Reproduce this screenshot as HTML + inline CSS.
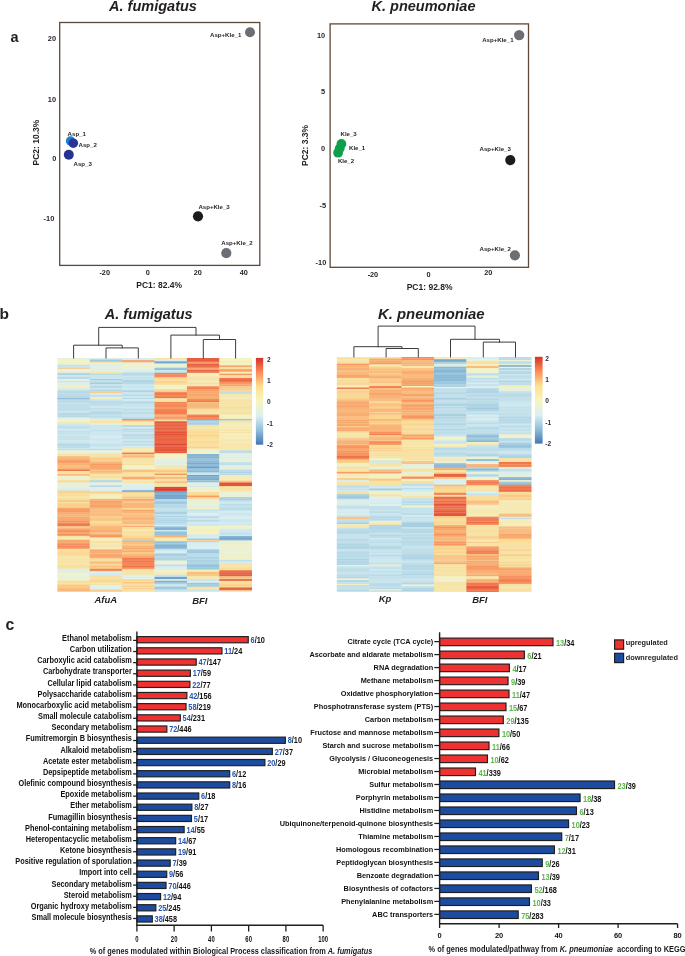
<!DOCTYPE html>
<html><head><meta charset="utf-8"><title>Figure</title>
<style>html,body{margin:0;padding:0;background:#fff;width:685px;height:956px;overflow:hidden}svg{display:block;will-change:transform}text{font-family:"Liberation Sans",sans-serif}</style>
</head><body><svg width="685" height="956" viewBox="0 0 685 956" font-family='"Liberation Sans", sans-serif'><text x="10.60" y="41.90" font-size="14.5" font-weight="bold" text-anchor="start" fill="#231f20">a</text><text x="153.00" y="10.80" font-size="14.5" font-weight="bold" text-anchor="middle" fill="#231f20" font-style="italic">A. fumigatus</text><text x="423.50" y="10.80" font-size="14.5" font-weight="bold" text-anchor="middle" fill="#231f20" font-style="italic">K. pneumoniae</text><rect x="59.70" y="22.50" width="200.10" height="242.90" fill="none" stroke="#5e4838" stroke-width="1.3"/><text x="56.10" y="41.15" font-size="7.4" font-weight="bold" text-anchor="end" fill="#231f20">20</text><text x="56.10" y="101.65" font-size="7.4" font-weight="bold" text-anchor="end" fill="#231f20">10</text><text x="56.30" y="160.95" font-size="7.4" font-weight="bold" text-anchor="end" fill="#231f20">0</text><text x="54.30" y="220.85" font-size="7.4" font-weight="bold" text-anchor="end" fill="#231f20">-10</text><text x="104.70" y="275.01" font-size="7.3" font-weight="bold" text-anchor="middle" fill="#231f20">-20</text><text x="147.80" y="275.01" font-size="7.3" font-weight="bold" text-anchor="middle" fill="#231f20">0</text><text x="197.70" y="275.01" font-size="7.3" font-weight="bold" text-anchor="middle" fill="#231f20">20</text><text x="243.80" y="275.01" font-size="7.3" font-weight="bold" text-anchor="middle" fill="#231f20">40</text><text x="159.20" y="287.64" font-size="8.5" font-weight="bold" text-anchor="middle" fill="#231f20">PC1: 82.4%</text><text x="35.60" y="145.60" font-size="8.5" font-weight="bold" text-anchor="middle" fill="#231f20" transform="rotate(-90 35.60 142.60)">PC2: 10.3%</text><circle cx="250.00" cy="32.20" r="5.00" fill="#6b6e73"/><circle cx="70.50" cy="141.00" r="4.70" fill="#1f7fd1"/><circle cx="73.30" cy="143.20" r="4.80" fill="#2a3492"/><circle cx="68.80" cy="154.80" r="5.00" fill="#27348f"/><circle cx="198.00" cy="216.30" r="5.10" fill="#1c1b1d"/><circle cx="226.30" cy="253.10" r="5.10" fill="#6b6e73"/><text x="210.00" y="37.20" font-size="6.1" font-weight="bold" text-anchor="start" fill="#231f20">Asp+Kle_1</text><text x="67.60" y="136.20" font-size="6.1" font-weight="bold" text-anchor="start" fill="#231f20">Asp_1</text><text x="78.50" y="147.00" font-size="6.1" font-weight="bold" text-anchor="start" fill="#231f20">Asp_2</text><text x="73.50" y="166.20" font-size="6.1" font-weight="bold" text-anchor="start" fill="#231f20">Asp_3</text><text x="198.40" y="208.60" font-size="6.1" font-weight="bold" text-anchor="start" fill="#231f20">Asp+Kle_3</text><text x="221.30" y="245.20" font-size="6.1" font-weight="bold" text-anchor="start" fill="#231f20">Asp+Kle_2</text><rect x="330.10" y="23.90" width="198.40" height="243.40" fill="none" stroke="#5e4838" stroke-width="1.3"/><text x="325.20" y="37.75" font-size="7.4" font-weight="bold" text-anchor="end" fill="#231f20">10</text><text x="325.20" y="94.45" font-size="7.4" font-weight="bold" text-anchor="end" fill="#231f20">5</text><text x="325.10" y="151.05" font-size="7.4" font-weight="bold" text-anchor="end" fill="#231f20">0</text><text x="326.20" y="208.45" font-size="7.4" font-weight="bold" text-anchor="end" fill="#231f20">-5</text><text x="326.30" y="264.75" font-size="7.4" font-weight="bold" text-anchor="end" fill="#231f20">-10</text><text x="372.90" y="276.61" font-size="7.3" font-weight="bold" text-anchor="middle" fill="#231f20">-20</text><text x="428.50" y="276.61" font-size="7.3" font-weight="bold" text-anchor="middle" fill="#231f20">0</text><text x="488.30" y="275.21" font-size="7.3" font-weight="bold" text-anchor="middle" fill="#231f20">20</text><text x="429.60" y="289.54" font-size="8.5" font-weight="bold" text-anchor="middle" fill="#231f20">PC1: 92.8%</text><text x="304.90" y="148.40" font-size="8.5" font-weight="bold" text-anchor="middle" fill="#231f20" transform="rotate(-90 304.90 145.40)">PC2: 3.3%</text><circle cx="519.20" cy="35.10" r="5.20" fill="#6b6e73"/><circle cx="510.30" cy="160.10" r="5.10" fill="#1c1b1d"/><circle cx="514.90" cy="255.30" r="5.10" fill="#6b6e73"/><circle cx="341.40" cy="143.90" r="4.90" fill="#0e9f4b"/><circle cx="339.70" cy="148.40" r="4.90" fill="#0e9f4b"/><circle cx="338.10" cy="152.70" r="4.90" fill="#0e9f4b"/><text x="482.20" y="41.70" font-size="6.1" font-weight="bold" text-anchor="start" fill="#231f20">Asp+Kle_1</text><text x="479.50" y="151.30" font-size="6.1" font-weight="bold" text-anchor="start" fill="#231f20">Asp+Kle_3</text><text x="479.50" y="251.40" font-size="6.1" font-weight="bold" text-anchor="start" fill="#231f20">Asp+Kle_2</text><text x="340.50" y="136.20" font-size="6.1" font-weight="bold" text-anchor="start" fill="#231f20">Kle_3</text><text x="349.00" y="149.60" font-size="6.1" font-weight="bold" text-anchor="start" fill="#231f20">Kle_1</text><text x="337.90" y="163.10" font-size="6.1" font-weight="bold" text-anchor="start" fill="#231f20">Kle_2</text><text x="-0.60" y="319.10" font-size="15.5" font-weight="bold" text-anchor="start" fill="#231f20">b</text><text x="148.70" y="318.80" font-size="14.5" font-weight="bold" text-anchor="middle" fill="#231f20" font-style="italic">A. fumigatus</text><text x="431.30" y="318.90" font-size="14.9" font-weight="bold" text-anchor="middle" fill="#231f20" font-style="italic">K. pneumoniae</text><rect x="57.40" y="358.00" width="32.68" height="1.60" fill="#e4f0de"/><rect x="57.40" y="359.30" width="32.68" height="0.50" fill="#e0efe5"/><rect x="57.40" y="359.50" width="32.68" height="2.10" fill="#f2f2c5"/><rect x="57.40" y="361.30" width="32.68" height="2.10" fill="#f1f2c8"/><rect x="57.40" y="363.10" width="32.68" height="1.60" fill="#eaf1d3"/><rect x="57.40" y="364.40" width="32.68" height="0.60" fill="#f3f1c3"/><rect x="57.40" y="364.70" width="32.68" height="2.10" fill="#c4e1eb"/><rect x="57.40" y="366.50" width="32.68" height="1.20" fill="#cbe6ee"/><rect x="57.40" y="367.40" width="32.68" height="0.60" fill="#cce7ee"/><rect x="57.40" y="367.70" width="32.68" height="1.30" fill="#f9be7f"/><rect x="57.40" y="368.70" width="32.68" height="1.20" fill="#f0f2c9"/><rect x="57.40" y="369.60" width="32.68" height="1.20" fill="#e5f0dc"/><rect x="57.40" y="370.50" width="32.68" height="2.50" fill="#e5f0dc"/><rect x="57.40" y="372.70" width="32.68" height="0.50" fill="#edf1ce"/><rect x="57.40" y="372.90" width="32.68" height="2.10" fill="#b3d7e6"/><rect x="57.40" y="374.70" width="32.68" height="0.70" fill="#a4cde1"/><rect x="57.40" y="375.10" width="32.68" height="2.10" fill="#cee8ef"/><rect x="57.40" y="376.90" width="32.68" height="0.70" fill="#b9dae8"/><rect x="57.40" y="377.30" width="32.68" height="1.60" fill="#add3e4"/><rect x="57.40" y="378.60" width="32.68" height="0.50" fill="#b5d8e7"/><rect x="57.40" y="378.80" width="32.68" height="1.20" fill="#deefe8"/><rect x="57.40" y="379.70" width="32.68" height="1.60" fill="#e4f0de"/><rect x="57.40" y="381.00" width="32.68" height="1.20" fill="#f8de9a"/><rect x="57.40" y="381.90" width="32.68" height="0.50" fill="#f8df9c"/><rect x="57.40" y="382.10" width="32.68" height="1.60" fill="#d7edf2"/><rect x="57.40" y="383.40" width="32.68" height="1.70" fill="#d8eef2"/><rect x="57.40" y="384.80" width="32.68" height="2.10" fill="#f4efbd"/><rect x="57.40" y="386.60" width="32.68" height="0.70" fill="#f3f1c1"/><rect x="57.40" y="387.00" width="32.68" height="2.50" fill="#e0efe4"/><rect x="57.40" y="389.20" width="32.68" height="2.10" fill="#c6e3ec"/><rect x="57.40" y="391.00" width="32.68" height="2.50" fill="#b8dae8"/><rect x="57.40" y="393.20" width="32.68" height="1.20" fill="#bbdce8"/><rect x="57.40" y="394.10" width="32.68" height="2.10" fill="#b9dbe8"/><rect x="57.40" y="395.90" width="32.68" height="1.60" fill="#b8dae7"/><rect x="57.40" y="397.20" width="32.68" height="1.30" fill="#afd4e5"/><rect x="57.40" y="398.20" width="32.68" height="1.50" fill="#85b4d4"/><rect x="57.40" y="399.40" width="32.68" height="1.60" fill="#bcdde9"/><rect x="57.40" y="400.70" width="32.68" height="2.10" fill="#b8dae7"/><rect x="57.40" y="402.50" width="32.68" height="1.20" fill="#bbdce8"/><rect x="57.40" y="403.40" width="32.68" height="1.60" fill="#c2e0eb"/><rect x="57.40" y="404.70" width="32.68" height="2.50" fill="#bedeea"/><rect x="57.40" y="406.90" width="32.68" height="2.10" fill="#c0dfea"/><rect x="57.40" y="408.70" width="32.68" height="1.60" fill="#bcdce9"/><rect x="57.40" y="410.00" width="32.68" height="1.20" fill="#c4e1eb"/><rect x="57.40" y="410.90" width="32.68" height="2.50" fill="#c8e4ed"/><rect x="57.40" y="413.10" width="32.68" height="2.50" fill="#b3d7e6"/><rect x="57.40" y="415.30" width="32.68" height="2.50" fill="#b7d9e7"/><rect x="57.40" y="417.50" width="32.68" height="1.80" fill="#e1efe3"/><rect x="57.40" y="419.00" width="32.68" height="1.60" fill="#f1f2c8"/><rect x="57.40" y="420.30" width="32.68" height="1.30" fill="#f3f1c1"/><rect x="57.40" y="421.30" width="32.68" height="1.20" fill="#f4edb9"/><rect x="57.40" y="422.20" width="32.68" height="1.60" fill="#f6e8b0"/><rect x="57.40" y="423.50" width="32.68" height="2.50" fill="#cee8ef"/><rect x="57.40" y="425.70" width="32.68" height="1.60" fill="#c0dfea"/><rect x="57.40" y="427.00" width="32.68" height="1.20" fill="#c2e0eb"/><rect x="57.40" y="427.90" width="32.68" height="1.60" fill="#c5e2ec"/><rect x="57.40" y="429.20" width="32.68" height="1.60" fill="#d0e9ef"/><rect x="57.40" y="430.50" width="32.68" height="2.10" fill="#c2e0eb"/><rect x="57.40" y="432.30" width="32.68" height="1.60" fill="#c0dfea"/><rect x="57.40" y="433.60" width="32.68" height="1.20" fill="#c4e1eb"/><rect x="57.40" y="434.50" width="32.68" height="2.50" fill="#cbe6ee"/><rect x="57.40" y="436.70" width="32.68" height="1.60" fill="#c1e0eb"/><rect x="57.40" y="438.00" width="32.68" height="1.20" fill="#cce6ee"/><rect x="57.40" y="438.90" width="32.68" height="1.60" fill="#c4e2eb"/><rect x="57.40" y="440.20" width="32.68" height="1.60" fill="#cde7ef"/><rect x="57.40" y="441.50" width="32.68" height="2.50" fill="#cce6ee"/><rect x="57.40" y="443.70" width="32.68" height="1.60" fill="#b4d8e6"/><rect x="57.40" y="445.00" width="32.68" height="1.20" fill="#b6d9e7"/><rect x="57.40" y="445.90" width="32.68" height="1.20" fill="#c1e0ea"/><rect x="57.40" y="446.80" width="32.68" height="1.60" fill="#bbdce8"/><rect x="57.40" y="448.10" width="32.68" height="1.20" fill="#cce6ee"/><rect x="57.40" y="449.00" width="32.68" height="1.60" fill="#bedee9"/><rect x="57.40" y="450.30" width="32.68" height="1.20" fill="#e7f0d9"/><rect x="57.40" y="451.20" width="32.68" height="1.60" fill="#ebf1d1"/><rect x="57.40" y="452.50" width="32.68" height="1.10" fill="#edf1cf"/><rect x="57.40" y="453.30" width="32.68" height="1.60" fill="#f6e5a9"/><rect x="57.40" y="454.60" width="32.68" height="1.60" fill="#f7e5a8"/><rect x="57.40" y="455.90" width="32.68" height="0.60" fill="#f5eab2"/><rect x="57.40" y="456.20" width="32.68" height="2.10" fill="#f9b779"/><rect x="57.40" y="458.00" width="32.68" height="1.60" fill="#f9bb7c"/><rect x="57.40" y="459.30" width="32.68" height="1.60" fill="#f89e65"/><rect x="57.40" y="460.60" width="32.68" height="2.50" fill="#f89b62"/><rect x="57.40" y="462.80" width="32.68" height="2.50" fill="#f8b376"/><rect x="57.40" y="465.00" width="32.68" height="1.20" fill="#f9bd7d"/><rect x="57.40" y="465.90" width="32.68" height="2.10" fill="#f9c080"/><rect x="57.40" y="467.70" width="32.68" height="1.60" fill="#f8b375"/><rect x="57.40" y="469.00" width="32.68" height="0.90" fill="#f8a86d"/><rect x="57.40" y="469.60" width="32.68" height="1.70" fill="#f0784d"/><rect x="57.40" y="471.00" width="32.68" height="1.30" fill="#f7e2a3"/><rect x="57.40" y="472.00" width="32.68" height="2.50" fill="#f8e09e"/><rect x="57.40" y="474.20" width="32.68" height="1.80" fill="#f8b073"/><rect x="57.40" y="475.70" width="32.68" height="1.60" fill="#f1f2c8"/><rect x="57.40" y="477.00" width="32.68" height="2.10" fill="#eaf1d4"/><rect x="57.40" y="478.80" width="32.68" height="1.60" fill="#eaf1d3"/><rect x="57.40" y="480.10" width="32.68" height="0.40" fill="#f3f2c3"/><rect x="57.40" y="480.20" width="32.68" height="1.60" fill="#f9db96"/><rect x="57.40" y="481.50" width="32.68" height="1.20" fill="#f9d38f"/><rect x="57.40" y="482.40" width="32.68" height="1.60" fill="#eaf1d4"/><rect x="57.40" y="483.70" width="32.68" height="2.10" fill="#e8f0d7"/><rect x="57.40" y="485.50" width="32.68" height="1.60" fill="#e1efe3"/><rect x="57.40" y="486.80" width="32.68" height="1.20" fill="#e8f0d7"/><rect x="57.40" y="487.70" width="32.68" height="1.00" fill="#ecf1cf"/><rect x="57.40" y="488.40" width="32.68" height="2.50" fill="#d3ebf1"/><rect x="57.40" y="490.60" width="32.68" height="2.50" fill="#f9d28e"/><rect x="57.40" y="492.80" width="32.68" height="2.10" fill="#f9dc96"/><rect x="57.40" y="494.60" width="32.68" height="1.20" fill="#f9dc96"/><rect x="57.40" y="495.50" width="32.68" height="0.60" fill="#f9cf8c"/><rect x="57.40" y="495.80" width="32.68" height="2.10" fill="#f6e5aa"/><rect x="57.40" y="497.60" width="32.68" height="0.70" fill="#f7e4a6"/><rect x="57.40" y="498.00" width="32.68" height="2.10" fill="#f8e09e"/><rect x="57.40" y="499.80" width="32.68" height="2.50" fill="#f9cb89"/><rect x="57.40" y="502.00" width="32.68" height="1.60" fill="#f8e09e"/><rect x="57.40" y="503.30" width="32.68" height="1.60" fill="#f9cc89"/><rect x="57.40" y="504.60" width="32.68" height="2.50" fill="#f9cf8b"/><rect x="57.40" y="506.80" width="32.68" height="1.20" fill="#f9db95"/><rect x="57.40" y="507.70" width="32.68" height="1.60" fill="#f8a56a"/><rect x="57.40" y="509.00" width="32.68" height="2.10" fill="#f89c63"/><rect x="57.40" y="510.80" width="32.68" height="1.60" fill="#f89c64"/><rect x="57.40" y="512.10" width="32.68" height="2.50" fill="#f8ab6f"/><rect x="57.40" y="514.30" width="32.68" height="2.50" fill="#f8b476"/><rect x="57.40" y="516.50" width="32.68" height="0.50" fill="#f9b97a"/><rect x="57.40" y="516.70" width="32.68" height="1.60" fill="#f8ab6f"/><rect x="57.40" y="518.00" width="32.68" height="2.50" fill="#f8a96e"/><rect x="57.40" y="520.20" width="32.68" height="1.20" fill="#f89c63"/><rect x="57.40" y="521.10" width="32.68" height="1.60" fill="#f78c58"/><rect x="57.40" y="522.40" width="32.68" height="1.60" fill="#f8965e"/><rect x="57.40" y="523.70" width="32.68" height="1.60" fill="#ef774c"/><rect x="57.40" y="525.00" width="32.68" height="1.60" fill="#f17a4e"/><rect x="57.40" y="526.30" width="32.68" height="2.10" fill="#f9ce8b"/><rect x="57.40" y="528.10" width="32.68" height="0.80" fill="#f9b87a"/><rect x="57.40" y="528.60" width="32.68" height="1.60" fill="#f8a96e"/><rect x="57.40" y="529.90" width="32.68" height="1.20" fill="#f89e65"/><rect x="57.40" y="530.80" width="32.68" height="1.60" fill="#f78e59"/><rect x="57.40" y="532.10" width="32.68" height="1.60" fill="#f8a76c"/><rect x="57.40" y="533.40" width="32.68" height="2.50" fill="#f8905a"/><rect x="57.40" y="535.60" width="32.68" height="0.70" fill="#f8a86d"/><rect x="57.40" y="536.00" width="32.68" height="1.80" fill="#f7e4a7"/><rect x="57.40" y="537.50" width="32.68" height="1.20" fill="#f5eab4"/><rect x="57.40" y="538.40" width="32.68" height="1.60" fill="#f5ebb5"/><rect x="57.40" y="539.70" width="32.68" height="2.50" fill="#f8a96e"/><rect x="57.40" y="541.90" width="32.68" height="1.20" fill="#f8ac70"/><rect x="57.40" y="542.80" width="32.68" height="1.00" fill="#f9b87a"/><rect x="57.40" y="543.50" width="32.68" height="1.20" fill="#f0784d"/><rect x="57.40" y="544.40" width="32.68" height="1.20" fill="#f38152"/><rect x="57.40" y="545.30" width="32.68" height="1.20" fill="#f8965f"/><rect x="57.40" y="546.20" width="32.68" height="1.20" fill="#f0784d"/><rect x="57.40" y="547.10" width="32.68" height="1.20" fill="#f8935c"/><rect x="57.40" y="548.00" width="32.68" height="1.00" fill="#f68a57"/><rect x="57.40" y="548.70" width="32.68" height="1.20" fill="#f8df9c"/><rect x="57.40" y="549.60" width="32.68" height="1.60" fill="#f7e2a2"/><rect x="57.40" y="550.90" width="32.68" height="1.20" fill="#f8df9c"/><rect x="57.40" y="551.80" width="32.68" height="2.10" fill="#f9d994"/><rect x="57.40" y="553.60" width="32.68" height="2.10" fill="#f9d691"/><rect x="57.40" y="555.40" width="32.68" height="1.60" fill="#f7e3a4"/><rect x="57.40" y="556.70" width="32.68" height="2.10" fill="#f7e5a9"/><rect x="57.40" y="558.50" width="32.68" height="1.60" fill="#f7e2a2"/><rect x="57.40" y="559.80" width="32.68" height="1.20" fill="#f6e8af"/><rect x="57.40" y="560.70" width="32.68" height="1.60" fill="#f8e1a0"/><rect x="57.40" y="562.00" width="32.68" height="1.60" fill="#f7e4a6"/><rect x="57.40" y="563.30" width="32.68" height="1.60" fill="#f7e4a7"/><rect x="57.40" y="564.60" width="32.68" height="1.20" fill="#f8df9c"/><rect x="57.40" y="565.50" width="32.68" height="2.50" fill="#f8de9b"/><rect x="57.40" y="567.70" width="32.68" height="1.20" fill="#f6e6aa"/><rect x="57.40" y="568.60" width="32.68" height="0.50" fill="#f8e09f"/><rect x="57.40" y="568.80" width="32.68" height="2.50" fill="#dbeeed"/><rect x="57.40" y="571.00" width="32.68" height="1.10" fill="#d9eef1"/><rect x="57.40" y="571.80" width="32.68" height="1.60" fill="#e9f0d6"/><rect x="57.40" y="573.10" width="32.68" height="1.60" fill="#ebf1d2"/><rect x="57.40" y="574.40" width="32.68" height="1.60" fill="#ecf1d0"/><rect x="57.40" y="575.70" width="32.68" height="1.60" fill="#e7f0d9"/><rect x="57.40" y="577.00" width="32.68" height="2.10" fill="#e7f0d9"/><rect x="57.40" y="578.80" width="32.68" height="2.20" fill="#f2f2c6"/><rect x="57.40" y="580.70" width="32.68" height="1.60" fill="#f9dc96"/><rect x="57.40" y="582.00" width="32.68" height="1.60" fill="#f8df9d"/><rect x="57.40" y="583.30" width="32.68" height="1.60" fill="#f9dd97"/><rect x="57.40" y="584.60" width="32.68" height="2.40" fill="#f9cb88"/><rect x="57.40" y="586.70" width="32.68" height="1.60" fill="#f9ca88"/><rect x="57.40" y="588.00" width="32.68" height="1.20" fill="#f9c080"/><rect x="57.40" y="588.90" width="32.68" height="2.50" fill="#f9b779"/><rect x="57.40" y="591.10" width="32.68" height="0.70" fill="#f9ca88"/><rect x="89.78" y="358.00" width="32.68" height="1.20" fill="#deefe7"/><rect x="89.78" y="358.90" width="32.68" height="0.90" fill="#d2eaf0"/><rect x="89.78" y="359.50" width="32.68" height="2.50" fill="#9ecadf"/><rect x="89.78" y="361.70" width="32.68" height="1.20" fill="#f6e6ab"/><rect x="89.78" y="362.60" width="32.68" height="0.90" fill="#f7e4a6"/><rect x="89.78" y="363.20" width="32.68" height="1.60" fill="#e7f0d9"/><rect x="89.78" y="364.50" width="32.68" height="1.60" fill="#e2efe1"/><rect x="89.78" y="365.80" width="32.68" height="0.70" fill="#e2efe1"/><rect x="89.78" y="366.20" width="32.68" height="1.60" fill="#dbeeed"/><rect x="89.78" y="367.50" width="32.68" height="1.60" fill="#e5f0dc"/><rect x="89.78" y="368.80" width="32.68" height="1.60" fill="#dcefeb"/><rect x="89.78" y="370.10" width="32.68" height="1.60" fill="#e3f0e0"/><rect x="89.78" y="371.40" width="32.68" height="2.50" fill="#f6e7ad"/><rect x="89.78" y="373.60" width="32.68" height="1.60" fill="#b6d9e7"/><rect x="89.78" y="374.90" width="32.68" height="1.20" fill="#c9e5ed"/><rect x="89.78" y="375.80" width="32.68" height="2.50" fill="#cae5ed"/><rect x="89.78" y="378.00" width="32.68" height="1.30" fill="#cbe6ee"/><rect x="89.78" y="379.00" width="32.68" height="1.30" fill="#a3cde1"/><rect x="89.78" y="380.00" width="32.68" height="2.10" fill="#c2e0eb"/><rect x="89.78" y="381.80" width="32.68" height="1.00" fill="#c7e3ec"/><rect x="89.78" y="382.50" width="32.68" height="1.60" fill="#a0cbe0"/><rect x="89.78" y="383.80" width="32.68" height="0.50" fill="#add3e4"/><rect x="89.78" y="384.00" width="32.68" height="2.10" fill="#cae5ed"/><rect x="89.78" y="385.80" width="32.68" height="2.50" fill="#b9dbe8"/><rect x="89.78" y="388.00" width="32.68" height="2.10" fill="#cbe6ee"/><rect x="89.78" y="389.80" width="32.68" height="2.00" fill="#b2d6e5"/><rect x="89.78" y="391.50" width="32.68" height="1.60" fill="#f9cd8a"/><rect x="89.78" y="392.80" width="32.68" height="0.90" fill="#f9d28e"/><rect x="89.78" y="393.40" width="32.68" height="2.10" fill="#d4ebf1"/><rect x="89.78" y="395.20" width="32.68" height="1.20" fill="#b8dae8"/><rect x="89.78" y="396.10" width="32.68" height="1.60" fill="#c8e4ed"/><rect x="89.78" y="397.40" width="32.68" height="1.80" fill="#f4efbe"/><rect x="89.78" y="398.90" width="32.68" height="1.60" fill="#cfe8ef"/><rect x="89.78" y="400.20" width="32.68" height="1.60" fill="#bddde9"/><rect x="89.78" y="401.50" width="32.68" height="2.10" fill="#b7d9e7"/><rect x="89.78" y="403.30" width="32.68" height="1.20" fill="#b9dae8"/><rect x="89.78" y="404.20" width="32.68" height="1.20" fill="#b7d9e7"/><rect x="89.78" y="405.10" width="32.68" height="1.60" fill="#c1dfea"/><rect x="89.78" y="406.40" width="32.68" height="2.10" fill="#cee7ef"/><rect x="89.78" y="408.20" width="32.68" height="1.60" fill="#b9dae8"/><rect x="89.78" y="409.50" width="32.68" height="2.10" fill="#c6e3ec"/><rect x="89.78" y="411.30" width="32.68" height="0.60" fill="#c7e3ec"/><rect x="89.78" y="411.60" width="32.68" height="1.60" fill="#aed4e4"/><rect x="89.78" y="412.90" width="32.68" height="1.60" fill="#bbdce8"/><rect x="89.78" y="414.20" width="32.68" height="0.70" fill="#9fcadf"/><rect x="89.78" y="414.60" width="32.68" height="1.20" fill="#cee7ef"/><rect x="89.78" y="415.50" width="32.68" height="1.60" fill="#bbdce9"/><rect x="89.78" y="416.80" width="32.68" height="1.60" fill="#c0dfea"/><rect x="89.78" y="418.10" width="32.68" height="1.20" fill="#d0e9ef"/><rect x="89.78" y="419.00" width="32.68" height="1.60" fill="#f5eab3"/><rect x="89.78" y="420.30" width="32.68" height="2.10" fill="#f6e6aa"/><rect x="89.78" y="422.10" width="32.68" height="1.20" fill="#f7e3a4"/><rect x="89.78" y="423.00" width="32.68" height="0.80" fill="#f6e6aa"/><rect x="89.78" y="423.50" width="32.68" height="1.60" fill="#e3f0e0"/><rect x="89.78" y="424.80" width="32.68" height="0.50" fill="#e3f0df"/><rect x="89.78" y="425.00" width="32.68" height="2.50" fill="#cce7ee"/><rect x="89.78" y="427.20" width="32.68" height="1.20" fill="#c5e2ec"/><rect x="89.78" y="428.10" width="32.68" height="2.10" fill="#cce7ee"/><rect x="89.78" y="429.90" width="32.68" height="1.60" fill="#c2e0eb"/><rect x="89.78" y="431.20" width="32.68" height="1.60" fill="#c7e3ec"/><rect x="89.78" y="432.50" width="32.68" height="1.20" fill="#c6e3ec"/><rect x="89.78" y="433.40" width="32.68" height="1.20" fill="#cfe8ef"/><rect x="89.78" y="434.30" width="32.68" height="1.20" fill="#bfdeea"/><rect x="89.78" y="435.20" width="32.68" height="1.20" fill="#d3ebf0"/><rect x="89.78" y="436.10" width="32.68" height="1.60" fill="#d4ebf1"/><rect x="89.78" y="437.40" width="32.68" height="2.50" fill="#d0e9ef"/><rect x="89.78" y="439.60" width="32.68" height="1.20" fill="#c4e1eb"/><rect x="89.78" y="440.50" width="32.68" height="1.60" fill="#d4ebf1"/><rect x="89.78" y="441.80" width="32.68" height="2.10" fill="#d3ebf0"/><rect x="89.78" y="443.60" width="32.68" height="2.10" fill="#c2e1eb"/><rect x="89.78" y="445.40" width="32.68" height="1.60" fill="#c4e1eb"/><rect x="89.78" y="446.70" width="32.68" height="2.50" fill="#d2eaf0"/><rect x="89.78" y="448.90" width="32.68" height="1.60" fill="#badbe8"/><rect x="89.78" y="450.20" width="32.68" height="0.40" fill="#c7e3ec"/><rect x="89.78" y="450.30" width="32.68" height="1.20" fill="#e9f0d5"/><rect x="89.78" y="451.20" width="32.68" height="1.60" fill="#e4f0de"/><rect x="89.78" y="452.50" width="32.68" height="1.10" fill="#e1efe3"/><rect x="89.78" y="453.30" width="32.68" height="1.60" fill="#f8de9a"/><rect x="89.78" y="454.60" width="32.68" height="2.50" fill="#f7e3a5"/><rect x="89.78" y="456.80" width="32.68" height="1.20" fill="#f8e1a0"/><rect x="89.78" y="457.70" width="32.68" height="1.60" fill="#f9cb89"/><rect x="89.78" y="459.00" width="32.68" height="1.60" fill="#f9cd8a"/><rect x="89.78" y="460.30" width="32.68" height="1.60" fill="#f9c987"/><rect x="89.78" y="461.60" width="32.68" height="2.40" fill="#f9b97a"/><rect x="89.78" y="463.70" width="32.68" height="2.10" fill="#f89b63"/><rect x="89.78" y="465.50" width="32.68" height="1.60" fill="#f8a369"/><rect x="89.78" y="466.80" width="32.68" height="2.10" fill="#f8a86d"/><rect x="89.78" y="468.60" width="32.68" height="1.20" fill="#f89c63"/><rect x="89.78" y="469.50" width="32.68" height="0.40" fill="#f89860"/><rect x="89.78" y="469.60" width="32.68" height="1.60" fill="#f9c987"/><rect x="89.78" y="470.90" width="32.68" height="1.20" fill="#f8b476"/><rect x="89.78" y="471.80" width="32.68" height="0.50" fill="#f9ce8b"/><rect x="89.78" y="472.00" width="32.68" height="1.20" fill="#f9c080"/><rect x="89.78" y="472.90" width="32.68" height="1.60" fill="#f9d08c"/><rect x="89.78" y="474.20" width="32.68" height="1.60" fill="#f8e1a0"/><rect x="89.78" y="475.50" width="32.68" height="1.60" fill="#f7e2a3"/><rect x="89.78" y="476.80" width="32.68" height="1.60" fill="#f8df9c"/><rect x="89.78" y="478.10" width="32.68" height="1.60" fill="#f6e6ac"/><rect x="89.78" y="479.40" width="32.68" height="1.10" fill="#f8df9d"/><rect x="89.78" y="480.20" width="32.68" height="1.60" fill="#b1d5e5"/><rect x="89.78" y="481.50" width="32.68" height="1.20" fill="#b2d6e5"/><rect x="89.78" y="482.40" width="32.68" height="2.50" fill="#e7f0d9"/><rect x="89.78" y="484.60" width="32.68" height="1.10" fill="#e5f0db"/><rect x="89.78" y="485.40" width="32.68" height="1.80" fill="#b2d6e5"/><rect x="89.78" y="486.90" width="32.68" height="1.60" fill="#e0efe4"/><rect x="89.78" y="488.20" width="32.68" height="2.50" fill="#dbeeed"/><rect x="89.78" y="490.40" width="32.68" height="1.30" fill="#e0efe4"/><rect x="89.78" y="491.40" width="32.68" height="2.50" fill="#f9d08c"/><rect x="89.78" y="493.60" width="32.68" height="1.60" fill="#f4edb9"/><rect x="89.78" y="494.90" width="32.68" height="2.10" fill="#f4eebb"/><rect x="89.78" y="496.70" width="32.68" height="2.40" fill="#f3f2c3"/><rect x="89.78" y="498.80" width="32.68" height="2.50" fill="#f8b678"/><rect x="89.78" y="501.00" width="32.68" height="2.10" fill="#f8a268"/><rect x="89.78" y="502.80" width="32.68" height="2.10" fill="#f8ab6f"/><rect x="89.78" y="504.60" width="32.68" height="2.50" fill="#f8a268"/><rect x="89.78" y="506.80" width="32.68" height="1.20" fill="#f8a56b"/><rect x="89.78" y="507.70" width="32.68" height="1.60" fill="#f9bd7d"/><rect x="89.78" y="509.00" width="32.68" height="1.60" fill="#f9bd7d"/><rect x="89.78" y="510.30" width="32.68" height="2.10" fill="#f9ba7b"/><rect x="89.78" y="512.10" width="32.68" height="1.60" fill="#f9bd7d"/><rect x="89.78" y="513.40" width="32.68" height="2.10" fill="#f9b879"/><rect x="89.78" y="515.20" width="32.68" height="1.60" fill="#f9b87a"/><rect x="89.78" y="516.50" width="32.68" height="2.50" fill="#f9d28e"/><rect x="89.78" y="518.70" width="32.68" height="1.20" fill="#f9b779"/><rect x="89.78" y="519.60" width="32.68" height="2.10" fill="#f9cb89"/><rect x="89.78" y="521.40" width="32.68" height="2.50" fill="#f9dd98"/><rect x="89.78" y="523.60" width="32.68" height="2.10" fill="#f9cd8a"/><rect x="89.78" y="525.40" width="32.68" height="0.50" fill="#f8de9b"/><rect x="89.78" y="525.60" width="32.68" height="2.50" fill="#f9ba7b"/><rect x="89.78" y="527.80" width="32.68" height="2.50" fill="#f9b87a"/><rect x="89.78" y="530.00" width="32.68" height="2.50" fill="#f8ad71"/><rect x="89.78" y="532.20" width="32.68" height="1.60" fill="#f9b97b"/><rect x="89.78" y="533.50" width="32.68" height="1.30" fill="#f9bb7c"/><rect x="89.78" y="534.50" width="32.68" height="2.50" fill="#f89860"/><rect x="89.78" y="536.70" width="32.68" height="1.10" fill="#f89961"/><rect x="89.78" y="537.50" width="32.68" height="2.10" fill="#f4edba"/><rect x="89.78" y="539.30" width="32.68" height="1.50" fill="#f4eebb"/><rect x="89.78" y="540.50" width="32.68" height="1.60" fill="#f7e5a8"/><rect x="89.78" y="541.80" width="32.68" height="1.60" fill="#f8e1a0"/><rect x="89.78" y="543.10" width="32.68" height="1.60" fill="#f5e9b1"/><rect x="89.78" y="544.40" width="32.68" height="2.30" fill="#f7e3a5"/><rect x="89.78" y="546.40" width="32.68" height="2.10" fill="#f6e8af"/><rect x="89.78" y="548.20" width="32.68" height="1.20" fill="#f5ebb6"/><rect x="89.78" y="549.10" width="32.68" height="0.60" fill="#f5eab4"/><rect x="89.78" y="549.40" width="32.68" height="2.50" fill="#f8a86d"/><rect x="89.78" y="551.60" width="32.68" height="2.10" fill="#f8ae72"/><rect x="89.78" y="553.40" width="32.68" height="1.60" fill="#f8b174"/><rect x="89.78" y="554.70" width="32.68" height="1.60" fill="#f8a46a"/><rect x="89.78" y="556.00" width="32.68" height="1.60" fill="#f8a96e"/><rect x="89.78" y="557.30" width="32.68" height="1.40" fill="#f8a067"/><rect x="89.78" y="558.40" width="32.68" height="1.60" fill="#f8de9a"/><rect x="89.78" y="559.70" width="32.68" height="1.20" fill="#f8de9a"/><rect x="89.78" y="560.60" width="32.68" height="1.00" fill="#f7e2a4"/><rect x="89.78" y="561.30" width="32.68" height="2.10" fill="#f9be7e"/><rect x="89.78" y="563.10" width="32.68" height="1.60" fill="#f9c382"/><rect x="89.78" y="564.40" width="32.68" height="1.60" fill="#f9db96"/><rect x="89.78" y="565.70" width="32.68" height="1.60" fill="#f9c080"/><rect x="89.78" y="567.00" width="32.68" height="2.10" fill="#f9cf8c"/><rect x="89.78" y="568.80" width="32.68" height="1.60" fill="#f38252"/><rect x="89.78" y="570.10" width="32.68" height="1.20" fill="#f58856"/><rect x="89.78" y="571.00" width="32.68" height="1.60" fill="#cae5ed"/><rect x="89.78" y="572.30" width="32.68" height="1.60" fill="#dbefec"/><rect x="89.78" y="573.60" width="32.68" height="2.10" fill="#d0e9f0"/><rect x="89.78" y="575.40" width="32.68" height="1.10" fill="#cde7ee"/><rect x="89.78" y="576.20" width="32.68" height="1.60" fill="#f9dc96"/><rect x="89.78" y="577.50" width="32.68" height="1.60" fill="#f7e2a4"/><rect x="89.78" y="578.80" width="32.68" height="1.60" fill="#f8df9d"/><rect x="89.78" y="580.10" width="32.68" height="2.10" fill="#f9d590"/><rect x="89.78" y="581.90" width="32.68" height="1.60" fill="#f7e3a4"/><rect x="89.78" y="583.20" width="32.68" height="2.30" fill="#f7e3a4"/><rect x="89.78" y="585.20" width="32.68" height="1.60" fill="#ddefea"/><rect x="89.78" y="586.50" width="32.68" height="2.10" fill="#ddefe9"/><rect x="89.78" y="588.30" width="32.68" height="1.60" fill="#daeeef"/><rect x="89.78" y="589.60" width="32.68" height="1.60" fill="#f9ce8b"/><rect x="89.78" y="590.90" width="32.68" height="0.90" fill="#f9cf8c"/><rect x="122.17" y="358.00" width="32.68" height="2.10" fill="#d7edf2"/><rect x="122.17" y="359.80" width="32.68" height="0.70" fill="#d9eef0"/><rect x="122.17" y="360.20" width="32.68" height="1.60" fill="#f89a62"/><rect x="122.17" y="361.50" width="32.68" height="1.20" fill="#f8a066"/><rect x="122.17" y="362.40" width="32.68" height="2.10" fill="#ebf1d1"/><rect x="122.17" y="364.20" width="32.68" height="1.50" fill="#e7f0d8"/><rect x="122.17" y="365.40" width="32.68" height="1.60" fill="#f1f2c8"/><rect x="122.17" y="366.70" width="32.68" height="2.00" fill="#eef1cc"/><rect x="122.17" y="368.40" width="32.68" height="1.60" fill="#e5f0dc"/><rect x="122.17" y="369.70" width="32.68" height="1.20" fill="#d9eef1"/><rect x="122.17" y="370.60" width="32.68" height="1.10" fill="#e3f0df"/><rect x="122.17" y="371.40" width="32.68" height="1.60" fill="#d0e9ef"/><rect x="122.17" y="372.70" width="32.68" height="2.50" fill="#b8dae7"/><rect x="122.17" y="374.90" width="32.68" height="1.60" fill="#bddde9"/><rect x="122.17" y="376.20" width="32.68" height="1.60" fill="#cce7ee"/><rect x="122.17" y="377.50" width="32.68" height="1.20" fill="#add3e4"/><rect x="122.17" y="378.40" width="32.68" height="1.60" fill="#d0e9ef"/><rect x="122.17" y="379.70" width="32.68" height="2.50" fill="#afd4e4"/><rect x="122.17" y="381.90" width="32.68" height="2.10" fill="#b7d9e7"/><rect x="122.17" y="383.70" width="32.68" height="1.20" fill="#bfdeea"/><rect x="122.17" y="384.60" width="32.68" height="1.60" fill="#d1eaf0"/><rect x="122.17" y="385.90" width="32.68" height="1.20" fill="#c2e0eb"/><rect x="122.17" y="386.80" width="32.68" height="2.50" fill="#cee8ef"/><rect x="122.17" y="389.00" width="32.68" height="1.20" fill="#d2eaf0"/><rect x="122.17" y="389.90" width="32.68" height="1.20" fill="#bedee9"/><rect x="122.17" y="390.80" width="32.68" height="1.60" fill="#aed3e4"/><rect x="122.17" y="392.10" width="32.68" height="1.60" fill="#cae5ee"/><rect x="122.17" y="393.40" width="32.68" height="1.60" fill="#c7e3ec"/><rect x="122.17" y="394.70" width="32.68" height="2.10" fill="#badbe8"/><rect x="122.17" y="396.50" width="32.68" height="1.60" fill="#d3ebf0"/><rect x="122.17" y="397.80" width="32.68" height="1.60" fill="#b6d9e7"/><rect x="122.17" y="399.10" width="32.68" height="2.50" fill="#d2eaf0"/><rect x="122.17" y="401.30" width="32.68" height="2.50" fill="#b3d7e6"/><rect x="122.17" y="403.50" width="32.68" height="2.10" fill="#c5e2ec"/><rect x="122.17" y="405.30" width="32.68" height="2.50" fill="#c6e3ec"/><rect x="122.17" y="407.50" width="32.68" height="1.20" fill="#d1eaf0"/><rect x="122.17" y="408.40" width="32.68" height="2.50" fill="#bddde9"/><rect x="122.17" y="410.60" width="32.68" height="1.60" fill="#c9e5ed"/><rect x="122.17" y="411.90" width="32.68" height="2.50" fill="#bddde9"/><rect x="122.17" y="414.10" width="32.68" height="1.20" fill="#c9e5ed"/><rect x="122.17" y="415.00" width="32.68" height="2.50" fill="#c9e5ed"/><rect x="122.17" y="417.20" width="32.68" height="1.20" fill="#b7d9e7"/><rect x="122.17" y="418.10" width="32.68" height="1.20" fill="#b3d7e6"/><rect x="122.17" y="419.00" width="32.68" height="1.60" fill="#f8935c"/><rect x="122.17" y="420.30" width="32.68" height="1.20" fill="#f8ae72"/><rect x="122.17" y="421.20" width="32.68" height="0.40" fill="#f8915b"/><rect x="122.17" y="421.30" width="32.68" height="2.50" fill="#f6e8b0"/><rect x="122.17" y="423.50" width="32.68" height="1.60" fill="#f5ecb8"/><rect x="122.17" y="424.80" width="32.68" height="0.50" fill="#f4edb9"/><rect x="122.17" y="425.00" width="32.68" height="2.50" fill="#b8dae7"/><rect x="122.17" y="427.20" width="32.68" height="1.60" fill="#d1eaf0"/><rect x="122.17" y="428.50" width="32.68" height="2.10" fill="#b7d9e7"/><rect x="122.17" y="430.30" width="32.68" height="2.50" fill="#bfdeea"/><rect x="122.17" y="432.50" width="32.68" height="1.60" fill="#cfe8ef"/><rect x="122.17" y="433.80" width="32.68" height="1.20" fill="#c0dfea"/><rect x="122.17" y="434.70" width="32.68" height="2.10" fill="#b8dae8"/><rect x="122.17" y="436.50" width="32.68" height="1.60" fill="#c0dfea"/><rect x="122.17" y="437.80" width="32.68" height="1.60" fill="#bedeea"/><rect x="122.17" y="439.10" width="32.68" height="2.10" fill="#cfe8ef"/><rect x="122.17" y="440.90" width="32.68" height="1.60" fill="#b9dbe8"/><rect x="122.17" y="442.20" width="32.68" height="1.60" fill="#c6e3ec"/><rect x="122.17" y="443.50" width="32.68" height="1.60" fill="#c0dfea"/><rect x="122.17" y="444.80" width="32.68" height="1.60" fill="#c6e3ec"/><rect x="122.17" y="446.10" width="32.68" height="2.10" fill="#d3ebf0"/><rect x="122.17" y="447.90" width="32.68" height="0.40" fill="#c5e2ec"/><rect x="122.17" y="448.00" width="32.68" height="1.60" fill="#f5eab3"/><rect x="122.17" y="449.30" width="32.68" height="2.10" fill="#f5ebb6"/><rect x="122.17" y="451.10" width="32.68" height="1.70" fill="#f5e9b2"/><rect x="122.17" y="452.50" width="32.68" height="1.80" fill="#f27e50"/><rect x="122.17" y="454.00" width="32.68" height="2.50" fill="#f9c685"/><rect x="122.17" y="456.20" width="32.68" height="1.60" fill="#f8ae71"/><rect x="122.17" y="457.50" width="32.68" height="0.50" fill="#f9ba7c"/><rect x="122.17" y="457.70" width="32.68" height="2.50" fill="#f7e3a5"/><rect x="122.17" y="459.90" width="32.68" height="2.10" fill="#f7e3a5"/><rect x="122.17" y="461.70" width="32.68" height="2.50" fill="#f6e6ab"/><rect x="122.17" y="463.90" width="32.68" height="1.60" fill="#f8de9b"/><rect x="122.17" y="465.20" width="32.68" height="2.50" fill="#f1f2c8"/><rect x="122.17" y="467.40" width="32.68" height="1.60" fill="#f1f2c8"/><rect x="122.17" y="468.70" width="32.68" height="1.20" fill="#f1f2c8"/><rect x="122.17" y="469.60" width="32.68" height="2.50" fill="#f9c181"/><rect x="122.17" y="471.80" width="32.68" height="0.50" fill="#f9ce8b"/><rect x="122.17" y="472.00" width="32.68" height="1.60" fill="#f9dd99"/><rect x="122.17" y="473.30" width="32.68" height="1.60" fill="#f8df9c"/><rect x="122.17" y="474.60" width="32.68" height="2.20" fill="#f6e6aa"/><rect x="122.17" y="476.50" width="32.68" height="1.60" fill="#f9b779"/><rect x="122.17" y="477.80" width="32.68" height="1.60" fill="#f8a76c"/><rect x="122.17" y="479.10" width="32.68" height="0.60" fill="#f8ab6f"/><rect x="122.17" y="479.40" width="32.68" height="1.20" fill="#f8e1a0"/><rect x="122.17" y="480.30" width="32.68" height="1.20" fill="#f6e8b0"/><rect x="122.17" y="481.20" width="32.68" height="2.30" fill="#f7e5a9"/><rect x="122.17" y="483.20" width="32.68" height="1.60" fill="#deefe8"/><rect x="122.17" y="484.50" width="32.68" height="2.50" fill="#deefe8"/><rect x="122.17" y="486.70" width="32.68" height="1.60" fill="#e1efe3"/><rect x="122.17" y="488.00" width="32.68" height="1.60" fill="#daeeef"/><rect x="122.17" y="489.30" width="32.68" height="0.90" fill="#dcefeb"/><rect x="122.17" y="489.90" width="32.68" height="1.60" fill="#8ebdd9"/><rect x="122.17" y="491.20" width="32.68" height="1.20" fill="#7cabd0"/><rect x="122.17" y="492.10" width="32.68" height="1.60" fill="#f9d28e"/><rect x="122.17" y="493.40" width="32.68" height="2.50" fill="#f8df9b"/><rect x="122.17" y="495.60" width="32.68" height="1.20" fill="#f8de9a"/><rect x="122.17" y="496.50" width="32.68" height="2.10" fill="#f9c987"/><rect x="122.17" y="498.30" width="32.68" height="0.80" fill="#f8df9d"/><rect x="122.17" y="498.80" width="32.68" height="1.20" fill="#f8a067"/><rect x="122.17" y="499.70" width="32.68" height="1.60" fill="#f8af73"/><rect x="122.17" y="501.00" width="32.68" height="1.60" fill="#f9c987"/><rect x="122.17" y="502.30" width="32.68" height="2.50" fill="#f9ba7b"/><rect x="122.17" y="504.50" width="32.68" height="1.20" fill="#f8a76d"/><rect x="122.17" y="505.40" width="32.68" height="1.60" fill="#f8b476"/><rect x="122.17" y="506.70" width="32.68" height="1.60" fill="#f9bb7c"/><rect x="122.17" y="508.00" width="32.68" height="2.10" fill="#f9d792"/><rect x="122.17" y="509.80" width="32.68" height="1.60" fill="#f8a56a"/><rect x="122.17" y="511.10" width="32.68" height="2.10" fill="#f8b073"/><rect x="122.17" y="512.90" width="32.68" height="1.60" fill="#f9cc89"/><rect x="122.17" y="514.20" width="32.68" height="1.60" fill="#f9b678"/><rect x="122.17" y="515.50" width="32.68" height="1.60" fill="#f9c080"/><rect x="122.17" y="516.80" width="32.68" height="1.60" fill="#f9b97a"/><rect x="122.17" y="518.10" width="32.68" height="1.60" fill="#f8ab6f"/><rect x="122.17" y="519.40" width="32.68" height="1.20" fill="#f8aa6e"/><rect x="122.17" y="520.30" width="32.68" height="1.60" fill="#f9c181"/><rect x="122.17" y="521.60" width="32.68" height="1.20" fill="#f8ae71"/><rect x="122.17" y="522.50" width="32.68" height="2.10" fill="#f9bb7c"/><rect x="122.17" y="524.30" width="32.68" height="2.10" fill="#f9d490"/><rect x="122.17" y="526.10" width="32.68" height="1.30" fill="#f8a66b"/><rect x="122.17" y="527.10" width="32.68" height="2.50" fill="#f8df9c"/><rect x="122.17" y="529.30" width="32.68" height="1.20" fill="#f8e1a1"/><rect x="122.17" y="530.20" width="32.68" height="2.10" fill="#f7e5a8"/><rect x="122.17" y="532.00" width="32.68" height="1.60" fill="#f8de9a"/><rect x="122.17" y="533.30" width="32.68" height="1.20" fill="#f8df9d"/><rect x="122.17" y="534.20" width="32.68" height="1.60" fill="#f8e09e"/><rect x="122.17" y="535.50" width="32.68" height="1.60" fill="#f9d994"/><rect x="122.17" y="536.80" width="32.68" height="1.00" fill="#f8de9b"/><rect x="122.17" y="537.50" width="32.68" height="2.50" fill="#f9c987"/><rect x="122.17" y="539.70" width="32.68" height="1.10" fill="#f9c080"/><rect x="122.17" y="540.50" width="32.68" height="1.80" fill="#a0cbdf"/><rect x="122.17" y="542.00" width="32.68" height="2.50" fill="#f9bf7f"/><rect x="122.17" y="544.20" width="32.68" height="1.60" fill="#f9c785"/><rect x="122.17" y="545.50" width="32.68" height="2.10" fill="#f8b275"/><rect x="122.17" y="547.30" width="32.68" height="2.50" fill="#f8aa6e"/><rect x="122.17" y="549.50" width="32.68" height="1.60" fill="#f9c181"/><rect x="122.17" y="550.80" width="32.68" height="1.20" fill="#f89f66"/><rect x="122.17" y="551.70" width="32.68" height="2.50" fill="#f9cb89"/><rect x="122.17" y="553.90" width="32.68" height="2.10" fill="#f9ba7c"/><rect x="122.17" y="555.70" width="32.68" height="1.20" fill="#f8a46a"/><rect x="122.17" y="556.60" width="32.68" height="1.20" fill="#f8a66c"/><rect x="122.17" y="557.50" width="32.68" height="0.40" fill="#f9c180"/><rect x="122.17" y="557.60" width="32.68" height="1.60" fill="#f07a4e"/><rect x="122.17" y="558.90" width="32.68" height="1.60" fill="#f38152"/><rect x="122.17" y="560.20" width="32.68" height="2.10" fill="#f17b4f"/><rect x="122.17" y="562.00" width="32.68" height="2.10" fill="#f58856"/><rect x="122.17" y="563.80" width="32.68" height="1.20" fill="#f58755"/><rect x="122.17" y="564.70" width="32.68" height="1.60" fill="#f68a57"/><rect x="122.17" y="566.00" width="32.68" height="1.20" fill="#ed714a"/><rect x="122.17" y="566.90" width="32.68" height="1.60" fill="#f78c58"/><rect x="122.17" y="568.20" width="32.68" height="0.90" fill="#f38353"/><rect x="122.17" y="568.80" width="32.68" height="1.60" fill="#f9dd98"/><rect x="122.17" y="570.10" width="32.68" height="2.10" fill="#f7e4a7"/><rect x="122.17" y="571.90" width="32.68" height="2.50" fill="#f7e4a6"/><rect x="122.17" y="574.10" width="32.68" height="0.90" fill="#f8e09e"/><rect x="122.17" y="574.70" width="32.68" height="2.10" fill="#ddefea"/><rect x="122.17" y="576.50" width="32.68" height="2.10" fill="#dbeeec"/><rect x="122.17" y="578.30" width="32.68" height="1.20" fill="#e4f0dd"/><rect x="122.17" y="579.20" width="32.68" height="2.10" fill="#f9d590"/><rect x="122.17" y="581.00" width="32.68" height="1.20" fill="#f6e7ad"/><rect x="122.17" y="581.90" width="32.68" height="1.60" fill="#f9c483"/><rect x="122.17" y="583.20" width="32.68" height="1.60" fill="#f9d490"/><rect x="122.17" y="584.50" width="32.68" height="1.20" fill="#f7e3a5"/><rect x="122.17" y="585.40" width="32.68" height="2.10" fill="#f9d18d"/><rect x="122.17" y="587.20" width="32.68" height="1.20" fill="#f8e09f"/><rect x="122.17" y="588.10" width="32.68" height="1.60" fill="#f9cd8a"/><rect x="122.17" y="589.40" width="32.68" height="1.20" fill="#f8e09e"/><rect x="122.17" y="590.30" width="32.68" height="1.20" fill="#f9dd99"/><rect x="122.17" y="591.20" width="32.68" height="0.60" fill="#f8e09e"/><rect x="154.55" y="358.00" width="32.68" height="1.20" fill="#f8e09f"/><rect x="154.55" y="358.90" width="32.68" height="0.60" fill="#f7e2a4"/><rect x="154.55" y="359.20" width="32.68" height="2.10" fill="#d5ecf1"/><rect x="154.55" y="361.00" width="32.68" height="1.20" fill="#93c2db"/><rect x="154.55" y="361.90" width="32.68" height="1.60" fill="#75a5cc"/><rect x="154.55" y="363.20" width="32.68" height="0.70" fill="#8bbad7"/><rect x="154.55" y="363.60" width="32.68" height="1.20" fill="#ebf1d1"/><rect x="154.55" y="364.50" width="32.68" height="1.20" fill="#e9f1d5"/><rect x="154.55" y="365.40" width="32.68" height="1.60" fill="#e9f1d5"/><rect x="154.55" y="366.70" width="32.68" height="1.30" fill="#ecf1d0"/><rect x="154.55" y="367.70" width="32.68" height="1.20" fill="#9cc8de"/><rect x="154.55" y="368.60" width="32.68" height="1.60" fill="#8bbad7"/><rect x="154.55" y="369.90" width="32.68" height="2.10" fill="#cee8ef"/><rect x="154.55" y="371.70" width="32.68" height="1.50" fill="#c1dfea"/><rect x="154.55" y="372.90" width="32.68" height="1.60" fill="#f38353"/><rect x="154.55" y="374.20" width="32.68" height="2.50" fill="#f58856"/><rect x="154.55" y="376.40" width="32.68" height="1.20" fill="#f0794e"/><rect x="154.55" y="377.30" width="32.68" height="2.50" fill="#f9d591"/><rect x="154.55" y="379.50" width="32.68" height="0.40" fill="#f8e09e"/><rect x="154.55" y="379.60" width="32.68" height="2.10" fill="#f8df9c"/><rect x="154.55" y="381.40" width="32.68" height="1.60" fill="#f9ca88"/><rect x="154.55" y="382.70" width="32.68" height="1.60" fill="#f8df9d"/><rect x="154.55" y="384.00" width="32.68" height="1.10" fill="#f9dd98"/><rect x="154.55" y="384.80" width="32.68" height="1.20" fill="#f2f2c6"/><rect x="154.55" y="385.70" width="32.68" height="1.60" fill="#f2f2c5"/><rect x="154.55" y="387.00" width="32.68" height="1.60" fill="#f3f1c2"/><rect x="154.55" y="388.30" width="32.68" height="1.20" fill="#f2f2c6"/><rect x="154.55" y="389.20" width="32.68" height="2.10" fill="#f9d691"/><rect x="154.55" y="391.00" width="32.68" height="1.50" fill="#f9ca88"/><rect x="154.55" y="392.20" width="32.68" height="1.20" fill="#ef774c"/><rect x="154.55" y="393.10" width="32.68" height="2.50" fill="#f0784d"/><rect x="154.55" y="395.30" width="32.68" height="2.10" fill="#f38253"/><rect x="154.55" y="397.10" width="32.68" height="1.40" fill="#ed7049"/><rect x="154.55" y="398.20" width="32.68" height="1.60" fill="#f7e2a2"/><rect x="154.55" y="399.50" width="32.68" height="2.10" fill="#f7e3a4"/><rect x="154.55" y="401.30" width="32.68" height="0.90" fill="#f7e4a7"/><rect x="154.55" y="401.90" width="32.68" height="1.60" fill="#f68956"/><rect x="154.55" y="403.20" width="32.68" height="1.60" fill="#f48353"/><rect x="154.55" y="404.50" width="32.68" height="2.50" fill="#f48554"/><rect x="154.55" y="406.70" width="32.68" height="2.50" fill="#f89a62"/><rect x="154.55" y="408.90" width="32.68" height="0.70" fill="#f8945d"/><rect x="154.55" y="409.30" width="32.68" height="1.60" fill="#ee724a"/><rect x="154.55" y="410.60" width="32.68" height="1.60" fill="#f28051"/><rect x="154.55" y="411.90" width="32.68" height="2.10" fill="#f0794e"/><rect x="154.55" y="413.70" width="32.68" height="0.40" fill="#f58856"/><rect x="154.55" y="413.80" width="32.68" height="1.60" fill="#f89e65"/><rect x="154.55" y="415.10" width="32.68" height="1.60" fill="#f8b376"/><rect x="154.55" y="416.40" width="32.68" height="2.50" fill="#f89a62"/><rect x="154.55" y="418.60" width="32.68" height="1.20" fill="#f8a369"/><rect x="154.55" y="419.50" width="32.68" height="0.60" fill="#f8ae72"/><rect x="154.55" y="419.80" width="32.68" height="1.60" fill="#f8e1a1"/><rect x="154.55" y="421.10" width="32.68" height="0.50" fill="#f7e2a3"/><rect x="154.55" y="421.30" width="32.68" height="1.20" fill="#e24f38"/><rect x="154.55" y="422.20" width="32.68" height="1.60" fill="#e14d37"/><rect x="154.55" y="423.50" width="32.68" height="1.60" fill="#ec6d47"/><rect x="154.55" y="424.80" width="32.68" height="1.60" fill="#e96543"/><rect x="154.55" y="426.10" width="32.68" height="1.60" fill="#e96543"/><rect x="154.55" y="427.40" width="32.68" height="2.50" fill="#e86041"/><rect x="154.55" y="429.60" width="32.68" height="1.20" fill="#e86342"/><rect x="154.55" y="430.50" width="32.68" height="1.60" fill="#ec6c47"/><rect x="154.55" y="431.80" width="32.68" height="1.60" fill="#e3533a"/><rect x="154.55" y="433.10" width="32.68" height="1.20" fill="#e86241"/><rect x="154.55" y="434.00" width="32.68" height="1.20" fill="#e35139"/><rect x="154.55" y="434.90" width="32.68" height="1.20" fill="#e96443"/><rect x="154.55" y="435.80" width="32.68" height="1.60" fill="#e96543"/><rect x="154.55" y="437.10" width="32.68" height="1.20" fill="#e86141"/><rect x="154.55" y="438.00" width="32.68" height="1.20" fill="#eb6b46"/><rect x="154.55" y="438.90" width="32.68" height="2.10" fill="#e86141"/><rect x="154.55" y="440.70" width="32.68" height="1.60" fill="#ec6d47"/><rect x="154.55" y="442.00" width="32.68" height="1.60" fill="#e96543"/><rect x="154.55" y="443.30" width="32.68" height="2.50" fill="#e04a35"/><rect x="154.55" y="445.50" width="32.68" height="1.20" fill="#e86241"/><rect x="154.55" y="446.40" width="32.68" height="1.60" fill="#e4573c"/><rect x="154.55" y="447.70" width="32.68" height="1.60" fill="#e75f40"/><rect x="154.55" y="449.00" width="32.68" height="2.50" fill="#e4563b"/><rect x="154.55" y="451.20" width="32.68" height="2.40" fill="#e65c3f"/><rect x="154.55" y="453.30" width="32.68" height="2.10" fill="#f3f2c3"/><rect x="154.55" y="455.10" width="32.68" height="2.10" fill="#f1f2c8"/><rect x="154.55" y="456.90" width="32.68" height="1.60" fill="#f3f1c1"/><rect x="154.55" y="458.20" width="32.68" height="1.30" fill="#eff1cc"/><rect x="154.55" y="459.20" width="32.68" height="2.50" fill="#e3f0df"/><rect x="154.55" y="461.40" width="32.68" height="1.60" fill="#e0efe5"/><rect x="154.55" y="462.70" width="32.68" height="2.10" fill="#e0efe4"/><rect x="154.55" y="464.50" width="32.68" height="1.00" fill="#e0efe5"/><rect x="154.55" y="465.20" width="32.68" height="1.60" fill="#f7e4a6"/><rect x="154.55" y="466.50" width="32.68" height="1.60" fill="#f6e8b0"/><rect x="154.55" y="467.80" width="32.68" height="2.10" fill="#f6e6ab"/><rect x="154.55" y="469.60" width="32.68" height="1.60" fill="#f9d08d"/><rect x="154.55" y="470.90" width="32.68" height="1.40" fill="#f9c685"/><rect x="154.55" y="472.00" width="32.68" height="1.80" fill="#f8de9a"/><rect x="154.55" y="473.50" width="32.68" height="1.80" fill="#f89961"/><rect x="154.55" y="475.00" width="32.68" height="1.20" fill="#f8e09f"/><rect x="154.55" y="475.90" width="32.68" height="1.60" fill="#f8e09e"/><rect x="154.55" y="477.20" width="32.68" height="1.60" fill="#f8ae71"/><rect x="154.55" y="478.50" width="32.68" height="0.50" fill="#f8ab70"/><rect x="154.55" y="478.70" width="32.68" height="1.60" fill="#f7e2a2"/><rect x="154.55" y="480.00" width="32.68" height="1.20" fill="#f7e3a4"/><rect x="154.55" y="480.90" width="32.68" height="1.60" fill="#f9cd8a"/><rect x="154.55" y="482.20" width="32.68" height="1.30" fill="#f9b678"/><rect x="154.55" y="483.20" width="32.68" height="2.10" fill="#f6e5a9"/><rect x="154.55" y="485.00" width="32.68" height="2.20" fill="#f7e5a9"/><rect x="154.55" y="486.90" width="32.68" height="1.60" fill="#de4632"/><rect x="154.55" y="488.20" width="32.68" height="2.50" fill="#da392c"/><rect x="154.55" y="490.40" width="32.68" height="1.30" fill="#da392c"/><rect x="154.55" y="491.40" width="32.68" height="1.60" fill="#71a0ca"/><rect x="154.55" y="492.70" width="32.68" height="2.50" fill="#85b4d4"/><rect x="154.55" y="494.90" width="32.68" height="1.20" fill="#74a3cb"/><rect x="154.55" y="495.80" width="32.68" height="2.10" fill="#79a8ce"/><rect x="154.55" y="497.60" width="32.68" height="1.50" fill="#6d9cc8"/><rect x="154.55" y="498.80" width="32.68" height="1.60" fill="#b4d7e6"/><rect x="154.55" y="500.10" width="32.68" height="2.00" fill="#b5d8e7"/><rect x="154.55" y="501.80" width="32.68" height="1.20" fill="#97c6dd"/><rect x="154.55" y="502.70" width="32.68" height="1.20" fill="#9dc9df"/><rect x="154.55" y="503.60" width="32.68" height="0.70" fill="#a2cce0"/><rect x="154.55" y="504.00" width="32.68" height="1.20" fill="#b9dbe8"/><rect x="154.55" y="504.90" width="32.68" height="2.50" fill="#b7d9e7"/><rect x="154.55" y="507.10" width="32.68" height="1.60" fill="#b8dae8"/><rect x="154.55" y="508.40" width="32.68" height="2.50" fill="#c3e1eb"/><rect x="154.55" y="510.60" width="32.68" height="1.20" fill="#c0dfea"/><rect x="154.55" y="511.50" width="32.68" height="1.60" fill="#afd4e5"/><rect x="154.55" y="512.80" width="32.68" height="1.20" fill="#9bc7de"/><rect x="154.55" y="513.70" width="32.68" height="2.50" fill="#c4e2eb"/><rect x="154.55" y="515.90" width="32.68" height="1.60" fill="#abd2e3"/><rect x="154.55" y="517.20" width="32.68" height="1.20" fill="#c3e1eb"/><rect x="154.55" y="518.10" width="32.68" height="1.60" fill="#b4d8e6"/><rect x="154.55" y="519.40" width="32.68" height="1.60" fill="#afd4e5"/><rect x="154.55" y="520.70" width="32.68" height="1.20" fill="#badbe8"/><rect x="154.55" y="521.60" width="32.68" height="2.10" fill="#b3d7e6"/><rect x="154.55" y="523.40" width="32.68" height="1.60" fill="#bedeea"/><rect x="154.55" y="524.70" width="32.68" height="0.50" fill="#b5d8e6"/><rect x="154.55" y="524.90" width="32.68" height="1.60" fill="#e0efe4"/><rect x="154.55" y="526.20" width="32.68" height="0.40" fill="#daeeee"/><rect x="154.55" y="526.30" width="32.68" height="1.60" fill="#93c2db"/><rect x="154.55" y="527.60" width="32.68" height="2.50" fill="#81b0d2"/><rect x="154.55" y="529.80" width="32.68" height="0.60" fill="#9ac7de"/><rect x="154.55" y="530.10" width="32.68" height="1.20" fill="#cfe8ef"/><rect x="154.55" y="531.00" width="32.68" height="0.90" fill="#c0dfea"/><rect x="154.55" y="531.60" width="32.68" height="1.60" fill="#95c4dc"/><rect x="154.55" y="532.90" width="32.68" height="1.60" fill="#95c4dc"/><rect x="154.55" y="534.20" width="32.68" height="1.60" fill="#8bbad7"/><rect x="154.55" y="535.50" width="32.68" height="0.80" fill="#a7cfe2"/><rect x="154.55" y="536.00" width="32.68" height="1.60" fill="#f8b174"/><rect x="154.55" y="537.30" width="32.68" height="0.50" fill="#f8ae71"/><rect x="154.55" y="537.50" width="32.68" height="1.60" fill="#f6e8af"/><rect x="154.55" y="538.80" width="32.68" height="1.60" fill="#f6e9b1"/><rect x="154.55" y="540.10" width="32.68" height="1.40" fill="#f6e8ae"/><rect x="154.55" y="541.20" width="32.68" height="2.50" fill="#93c2db"/><rect x="154.55" y="543.40" width="32.68" height="1.60" fill="#9ec9df"/><rect x="154.55" y="544.70" width="32.68" height="1.60" fill="#81b1d2"/><rect x="154.55" y="546.00" width="32.68" height="2.10" fill="#85b4d4"/><rect x="154.55" y="547.80" width="32.68" height="1.20" fill="#98c6dd"/><rect x="154.55" y="548.70" width="32.68" height="1.00" fill="#92c1da"/><rect x="154.55" y="549.40" width="32.68" height="2.10" fill="#d0e9ef"/><rect x="154.55" y="551.20" width="32.68" height="1.60" fill="#d7edf2"/><rect x="154.55" y="552.50" width="32.68" height="0.90" fill="#d8eef1"/><rect x="154.55" y="553.10" width="32.68" height="1.20" fill="#b5d8e6"/><rect x="154.55" y="554.00" width="32.68" height="1.20" fill="#a6cfe2"/><rect x="154.55" y="554.90" width="32.68" height="1.60" fill="#a9d0e2"/><rect x="154.55" y="556.20" width="32.68" height="2.10" fill="#b6d9e7"/><rect x="154.55" y="558.00" width="32.68" height="2.50" fill="#b1d5e5"/><rect x="154.55" y="560.20" width="32.68" height="0.70" fill="#b4d7e6"/><rect x="154.55" y="560.60" width="32.68" height="1.60" fill="#edf1ce"/><rect x="154.55" y="561.90" width="32.68" height="1.60" fill="#eaf1d4"/><rect x="154.55" y="563.20" width="32.68" height="1.40" fill="#f3f1c2"/><rect x="154.55" y="564.30" width="32.68" height="1.60" fill="#c1dfea"/><rect x="154.55" y="565.60" width="32.68" height="1.20" fill="#bcdde9"/><rect x="154.55" y="566.50" width="32.68" height="1.60" fill="#daeeef"/><rect x="154.55" y="567.80" width="32.68" height="1.20" fill="#e0efe4"/><rect x="154.55" y="568.70" width="32.68" height="1.60" fill="#ddefe9"/><rect x="154.55" y="570.00" width="32.68" height="0.60" fill="#ddefea"/><rect x="154.55" y="570.30" width="32.68" height="2.50" fill="#f4f0bf"/><rect x="154.55" y="572.50" width="32.68" height="2.10" fill="#f6e9b0"/><rect x="154.55" y="574.30" width="32.68" height="0.70" fill="#f5ebb5"/><rect x="154.55" y="574.70" width="32.68" height="1.20" fill="#c7e3ec"/><rect x="154.55" y="575.60" width="32.68" height="1.70" fill="#bedeea"/><rect x="154.55" y="577.00" width="32.68" height="2.10" fill="#71a0ca"/><rect x="154.55" y="578.80" width="32.68" height="0.70" fill="#78a7cd"/><rect x="154.55" y="579.20" width="32.68" height="1.20" fill="#ddefea"/><rect x="154.55" y="580.10" width="32.68" height="0.90" fill="#e2f0e0"/><rect x="154.55" y="580.70" width="32.68" height="2.10" fill="#81b0d2"/><rect x="154.55" y="582.50" width="32.68" height="1.50" fill="#9dc9df"/><rect x="154.55" y="583.70" width="32.68" height="1.60" fill="#c9e4ed"/><rect x="154.55" y="585.00" width="32.68" height="2.00" fill="#cfe9ef"/><rect x="154.55" y="586.70" width="32.68" height="2.10" fill="#9ac7de"/><rect x="154.55" y="588.50" width="32.68" height="1.40" fill="#9ecadf"/><rect x="154.55" y="589.60" width="32.68" height="1.60" fill="#cae6ee"/><rect x="154.55" y="590.90" width="32.68" height="0.90" fill="#c6e3ec"/><rect x="186.93" y="358.00" width="32.68" height="1.60" fill="#e75e40"/><rect x="186.93" y="359.30" width="32.68" height="1.60" fill="#de4532"/><rect x="186.93" y="360.60" width="32.68" height="1.40" fill="#ea6644"/><rect x="186.93" y="361.70" width="32.68" height="1.60" fill="#f89961"/><rect x="186.93" y="363.00" width="32.68" height="1.20" fill="#f89c64"/><rect x="186.93" y="363.90" width="32.68" height="1.60" fill="#e86241"/><rect x="186.93" y="365.20" width="32.68" height="1.60" fill="#e5583c"/><rect x="186.93" y="366.50" width="32.68" height="0.70" fill="#eb6a46"/><rect x="186.93" y="366.90" width="32.68" height="1.60" fill="#f58856"/><rect x="186.93" y="368.20" width="32.68" height="1.60" fill="#f8a46a"/><rect x="186.93" y="369.50" width="32.68" height="0.70" fill="#f89860"/><rect x="186.93" y="369.90" width="32.68" height="1.60" fill="#ea6845"/><rect x="186.93" y="371.20" width="32.68" height="1.60" fill="#ea6644"/><rect x="186.93" y="372.50" width="32.68" height="0.70" fill="#eb6b47"/><rect x="186.93" y="372.90" width="32.68" height="1.60" fill="#f5ecb7"/><rect x="186.93" y="374.20" width="32.68" height="1.20" fill="#f5ebb4"/><rect x="186.93" y="375.10" width="32.68" height="1.20" fill="#f4edb9"/><rect x="186.93" y="376.00" width="32.68" height="2.10" fill="#f6e7ac"/><rect x="186.93" y="377.80" width="32.68" height="1.60" fill="#f7e3a5"/><rect x="186.93" y="379.10" width="32.68" height="1.60" fill="#f7e2a2"/><rect x="186.93" y="380.40" width="32.68" height="2.50" fill="#f5ecb7"/><rect x="186.93" y="382.60" width="32.68" height="1.60" fill="#f8df9c"/><rect x="186.93" y="383.90" width="32.68" height="1.60" fill="#f6e8b0"/><rect x="186.93" y="385.20" width="32.68" height="1.40" fill="#f6e7ad"/><rect x="186.93" y="386.30" width="32.68" height="1.60" fill="#f48454"/><rect x="186.93" y="387.60" width="32.68" height="1.60" fill="#f27f51"/><rect x="186.93" y="388.90" width="32.68" height="0.60" fill="#f38152"/><rect x="186.93" y="389.20" width="32.68" height="2.50" fill="#f89f66"/><rect x="186.93" y="391.40" width="32.68" height="1.60" fill="#f8a469"/><rect x="186.93" y="392.70" width="32.68" height="1.20" fill="#f8b275"/><rect x="186.93" y="393.60" width="32.68" height="2.50" fill="#f8a76c"/><rect x="186.93" y="395.80" width="32.68" height="2.50" fill="#f8af72"/><rect x="186.93" y="398.00" width="32.68" height="1.20" fill="#f8b376"/><rect x="186.93" y="398.90" width="32.68" height="1.20" fill="#f68b58"/><rect x="186.93" y="399.80" width="32.68" height="1.60" fill="#f58755"/><rect x="186.93" y="401.10" width="32.68" height="1.10" fill="#e96443"/><rect x="186.93" y="401.90" width="32.68" height="1.20" fill="#f9c987"/><rect x="186.93" y="402.80" width="32.68" height="2.10" fill="#f9b779"/><rect x="186.93" y="404.60" width="32.68" height="1.60" fill="#f8b376"/><rect x="186.93" y="405.90" width="32.68" height="2.50" fill="#f9bb7c"/><rect x="186.93" y="408.10" width="32.68" height="0.80" fill="#f8ae71"/><rect x="186.93" y="408.60" width="32.68" height="1.60" fill="#f8de9b"/><rect x="186.93" y="409.90" width="32.68" height="2.10" fill="#f8e09e"/><rect x="186.93" y="411.70" width="32.68" height="2.50" fill="#f7e5a9"/><rect x="186.93" y="413.90" width="32.68" height="1.00" fill="#f7e4a7"/><rect x="186.93" y="414.60" width="32.68" height="1.20" fill="#f17d50"/><rect x="186.93" y="415.50" width="32.68" height="1.60" fill="#ed714a"/><rect x="186.93" y="416.80" width="32.68" height="2.50" fill="#f78c58"/><rect x="186.93" y="419.00" width="32.68" height="1.10" fill="#f48454"/><rect x="186.93" y="419.80" width="32.68" height="1.60" fill="#a0cbe0"/><rect x="186.93" y="421.10" width="32.68" height="1.60" fill="#add3e4"/><rect x="186.93" y="422.40" width="32.68" height="2.50" fill="#a8d0e2"/><rect x="186.93" y="424.60" width="32.68" height="0.70" fill="#b6d8e7"/><rect x="186.93" y="425.00" width="32.68" height="2.10" fill="#f8e1a1"/><rect x="186.93" y="426.80" width="32.68" height="2.10" fill="#f7e5a9"/><rect x="186.93" y="428.60" width="32.68" height="1.60" fill="#f7e4a7"/><rect x="186.93" y="429.90" width="32.68" height="1.20" fill="#f8e09f"/><rect x="186.93" y="430.80" width="32.68" height="1.20" fill="#f8e09e"/><rect x="186.93" y="431.70" width="32.68" height="2.10" fill="#f9db95"/><rect x="186.93" y="433.50" width="32.68" height="2.50" fill="#f9db95"/><rect x="186.93" y="435.70" width="32.68" height="1.60" fill="#f9d792"/><rect x="186.93" y="437.00" width="32.68" height="1.20" fill="#f6e5aa"/><rect x="186.93" y="437.90" width="32.68" height="1.20" fill="#f9da94"/><rect x="186.93" y="438.80" width="32.68" height="2.10" fill="#f7e4a7"/><rect x="186.93" y="440.60" width="32.68" height="1.60" fill="#f8df9b"/><rect x="186.93" y="441.90" width="32.68" height="1.60" fill="#f9d994"/><rect x="186.93" y="443.20" width="32.68" height="2.10" fill="#f8e09d"/><rect x="186.93" y="445.00" width="32.68" height="1.60" fill="#f7e3a5"/><rect x="186.93" y="446.30" width="32.68" height="2.50" fill="#f9d38f"/><rect x="186.93" y="448.50" width="32.68" height="0.60" fill="#f7e2a2"/><rect x="186.93" y="448.80" width="32.68" height="1.20" fill="#eef1cc"/><rect x="186.93" y="449.70" width="32.68" height="2.50" fill="#ebf1d2"/><rect x="186.93" y="451.90" width="32.68" height="1.60" fill="#f3f2c4"/><rect x="186.93" y="453.20" width="32.68" height="1.10" fill="#eff1cc"/><rect x="186.93" y="454.00" width="32.68" height="2.50" fill="#87b6d5"/><rect x="186.93" y="456.20" width="32.68" height="2.50" fill="#82b1d3"/><rect x="186.93" y="458.40" width="32.68" height="2.10" fill="#95c4dc"/><rect x="186.93" y="460.20" width="32.68" height="2.50" fill="#8ebdd9"/><rect x="186.93" y="462.40" width="32.68" height="2.10" fill="#7cabcf"/><rect x="186.93" y="464.20" width="32.68" height="1.60" fill="#86b5d4"/><rect x="186.93" y="465.50" width="32.68" height="1.20" fill="#8ab9d6"/><rect x="186.93" y="466.40" width="32.68" height="2.10" fill="#709fc9"/><rect x="186.93" y="468.20" width="32.68" height="1.60" fill="#8bbad7"/><rect x="186.93" y="469.50" width="32.68" height="1.60" fill="#95c4dc"/><rect x="186.93" y="470.80" width="32.68" height="1.50" fill="#8bbad7"/><rect x="186.93" y="472.00" width="32.68" height="1.60" fill="#b3d7e6"/><rect x="186.93" y="473.30" width="32.68" height="2.00" fill="#c9e5ed"/><rect x="186.93" y="475.00" width="32.68" height="1.60" fill="#72a1ca"/><rect x="186.93" y="476.30" width="32.68" height="2.50" fill="#7fafd1"/><rect x="186.93" y="478.50" width="32.68" height="2.00" fill="#78a7cd"/><rect x="186.93" y="480.20" width="32.68" height="1.20" fill="#9bc7de"/><rect x="186.93" y="481.10" width="32.68" height="1.20" fill="#8bbad7"/><rect x="186.93" y="482.00" width="32.68" height="0.70" fill="#93c2db"/><rect x="186.93" y="482.40" width="32.68" height="1.60" fill="#e6f0da"/><rect x="186.93" y="483.70" width="32.68" height="1.20" fill="#e4f0dd"/><rect x="186.93" y="484.60" width="32.68" height="1.10" fill="#deefe8"/><rect x="186.93" y="485.40" width="32.68" height="1.20" fill="#d5ecf1"/><rect x="186.93" y="486.30" width="32.68" height="0.90" fill="#c6e2ec"/><rect x="186.93" y="486.90" width="32.68" height="2.50" fill="#edf1ce"/><rect x="186.93" y="489.10" width="32.68" height="1.60" fill="#f4eebc"/><rect x="186.93" y="490.40" width="32.68" height="1.60" fill="#f0f1ca"/><rect x="186.93" y="491.70" width="32.68" height="0.70" fill="#eff1cb"/><rect x="186.93" y="492.10" width="32.68" height="1.20" fill="#f9db96"/><rect x="186.93" y="493.00" width="32.68" height="2.50" fill="#f9db95"/><rect x="186.93" y="495.20" width="32.68" height="0.90" fill="#f9c786"/><rect x="186.93" y="495.80" width="32.68" height="1.60" fill="#f89b63"/><rect x="186.93" y="497.10" width="32.68" height="0.50" fill="#f89860"/><rect x="186.93" y="497.30" width="32.68" height="1.60" fill="#f9d993"/><rect x="186.93" y="498.60" width="32.68" height="1.20" fill="#f9db95"/><rect x="186.93" y="499.50" width="32.68" height="2.10" fill="#e5f0db"/><rect x="186.93" y="501.30" width="32.68" height="2.50" fill="#e8f0d6"/><rect x="186.93" y="503.50" width="32.68" height="1.20" fill="#e0efe5"/><rect x="186.93" y="504.40" width="32.68" height="1.60" fill="#eaf1d4"/><rect x="186.93" y="505.70" width="32.68" height="1.60" fill="#e4f0de"/><rect x="186.93" y="507.00" width="32.68" height="1.00" fill="#e2f0e1"/><rect x="186.93" y="507.70" width="32.68" height="1.60" fill="#f3f1c3"/><rect x="186.93" y="509.00" width="32.68" height="0.50" fill="#f3f1c2"/><rect x="186.93" y="509.20" width="32.68" height="2.10" fill="#c7e3ec"/><rect x="186.93" y="511.00" width="32.68" height="2.50" fill="#cfe8ef"/><rect x="186.93" y="513.20" width="32.68" height="1.60" fill="#dbeeee"/><rect x="186.93" y="514.50" width="32.68" height="1.00" fill="#d6edf1"/><rect x="186.93" y="515.20" width="32.68" height="1.60" fill="#cde7ef"/><rect x="186.93" y="516.50" width="32.68" height="2.00" fill="#b5d8e7"/><rect x="186.93" y="518.20" width="32.68" height="2.10" fill="#cfe8ef"/><rect x="186.93" y="520.00" width="32.68" height="1.20" fill="#b7dae7"/><rect x="186.93" y="520.90" width="32.68" height="1.60" fill="#c3e1eb"/><rect x="186.93" y="522.20" width="32.68" height="1.60" fill="#d1eaf0"/><rect x="186.93" y="523.50" width="32.68" height="1.20" fill="#cce6ee"/><rect x="186.93" y="524.40" width="32.68" height="1.50" fill="#c3e1eb"/><rect x="186.93" y="525.60" width="32.68" height="1.60" fill="#f3f1c3"/><rect x="186.93" y="526.90" width="32.68" height="2.50" fill="#f3f2c5"/><rect x="186.93" y="529.10" width="32.68" height="2.50" fill="#f4efbd"/><rect x="186.93" y="531.30" width="32.68" height="1.60" fill="#f4efbe"/><rect x="186.93" y="532.60" width="32.68" height="1.20" fill="#f4f0c0"/><rect x="186.93" y="533.50" width="32.68" height="1.30" fill="#f3f0c1"/><rect x="186.93" y="534.50" width="32.68" height="2.50" fill="#d1eaf0"/><rect x="186.93" y="536.70" width="32.68" height="1.60" fill="#d7eef2"/><rect x="186.93" y="538.00" width="32.68" height="1.20" fill="#bcdce9"/><rect x="186.93" y="538.90" width="32.68" height="0.40" fill="#bcdde9"/><rect x="186.93" y="539.00" width="32.68" height="1.60" fill="#f8b476"/><rect x="186.93" y="540.30" width="32.68" height="1.20" fill="#f9d28e"/><rect x="186.93" y="541.20" width="32.68" height="1.10" fill="#f9c180"/><rect x="186.93" y="542.00" width="32.68" height="1.60" fill="#d1e9f0"/><rect x="186.93" y="543.30" width="32.68" height="2.50" fill="#d6edf1"/><rect x="186.93" y="545.50" width="32.68" height="2.10" fill="#d8eef2"/><rect x="186.93" y="547.30" width="32.68" height="2.10" fill="#dbeeed"/><rect x="186.93" y="549.10" width="32.68" height="0.60" fill="#d9eef0"/><rect x="186.93" y="549.40" width="32.68" height="1.20" fill="#99c7dd"/><rect x="186.93" y="550.30" width="32.68" height="1.60" fill="#99c6dd"/><rect x="186.93" y="551.60" width="32.68" height="1.80" fill="#9cc9de"/><rect x="186.93" y="553.10" width="32.68" height="2.50" fill="#b9dbe8"/><rect x="186.93" y="555.30" width="32.68" height="2.10" fill="#b7dae7"/><rect x="186.93" y="557.10" width="32.68" height="2.10" fill="#add3e4"/><rect x="186.93" y="558.90" width="32.68" height="1.20" fill="#c0dfea"/><rect x="186.93" y="559.80" width="32.68" height="2.50" fill="#acd3e4"/><rect x="186.93" y="562.00" width="32.68" height="2.10" fill="#b1d6e5"/><rect x="186.93" y="563.80" width="32.68" height="1.50" fill="#a3cde1"/><rect x="186.93" y="565.00" width="32.68" height="1.20" fill="#92c1db"/><rect x="186.93" y="565.90" width="32.68" height="1.60" fill="#94c3dc"/><rect x="186.93" y="567.20" width="32.68" height="2.10" fill="#9cc8de"/><rect x="186.93" y="569.00" width="32.68" height="0.80" fill="#8fbed9"/><rect x="186.93" y="569.50" width="32.68" height="2.50" fill="#f4eebb"/><rect x="186.93" y="571.70" width="32.68" height="0.40" fill="#f3f1c2"/><rect x="186.93" y="571.80" width="32.68" height="2.50" fill="#f9bf7f"/><rect x="186.93" y="574.00" width="32.68" height="2.10" fill="#f9c987"/><rect x="186.93" y="575.80" width="32.68" height="0.70" fill="#f9c181"/><rect x="186.93" y="576.20" width="32.68" height="2.50" fill="#f6e7ad"/><rect x="186.93" y="578.40" width="32.68" height="1.10" fill="#f7e4a6"/><rect x="186.93" y="579.20" width="32.68" height="1.60" fill="#c3e1eb"/><rect x="186.93" y="580.50" width="32.68" height="1.20" fill="#cee8ef"/><rect x="186.93" y="581.40" width="32.68" height="1.20" fill="#d3ebf0"/><rect x="186.93" y="582.30" width="32.68" height="0.90" fill="#d6edf1"/><rect x="186.93" y="582.90" width="32.68" height="1.60" fill="#99c6dd"/><rect x="186.93" y="584.20" width="32.68" height="1.60" fill="#9ecadf"/><rect x="186.93" y="585.50" width="32.68" height="1.50" fill="#9ecadf"/><rect x="186.93" y="586.70" width="32.68" height="1.60" fill="#f7e3a4"/><rect x="186.93" y="588.00" width="32.68" height="1.90" fill="#f6e6ab"/><rect x="186.93" y="589.60" width="32.68" height="1.20" fill="#c6e3ec"/><rect x="186.93" y="590.50" width="32.68" height="1.20" fill="#c3e1eb"/><rect x="186.93" y="591.40" width="32.68" height="0.40" fill="#d2eaf0"/><rect x="219.32" y="358.00" width="32.68" height="1.60" fill="#f3f2c3"/><rect x="219.32" y="359.30" width="32.68" height="1.60" fill="#f3f2c4"/><rect x="219.32" y="360.60" width="32.68" height="2.50" fill="#f4edb9"/><rect x="219.32" y="362.80" width="32.68" height="1.20" fill="#f1f2c7"/><rect x="219.32" y="363.70" width="32.68" height="1.20" fill="#f3f2c4"/><rect x="219.32" y="364.60" width="32.68" height="1.10" fill="#f1f2c8"/><rect x="219.32" y="365.40" width="32.68" height="1.60" fill="#f89b63"/><rect x="219.32" y="366.70" width="32.68" height="0.50" fill="#f8b073"/><rect x="219.32" y="366.90" width="32.68" height="1.20" fill="#f9dd98"/><rect x="219.32" y="367.80" width="32.68" height="1.60" fill="#f8df9c"/><rect x="219.32" y="369.10" width="32.68" height="2.50" fill="#f8a268"/><rect x="219.32" y="371.30" width="32.68" height="1.10" fill="#f8b174"/><rect x="219.32" y="372.10" width="32.68" height="1.80" fill="#f2f2c6"/><rect x="219.32" y="373.60" width="32.68" height="1.80" fill="#f89a62"/><rect x="219.32" y="375.10" width="32.68" height="1.20" fill="#f9dd98"/><rect x="219.32" y="376.00" width="32.68" height="2.10" fill="#f9dd98"/><rect x="219.32" y="377.80" width="32.68" height="0.60" fill="#f6e6ab"/><rect x="219.32" y="378.10" width="32.68" height="1.60" fill="#e96443"/><rect x="219.32" y="379.40" width="32.68" height="1.60" fill="#e86041"/><rect x="219.32" y="380.70" width="32.68" height="1.40" fill="#ef764c"/><rect x="219.32" y="381.80" width="32.68" height="1.60" fill="#f8925c"/><rect x="219.32" y="383.10" width="32.68" height="1.60" fill="#f8915b"/><rect x="219.32" y="384.40" width="32.68" height="1.60" fill="#f8ab6f"/><rect x="219.32" y="385.70" width="32.68" height="0.90" fill="#f89b63"/><rect x="219.32" y="386.30" width="32.68" height="1.60" fill="#f9cd8a"/><rect x="219.32" y="387.60" width="32.68" height="1.20" fill="#f9c281"/><rect x="219.32" y="388.50" width="32.68" height="2.10" fill="#f9d18d"/><rect x="219.32" y="390.30" width="32.68" height="1.50" fill="#f9d38f"/><rect x="219.32" y="391.50" width="32.68" height="2.50" fill="#bfdeea"/><rect x="219.32" y="393.70" width="32.68" height="1.60" fill="#f7e5a9"/><rect x="219.32" y="395.00" width="32.68" height="1.60" fill="#f6e9b1"/><rect x="219.32" y="396.30" width="32.68" height="1.60" fill="#f6e6aa"/><rect x="219.32" y="397.60" width="32.68" height="2.10" fill="#f5ecb7"/><rect x="219.32" y="399.40" width="32.68" height="0.60" fill="#f7e4a8"/><rect x="219.32" y="399.70" width="32.68" height="1.60" fill="#f7e2a3"/><rect x="219.32" y="401.00" width="32.68" height="1.60" fill="#f6e6ab"/><rect x="219.32" y="402.30" width="32.68" height="2.50" fill="#f8e1a1"/><rect x="219.32" y="404.50" width="32.68" height="2.50" fill="#f7e5a8"/><rect x="219.32" y="406.70" width="32.68" height="1.60" fill="#f9dd99"/><rect x="219.32" y="408.00" width="32.68" height="1.20" fill="#f7e4a7"/><rect x="219.32" y="408.90" width="32.68" height="1.20" fill="#f7e2a3"/><rect x="219.32" y="409.80" width="32.68" height="1.20" fill="#f6e6aa"/><rect x="219.32" y="410.70" width="32.68" height="1.20" fill="#f6e6ab"/><rect x="219.32" y="411.60" width="32.68" height="1.60" fill="#f7e3a5"/><rect x="219.32" y="412.90" width="32.68" height="1.20" fill="#f8e09f"/><rect x="219.32" y="413.80" width="32.68" height="1.10" fill="#f7e4a7"/><rect x="219.32" y="414.60" width="32.68" height="1.60" fill="#f2f2c5"/><rect x="219.32" y="415.90" width="32.68" height="2.50" fill="#f4f0c0"/><rect x="219.32" y="418.10" width="32.68" height="1.20" fill="#f4edb9"/><rect x="219.32" y="419.00" width="32.68" height="1.60" fill="#9ac7de"/><rect x="219.32" y="420.30" width="32.68" height="0.50" fill="#9bc7de"/><rect x="219.32" y="420.50" width="32.68" height="2.50" fill="#f6e5aa"/><rect x="219.32" y="422.70" width="32.68" height="1.20" fill="#f5eab4"/><rect x="219.32" y="423.60" width="32.68" height="2.10" fill="#f4edba"/><rect x="219.32" y="425.40" width="32.68" height="2.50" fill="#f5ecb8"/><rect x="219.32" y="427.60" width="32.68" height="1.20" fill="#f7e5a8"/><rect x="219.32" y="428.50" width="32.68" height="1.60" fill="#f5ecb7"/><rect x="219.32" y="429.80" width="32.68" height="1.60" fill="#f7e3a4"/><rect x="219.32" y="431.10" width="32.68" height="1.20" fill="#f4eebb"/><rect x="219.32" y="432.00" width="32.68" height="1.60" fill="#f7e3a5"/><rect x="219.32" y="433.30" width="32.68" height="1.60" fill="#f4eebb"/><rect x="219.32" y="434.60" width="32.68" height="2.10" fill="#f4edb9"/><rect x="219.32" y="436.40" width="32.68" height="1.20" fill="#f7e5a8"/><rect x="219.32" y="437.30" width="32.68" height="1.60" fill="#f4eebb"/><rect x="219.32" y="438.60" width="32.68" height="1.20" fill="#f5e9b1"/><rect x="219.32" y="439.50" width="32.68" height="1.60" fill="#f6e6ab"/><rect x="219.32" y="440.80" width="32.68" height="1.20" fill="#f4eebc"/><rect x="219.32" y="441.70" width="32.68" height="1.20" fill="#f7e5a9"/><rect x="219.32" y="442.60" width="32.68" height="1.20" fill="#f4eebb"/><rect x="219.32" y="443.50" width="32.68" height="1.60" fill="#f7e2a3"/><rect x="219.32" y="444.80" width="32.68" height="1.60" fill="#f6e8af"/><rect x="219.32" y="446.10" width="32.68" height="1.60" fill="#f7e5a9"/><rect x="219.32" y="447.40" width="32.68" height="1.60" fill="#f7e5a8"/><rect x="219.32" y="448.70" width="32.68" height="1.60" fill="#f5eab3"/><rect x="219.32" y="450.00" width="32.68" height="0.60" fill="#f7e5a8"/><rect x="219.32" y="450.30" width="32.68" height="2.50" fill="#bddde9"/><rect x="219.32" y="452.50" width="32.68" height="1.10" fill="#b4d8e6"/><rect x="219.32" y="453.30" width="32.68" height="1.60" fill="#e3f0e0"/><rect x="219.32" y="454.60" width="32.68" height="2.10" fill="#e3f0df"/><rect x="219.32" y="456.40" width="32.68" height="1.60" fill="#e0efe4"/><rect x="219.32" y="457.70" width="32.68" height="1.20" fill="#dcefec"/><rect x="219.32" y="458.60" width="32.68" height="0.90" fill="#e3f0df"/><rect x="219.32" y="459.20" width="32.68" height="2.50" fill="#e9f0d6"/><rect x="219.32" y="461.40" width="32.68" height="1.10" fill="#eef1cd"/><rect x="219.32" y="462.20" width="32.68" height="1.60" fill="#bedee9"/><rect x="219.32" y="463.50" width="32.68" height="1.60" fill="#bcdde9"/><rect x="219.32" y="464.80" width="32.68" height="0.70" fill="#cee8ef"/><rect x="219.32" y="465.20" width="32.68" height="2.50" fill="#e1efe3"/><rect x="219.32" y="467.40" width="32.68" height="1.60" fill="#e4f0dd"/><rect x="219.32" y="468.70" width="32.68" height="1.20" fill="#e8f0d7"/><rect x="219.32" y="469.60" width="32.68" height="2.50" fill="#bddde9"/><rect x="219.32" y="471.80" width="32.68" height="0.50" fill="#acd3e4"/><rect x="219.32" y="472.00" width="32.68" height="1.60" fill="#acd2e3"/><rect x="219.32" y="473.30" width="32.68" height="1.20" fill="#c0dfea"/><rect x="219.32" y="474.20" width="32.68" height="1.10" fill="#afd4e4"/><rect x="219.32" y="475.00" width="32.68" height="1.60" fill="#f5ebb6"/><rect x="219.32" y="476.30" width="32.68" height="2.10" fill="#f5eab3"/><rect x="219.32" y="478.10" width="32.68" height="2.10" fill="#f5ecb6"/><rect x="219.32" y="479.90" width="32.68" height="1.30" fill="#f7e4a7"/><rect x="219.32" y="480.90" width="32.68" height="1.20" fill="#f9c181"/><rect x="219.32" y="481.80" width="32.68" height="0.90" fill="#f9dc96"/><rect x="219.32" y="482.40" width="32.68" height="1.60" fill="#e65c3e"/><rect x="219.32" y="483.70" width="32.68" height="1.20" fill="#df4633"/><rect x="219.32" y="484.60" width="32.68" height="1.60" fill="#e4553b"/><rect x="219.32" y="485.90" width="32.68" height="0.50" fill="#e65b3e"/><rect x="219.32" y="486.10" width="32.68" height="1.60" fill="#f8de9a"/><rect x="219.32" y="487.40" width="32.68" height="2.50" fill="#f8e09f"/><rect x="219.32" y="489.60" width="32.68" height="1.60" fill="#f7e3a5"/><rect x="219.32" y="490.90" width="32.68" height="0.80" fill="#f7e5a8"/><rect x="219.32" y="491.40" width="32.68" height="2.10" fill="#e5f0db"/><rect x="219.32" y="493.20" width="32.68" height="1.60" fill="#f0f1ca"/><rect x="219.32" y="494.50" width="32.68" height="1.60" fill="#e6f0db"/><rect x="219.32" y="495.80" width="32.68" height="1.60" fill="#e9f0d5"/><rect x="219.32" y="497.10" width="32.68" height="0.50" fill="#e8f0d7"/><rect x="219.32" y="497.30" width="32.68" height="1.20" fill="#9ac7de"/><rect x="219.32" y="498.20" width="32.68" height="1.60" fill="#a8d0e2"/><rect x="219.32" y="499.50" width="32.68" height="1.10" fill="#99c7dd"/><rect x="219.32" y="500.30" width="32.68" height="1.60" fill="#bddde9"/><rect x="219.32" y="501.60" width="32.68" height="2.50" fill="#d1eaf0"/><rect x="219.32" y="503.80" width="32.68" height="1.60" fill="#bbdce9"/><rect x="219.32" y="505.10" width="32.68" height="1.20" fill="#c0dfea"/><rect x="219.32" y="506.00" width="32.68" height="2.00" fill="#c6e3ec"/><rect x="219.32" y="507.70" width="32.68" height="2.50" fill="#badbe8"/><rect x="219.32" y="509.90" width="32.68" height="1.10" fill="#bfdeea"/><rect x="219.32" y="510.70" width="32.68" height="2.10" fill="#d7edf2"/><rect x="219.32" y="512.50" width="32.68" height="2.10" fill="#cbe6ee"/><rect x="219.32" y="514.30" width="32.68" height="1.60" fill="#cbe6ee"/><rect x="219.32" y="515.60" width="32.68" height="1.20" fill="#cee8ef"/><rect x="219.32" y="516.50" width="32.68" height="1.60" fill="#daeeef"/><rect x="219.32" y="517.80" width="32.68" height="1.60" fill="#daeeef"/><rect x="219.32" y="519.10" width="32.68" height="1.20" fill="#cbe6ee"/><rect x="219.32" y="520.00" width="32.68" height="1.60" fill="#cbe6ee"/><rect x="219.32" y="521.30" width="32.68" height="1.60" fill="#c8e4ed"/><rect x="219.32" y="522.60" width="32.68" height="1.60" fill="#d9eef1"/><rect x="219.32" y="523.90" width="32.68" height="1.60" fill="#c8e4ed"/><rect x="219.32" y="525.20" width="32.68" height="0.70" fill="#d8eef2"/><rect x="219.32" y="525.60" width="32.68" height="1.60" fill="#f3f1c2"/><rect x="219.32" y="526.90" width="32.68" height="1.20" fill="#f0f1ca"/><rect x="219.32" y="527.80" width="32.68" height="1.10" fill="#f3f1c3"/><rect x="219.32" y="528.60" width="32.68" height="1.20" fill="#d5ecf1"/><rect x="219.32" y="529.50" width="32.68" height="2.10" fill="#cce7ee"/><rect x="219.32" y="531.30" width="32.68" height="1.60" fill="#cae5ed"/><rect x="219.32" y="532.60" width="32.68" height="2.50" fill="#c5e2ec"/><rect x="219.32" y="534.80" width="32.68" height="1.50" fill="#d0e9ef"/><rect x="219.32" y="536.00" width="32.68" height="1.60" fill="#85b4d4"/><rect x="219.32" y="537.30" width="32.68" height="2.50" fill="#72a2cb"/><rect x="219.32" y="539.50" width="32.68" height="1.30" fill="#7eadd0"/><rect x="219.32" y="540.50" width="32.68" height="1.20" fill="#eaf1d3"/><rect x="219.32" y="541.40" width="32.68" height="1.60" fill="#e5f0db"/><rect x="219.32" y="542.70" width="32.68" height="1.60" fill="#f4efbd"/><rect x="219.32" y="544.00" width="32.68" height="1.60" fill="#ebf1d1"/><rect x="219.32" y="545.30" width="32.68" height="1.60" fill="#f4efbe"/><rect x="219.32" y="546.60" width="32.68" height="2.10" fill="#edf1ce"/><rect x="219.32" y="548.40" width="32.68" height="1.20" fill="#ebf1d2"/><rect x="219.32" y="549.30" width="32.68" height="1.60" fill="#e6f0da"/><rect x="219.32" y="550.60" width="32.68" height="2.10" fill="#eef1cd"/><rect x="219.32" y="552.40" width="32.68" height="2.50" fill="#e9f1d5"/><rect x="219.32" y="554.60" width="32.68" height="1.60" fill="#f3f1c2"/><rect x="219.32" y="555.90" width="32.68" height="2.50" fill="#eff1cb"/><rect x="219.32" y="558.10" width="32.68" height="1.60" fill="#f1f2c7"/><rect x="219.32" y="559.40" width="32.68" height="0.70" fill="#ebf1d1"/><rect x="219.32" y="559.80" width="32.68" height="1.60" fill="#bedeea"/><rect x="219.32" y="561.10" width="32.68" height="1.60" fill="#cbe6ee"/><rect x="219.32" y="562.40" width="32.68" height="1.50" fill="#d1e9f0"/><rect x="219.32" y="563.60" width="32.68" height="1.60" fill="#f7e3a4"/><rect x="219.32" y="564.90" width="32.68" height="2.10" fill="#f7e5a9"/><rect x="219.32" y="566.70" width="32.68" height="0.90" fill="#f9dd98"/><rect x="219.32" y="567.30" width="32.68" height="1.60" fill="#f9dc96"/><rect x="219.32" y="568.60" width="32.68" height="1.60" fill="#f9db95"/><rect x="219.32" y="569.90" width="32.68" height="0.70" fill="#f9dc96"/><rect x="219.32" y="570.30" width="32.68" height="2.50" fill="#eb6b46"/><rect x="219.32" y="572.50" width="32.68" height="2.10" fill="#e86141"/><rect x="219.32" y="574.30" width="32.68" height="2.20" fill="#e65d3f"/><rect x="219.32" y="576.20" width="32.68" height="2.50" fill="#f9ba7b"/><rect x="219.32" y="578.40" width="32.68" height="1.10" fill="#f9d28e"/><rect x="219.32" y="579.20" width="32.68" height="1.80" fill="#e35239"/><rect x="219.32" y="580.70" width="32.68" height="2.10" fill="#f8de9b"/><rect x="219.32" y="582.50" width="32.68" height="2.50" fill="#f9dc96"/><rect x="219.32" y="584.70" width="32.68" height="1.60" fill="#f9cd8a"/><rect x="219.32" y="586.00" width="32.68" height="1.70" fill="#f9dd99"/><rect x="219.32" y="587.40" width="32.68" height="2.50" fill="#e96442"/><rect x="219.32" y="589.60" width="32.68" height="1.10" fill="#e75e3f"/><rect x="219.32" y="590.40" width="32.68" height="1.40" fill="#f7e5a8"/><rect x="336.80" y="357.00" width="32.70" height="1.20" fill="#f6e7ad"/><rect x="336.80" y="357.90" width="32.70" height="1.60" fill="#f8e09e"/><rect x="336.80" y="359.20" width="32.70" height="1.60" fill="#f6e6aa"/><rect x="336.80" y="360.50" width="32.70" height="1.60" fill="#f7e2a3"/><rect x="336.80" y="361.80" width="32.70" height="2.20" fill="#f8e1a1"/><rect x="336.80" y="363.70" width="32.70" height="1.80" fill="#f89a62"/><rect x="336.80" y="365.20" width="32.70" height="2.50" fill="#f8b275"/><rect x="336.80" y="367.40" width="32.70" height="1.00" fill="#f8b275"/><rect x="336.80" y="368.10" width="32.70" height="2.50" fill="#f8ad71"/><rect x="336.80" y="370.30" width="32.70" height="0.40" fill="#f89860"/><rect x="336.80" y="370.40" width="32.70" height="1.60" fill="#f9c886"/><rect x="336.80" y="371.70" width="32.70" height="1.60" fill="#f9b97a"/><rect x="336.80" y="373.00" width="32.70" height="2.10" fill="#f9ba7b"/><rect x="336.80" y="374.80" width="32.70" height="2.50" fill="#f8a56b"/><rect x="336.80" y="377.00" width="32.70" height="1.10" fill="#f8a369"/><rect x="336.80" y="377.80" width="32.70" height="1.20" fill="#f8e09e"/><rect x="336.80" y="378.70" width="32.70" height="1.60" fill="#f8e09f"/><rect x="336.80" y="380.00" width="32.70" height="2.50" fill="#f8de9a"/><rect x="336.80" y="382.20" width="32.70" height="2.50" fill="#f9d893"/><rect x="336.80" y="384.40" width="32.70" height="1.20" fill="#f9cd8a"/><rect x="336.80" y="385.30" width="32.70" height="2.10" fill="#f4edba"/><rect x="336.80" y="387.10" width="32.70" height="0.70" fill="#f5ecb8"/><rect x="336.80" y="387.50" width="32.70" height="1.60" fill="#f07a4e"/><rect x="336.80" y="388.80" width="32.70" height="0.50" fill="#f78c58"/><rect x="336.80" y="389.00" width="32.70" height="2.10" fill="#f8de9b"/><rect x="336.80" y="390.80" width="32.70" height="2.10" fill="#f9d18d"/><rect x="336.80" y="392.60" width="32.70" height="2.10" fill="#f9d38f"/><rect x="336.80" y="394.40" width="32.70" height="1.60" fill="#f9d993"/><rect x="336.80" y="395.70" width="32.70" height="2.10" fill="#f9d893"/><rect x="336.80" y="397.50" width="32.70" height="1.60" fill="#f9d38f"/><rect x="336.80" y="398.80" width="32.70" height="1.70" fill="#f9cb88"/><rect x="336.80" y="400.20" width="32.70" height="2.10" fill="#f8b578"/><rect x="336.80" y="402.00" width="32.70" height="2.50" fill="#f8a96d"/><rect x="336.80" y="404.20" width="32.70" height="2.10" fill="#f8ab6f"/><rect x="336.80" y="406.00" width="32.70" height="1.60" fill="#f8a66b"/><rect x="336.80" y="407.30" width="32.70" height="1.60" fill="#f8a369"/><rect x="336.80" y="408.60" width="32.70" height="2.50" fill="#f9b87a"/><rect x="336.80" y="410.80" width="32.70" height="2.10" fill="#f9b779"/><rect x="336.80" y="412.60" width="32.70" height="2.50" fill="#f8ae72"/><rect x="336.80" y="414.80" width="32.70" height="2.00" fill="#f8ab6f"/><rect x="336.80" y="416.50" width="32.70" height="2.50" fill="#f9c080"/><rect x="336.80" y="418.70" width="32.70" height="1.60" fill="#f9bc7d"/><rect x="336.80" y="420.00" width="32.70" height="1.60" fill="#f8a86d"/><rect x="336.80" y="421.30" width="32.70" height="2.50" fill="#f8aa6f"/><rect x="336.80" y="423.50" width="32.70" height="1.60" fill="#f8b174"/><rect x="336.80" y="424.80" width="32.70" height="1.60" fill="#f8a56b"/><rect x="336.80" y="426.10" width="32.70" height="1.20" fill="#f9d08c"/><rect x="336.80" y="427.00" width="32.70" height="1.20" fill="#f9b87a"/><rect x="336.80" y="427.90" width="32.70" height="1.60" fill="#f8aa6f"/><rect x="336.80" y="429.20" width="32.70" height="1.20" fill="#f8a86d"/><rect x="336.80" y="430.10" width="32.70" height="1.60" fill="#f8a46a"/><rect x="336.80" y="431.40" width="32.70" height="1.60" fill="#f8de9b"/><rect x="336.80" y="432.70" width="32.70" height="1.20" fill="#f7e2a3"/><rect x="336.80" y="433.60" width="32.70" height="1.20" fill="#f6e6ab"/><rect x="336.80" y="434.50" width="32.70" height="1.60" fill="#f7e5a8"/><rect x="336.80" y="435.80" width="32.70" height="1.20" fill="#f6e6aa"/><rect x="336.80" y="436.70" width="32.70" height="1.00" fill="#f6e6ab"/><rect x="336.80" y="437.40" width="32.70" height="1.20" fill="#f9d18d"/><rect x="336.80" y="438.30" width="32.70" height="1.60" fill="#f9c282"/><rect x="336.80" y="439.60" width="32.70" height="1.10" fill="#f9c584"/><rect x="336.80" y="440.40" width="32.70" height="2.50" fill="#f8af73"/><rect x="336.80" y="442.60" width="32.70" height="2.10" fill="#f8b376"/><rect x="336.80" y="444.40" width="32.70" height="0.70" fill="#f9c281"/><rect x="336.80" y="444.80" width="32.70" height="1.20" fill="#f8aa6f"/><rect x="336.80" y="445.70" width="32.70" height="2.50" fill="#f8955e"/><rect x="336.80" y="447.90" width="32.70" height="1.20" fill="#f8a167"/><rect x="336.80" y="448.80" width="32.70" height="2.10" fill="#f8aa6e"/><rect x="336.80" y="450.60" width="32.70" height="2.10" fill="#f89860"/><rect x="336.80" y="452.40" width="32.70" height="2.50" fill="#f8915b"/><rect x="336.80" y="454.60" width="32.70" height="1.60" fill="#f8915b"/><rect x="336.80" y="455.90" width="32.70" height="0.40" fill="#f8925c"/><rect x="336.80" y="456.00" width="32.70" height="2.10" fill="#ee734a"/><rect x="336.80" y="457.80" width="32.70" height="0.50" fill="#f27f51"/><rect x="336.80" y="458.00" width="32.70" height="1.60" fill="#f78d59"/><rect x="336.80" y="459.30" width="32.70" height="0.70" fill="#f89b63"/><rect x="336.80" y="459.70" width="32.70" height="1.60" fill="#f9cc8a"/><rect x="336.80" y="461.00" width="32.70" height="2.10" fill="#f9cd8a"/><rect x="336.80" y="462.80" width="32.70" height="0.90" fill="#f9d994"/><rect x="336.80" y="463.40" width="32.70" height="1.60" fill="#f0f2c9"/><rect x="336.80" y="464.70" width="32.70" height="2.50" fill="#f4edba"/><rect x="336.80" y="466.90" width="32.70" height="0.60" fill="#f4f0c0"/><rect x="336.80" y="467.20" width="32.70" height="1.60" fill="#f9d893"/><rect x="336.80" y="468.50" width="32.70" height="1.60" fill="#f6e7ae"/><rect x="336.80" y="469.80" width="32.70" height="1.60" fill="#f7e5a8"/><rect x="336.80" y="471.10" width="32.70" height="1.20" fill="#f9da95"/><rect x="336.80" y="472.00" width="32.70" height="1.80" fill="#f89c64"/><rect x="336.80" y="473.50" width="32.70" height="1.20" fill="#f6e7ac"/><rect x="336.80" y="474.40" width="32.70" height="1.60" fill="#f5e9b2"/><rect x="336.80" y="475.70" width="32.70" height="1.20" fill="#f4eebb"/><rect x="336.80" y="476.60" width="32.70" height="1.70" fill="#f4eebc"/><rect x="336.80" y="478.00" width="32.70" height="2.50" fill="#f9d18d"/><rect x="336.80" y="480.20" width="32.70" height="1.60" fill="#d9eef0"/><rect x="336.80" y="481.50" width="32.70" height="0.50" fill="#d5ecf1"/><rect x="336.80" y="481.70" width="32.70" height="1.20" fill="#f7e5a9"/><rect x="336.80" y="482.60" width="32.70" height="2.10" fill="#f7e2a3"/><rect x="336.80" y="484.40" width="32.70" height="1.20" fill="#f8e1a1"/><rect x="336.80" y="485.30" width="32.70" height="0.40" fill="#f7e4a7"/><rect x="336.80" y="485.40" width="32.70" height="1.20" fill="#b7d9e7"/><rect x="336.80" y="486.30" width="32.70" height="1.60" fill="#badbe8"/><rect x="336.80" y="487.60" width="32.70" height="1.20" fill="#c6e3ec"/><rect x="336.80" y="488.50" width="32.70" height="2.10" fill="#c4e2eb"/><rect x="336.80" y="490.30" width="32.70" height="1.40" fill="#cae5ed"/><rect x="336.80" y="491.40" width="32.70" height="1.60" fill="#f8e1a1"/><rect x="336.80" y="492.70" width="32.70" height="1.60" fill="#f8e1a0"/><rect x="336.80" y="494.00" width="32.70" height="0.60" fill="#f7e4a6"/><rect x="336.80" y="494.30" width="32.70" height="1.20" fill="#9bc8de"/><rect x="336.80" y="495.20" width="32.70" height="1.20" fill="#a4cde1"/><rect x="336.80" y="496.10" width="32.70" height="2.50" fill="#9bc8de"/><rect x="336.80" y="498.30" width="32.70" height="0.80" fill="#9dc9df"/><rect x="336.80" y="498.80" width="32.70" height="2.10" fill="#cee8ef"/><rect x="336.80" y="500.60" width="32.70" height="2.50" fill="#e0efe4"/><rect x="336.80" y="502.80" width="32.70" height="1.20" fill="#d9eef0"/><rect x="336.80" y="503.70" width="32.70" height="1.60" fill="#dbeeee"/><rect x="336.80" y="505.00" width="32.70" height="1.60" fill="#cbe6ee"/><rect x="336.80" y="506.30" width="32.70" height="2.10" fill="#c1dfea"/><rect x="336.80" y="508.10" width="32.70" height="1.60" fill="#c5e2ec"/><rect x="336.80" y="509.40" width="32.70" height="1.20" fill="#ddefea"/><rect x="336.80" y="510.30" width="32.70" height="1.20" fill="#d0e9ef"/><rect x="336.80" y="511.20" width="32.70" height="2.10" fill="#d3ebf0"/><rect x="336.80" y="513.00" width="32.70" height="2.50" fill="#d9eef0"/><rect x="336.80" y="515.20" width="32.70" height="1.20" fill="#cae5ed"/><rect x="336.80" y="516.10" width="32.70" height="0.90" fill="#cbe6ee"/><rect x="336.80" y="516.70" width="32.70" height="1.20" fill="#f9c080"/><rect x="336.80" y="517.60" width="32.70" height="1.60" fill="#f9c180"/><rect x="336.80" y="518.90" width="32.70" height="2.50" fill="#c2e0eb"/><rect x="336.80" y="521.10" width="32.70" height="1.80" fill="#bbdce8"/><rect x="336.80" y="522.60" width="32.70" height="1.60" fill="#a9d1e3"/><rect x="336.80" y="523.90" width="32.70" height="0.50" fill="#a5cee1"/><rect x="336.80" y="524.10" width="32.70" height="1.20" fill="#f5ecb8"/><rect x="336.80" y="525.00" width="32.70" height="1.60" fill="#f6e7ac"/><rect x="336.80" y="526.30" width="32.70" height="1.60" fill="#f6e6ab"/><rect x="336.80" y="527.60" width="32.70" height="0.50" fill="#f6e7ad"/><rect x="336.80" y="527.80" width="32.70" height="2.10" fill="#c4e1eb"/><rect x="336.80" y="529.60" width="32.70" height="2.10" fill="#b5d8e7"/><rect x="336.80" y="531.40" width="32.70" height="2.10" fill="#b1d5e5"/><rect x="336.80" y="533.20" width="32.70" height="1.60" fill="#b5d8e6"/><rect x="336.80" y="534.50" width="32.70" height="2.50" fill="#c7e3ec"/><rect x="336.80" y="536.70" width="32.70" height="2.10" fill="#c9e4ed"/><rect x="336.80" y="538.50" width="32.70" height="1.60" fill="#b8dae8"/><rect x="336.80" y="539.80" width="32.70" height="1.60" fill="#bbdce9"/><rect x="336.80" y="541.10" width="32.70" height="1.60" fill="#bddde9"/><rect x="336.80" y="542.40" width="32.70" height="1.20" fill="#bedeea"/><rect x="336.80" y="543.30" width="32.70" height="2.50" fill="#afd5e5"/><rect x="336.80" y="545.50" width="32.70" height="1.60" fill="#b2d6e5"/><rect x="336.80" y="546.80" width="32.70" height="2.50" fill="#b1d5e5"/><rect x="336.80" y="549.00" width="32.70" height="2.10" fill="#c8e4ed"/><rect x="336.80" y="550.80" width="32.70" height="1.20" fill="#c8e4ed"/><rect x="336.80" y="551.70" width="32.70" height="1.20" fill="#b0d5e5"/><rect x="336.80" y="552.60" width="32.70" height="1.60" fill="#b8dae8"/><rect x="336.80" y="553.90" width="32.70" height="1.60" fill="#badbe8"/><rect x="336.80" y="555.20" width="32.70" height="2.50" fill="#b5d8e7"/><rect x="336.80" y="557.40" width="32.70" height="1.60" fill="#bddde9"/><rect x="336.80" y="558.70" width="32.70" height="2.10" fill="#afd5e5"/><rect x="336.80" y="560.50" width="32.70" height="2.50" fill="#b4d7e6"/><rect x="336.80" y="562.70" width="32.70" height="2.50" fill="#b4d8e6"/><rect x="336.80" y="564.90" width="32.70" height="0.40" fill="#badbe8"/><rect x="336.80" y="565.00" width="32.70" height="1.60" fill="#f2f2c6"/><rect x="336.80" y="566.30" width="32.70" height="1.60" fill="#c4e1eb"/><rect x="336.80" y="567.60" width="32.70" height="2.50" fill="#c2e0eb"/><rect x="336.80" y="569.80" width="32.70" height="2.10" fill="#badbe8"/><rect x="336.80" y="571.60" width="32.70" height="1.20" fill="#c5e2ec"/><rect x="336.80" y="572.50" width="32.70" height="2.10" fill="#c7e3ec"/><rect x="336.80" y="574.30" width="32.70" height="1.60" fill="#b8dae8"/><rect x="336.80" y="575.60" width="32.70" height="1.20" fill="#bbdce8"/><rect x="336.80" y="576.50" width="32.70" height="2.10" fill="#b4d7e6"/><rect x="336.80" y="578.30" width="32.70" height="0.50" fill="#c2e0eb"/><rect x="336.80" y="578.50" width="32.70" height="1.80" fill="#f1f2c7"/><rect x="336.80" y="580.00" width="32.70" height="2.50" fill="#b6d9e7"/><rect x="336.80" y="582.20" width="32.70" height="1.20" fill="#c3e1eb"/><rect x="336.80" y="583.10" width="32.70" height="1.00" fill="#bddde9"/><rect x="336.80" y="583.80" width="32.70" height="1.60" fill="#f4f0bf"/><rect x="336.80" y="585.10" width="32.70" height="0.40" fill="#f5eab3"/><rect x="336.80" y="585.20" width="32.70" height="1.20" fill="#b6d9e7"/><rect x="336.80" y="586.10" width="32.70" height="2.50" fill="#c2e0eb"/><rect x="336.80" y="588.30" width="32.70" height="2.10" fill="#c0dfea"/><rect x="336.80" y="590.10" width="32.70" height="1.20" fill="#add3e4"/><rect x="336.80" y="591.00" width="32.70" height="0.80" fill="#c2e0eb"/><rect x="369.20" y="357.00" width="32.70" height="1.80" fill="#f7e3a4"/><rect x="369.20" y="358.50" width="32.70" height="1.60" fill="#f8a96e"/><rect x="369.20" y="359.80" width="32.70" height="1.20" fill="#f9ba7b"/><rect x="369.20" y="360.70" width="32.70" height="2.50" fill="#f8ad71"/><rect x="369.20" y="362.90" width="32.70" height="1.60" fill="#f89c63"/><rect x="369.20" y="364.20" width="32.70" height="0.50" fill="#f8915b"/><rect x="369.20" y="364.40" width="32.70" height="1.80" fill="#f5ecb7"/><rect x="369.20" y="365.90" width="32.70" height="1.60" fill="#f8e09e"/><rect x="369.20" y="367.20" width="32.70" height="2.10" fill="#f9c886"/><rect x="369.20" y="369.00" width="32.70" height="2.50" fill="#f9c382"/><rect x="369.20" y="371.20" width="32.70" height="2.10" fill="#f9b97a"/><rect x="369.20" y="373.00" width="32.70" height="1.20" fill="#f9d18e"/><rect x="369.20" y="373.90" width="32.70" height="2.10" fill="#f9c584"/><rect x="369.20" y="375.70" width="32.70" height="1.20" fill="#f8b678"/><rect x="369.20" y="376.60" width="32.70" height="2.10" fill="#f8aa6f"/><rect x="369.20" y="378.40" width="32.70" height="1.60" fill="#f9ca88"/><rect x="369.20" y="379.70" width="32.70" height="2.50" fill="#f9ca88"/><rect x="369.20" y="381.90" width="32.70" height="1.20" fill="#f9bf7f"/><rect x="369.20" y="382.80" width="32.70" height="1.60" fill="#f9dc97"/><rect x="369.20" y="384.10" width="32.70" height="2.10" fill="#f9d893"/><rect x="369.20" y="385.90" width="32.70" height="0.40" fill="#f8df9c"/><rect x="369.20" y="386.00" width="32.70" height="2.10" fill="#f48454"/><rect x="369.20" y="387.80" width="32.70" height="0.70" fill="#f0784d"/><rect x="369.20" y="388.20" width="32.70" height="1.60" fill="#f9c181"/><rect x="369.20" y="389.50" width="32.70" height="2.50" fill="#f8b174"/><rect x="369.20" y="391.70" width="32.70" height="1.20" fill="#f8b577"/><rect x="369.20" y="392.60" width="32.70" height="2.50" fill="#f8a46a"/><rect x="369.20" y="394.80" width="32.70" height="2.50" fill="#f8b275"/><rect x="369.20" y="397.00" width="32.70" height="1.60" fill="#f8b074"/><rect x="369.20" y="398.30" width="32.70" height="0.70" fill="#f8b174"/><rect x="369.20" y="398.70" width="32.70" height="2.50" fill="#f9bd7e"/><rect x="369.20" y="400.90" width="32.70" height="1.60" fill="#f9da95"/><rect x="369.20" y="402.20" width="32.70" height="1.60" fill="#f9d08d"/><rect x="369.20" y="403.50" width="32.70" height="1.60" fill="#f9c080"/><rect x="369.20" y="404.80" width="32.70" height="2.10" fill="#f9c685"/><rect x="369.20" y="406.60" width="32.70" height="1.20" fill="#f9c785"/><rect x="369.20" y="407.50" width="32.70" height="1.60" fill="#f9cc89"/><rect x="369.20" y="408.80" width="32.70" height="2.50" fill="#f9b779"/><rect x="369.20" y="411.00" width="32.70" height="1.60" fill="#f9ba7b"/><rect x="369.20" y="412.30" width="32.70" height="1.20" fill="#f9d08c"/><rect x="369.20" y="413.20" width="32.70" height="1.60" fill="#f8b375"/><rect x="369.20" y="414.50" width="32.70" height="2.50" fill="#f9d38f"/><rect x="369.20" y="416.70" width="32.70" height="1.60" fill="#f9db95"/><rect x="369.20" y="418.00" width="32.70" height="1.20" fill="#f9d993"/><rect x="369.20" y="418.90" width="32.70" height="2.10" fill="#f9b779"/><rect x="369.20" y="420.70" width="32.70" height="1.60" fill="#f9cf8c"/><rect x="369.20" y="422.00" width="32.70" height="1.20" fill="#f9cf8b"/><rect x="369.20" y="422.90" width="32.70" height="1.60" fill="#f9d692"/><rect x="369.20" y="424.20" width="32.70" height="2.10" fill="#f9b678"/><rect x="369.20" y="426.00" width="32.70" height="2.10" fill="#f8b577"/><rect x="369.20" y="427.80" width="32.70" height="2.10" fill="#f8b174"/><rect x="369.20" y="429.60" width="32.70" height="1.60" fill="#f8b476"/><rect x="369.20" y="430.90" width="32.70" height="0.80" fill="#f9d792"/><rect x="369.20" y="431.40" width="32.70" height="1.60" fill="#f88f59"/><rect x="369.20" y="432.70" width="32.70" height="1.60" fill="#f89961"/><rect x="369.20" y="434.00" width="32.70" height="1.50" fill="#f38152"/><rect x="369.20" y="435.20" width="32.70" height="1.60" fill="#f9c987"/><rect x="369.20" y="436.50" width="32.70" height="2.50" fill="#f9bd7d"/><rect x="369.20" y="438.70" width="32.70" height="2.10" fill="#f9b779"/><rect x="369.20" y="440.50" width="32.70" height="0.90" fill="#f9c987"/><rect x="369.20" y="441.10" width="32.70" height="2.50" fill="#f78d59"/><rect x="369.20" y="443.30" width="32.70" height="1.60" fill="#f48353"/><rect x="369.20" y="444.60" width="32.70" height="0.50" fill="#f78c58"/><rect x="369.20" y="444.80" width="32.70" height="1.20" fill="#f8de9a"/><rect x="369.20" y="445.70" width="32.70" height="2.10" fill="#f9dd97"/><rect x="369.20" y="447.50" width="32.70" height="1.60" fill="#f9ce8b"/><rect x="369.20" y="448.80" width="32.70" height="1.60" fill="#f9dd98"/><rect x="369.20" y="450.10" width="32.70" height="1.20" fill="#f9d08d"/><rect x="369.20" y="451.00" width="32.70" height="1.60" fill="#f8de9b"/><rect x="369.20" y="452.30" width="32.70" height="2.10" fill="#f8e09f"/><rect x="369.20" y="454.10" width="32.70" height="1.20" fill="#f8e09f"/><rect x="369.20" y="455.00" width="32.70" height="1.60" fill="#f8de9a"/><rect x="369.20" y="456.30" width="32.70" height="2.10" fill="#f8e1a1"/><rect x="369.20" y="458.10" width="32.70" height="0.40" fill="#f8df9d"/><rect x="369.20" y="458.20" width="32.70" height="2.50" fill="#f2f2c6"/><rect x="369.20" y="460.40" width="32.70" height="0.40" fill="#f3f2c5"/><rect x="369.20" y="460.50" width="32.70" height="1.60" fill="#c6e3ec"/><rect x="369.20" y="461.80" width="32.70" height="1.20" fill="#d7eef2"/><rect x="369.20" y="462.70" width="32.70" height="1.20" fill="#f8de9b"/><rect x="369.20" y="463.60" width="32.70" height="1.60" fill="#f7e5a8"/><rect x="369.20" y="464.90" width="32.70" height="1.60" fill="#f7e4a7"/><rect x="369.20" y="466.20" width="32.70" height="1.30" fill="#f6e7ad"/><rect x="369.20" y="467.20" width="32.70" height="1.60" fill="#e0efe5"/><rect x="369.20" y="468.50" width="32.70" height="1.20" fill="#e6f0db"/><rect x="369.20" y="469.40" width="32.70" height="1.20" fill="#f9bc7c"/><rect x="369.20" y="470.30" width="32.70" height="1.60" fill="#f8b174"/><rect x="369.20" y="471.60" width="32.70" height="0.70" fill="#f9c584"/><rect x="369.20" y="472.00" width="32.70" height="1.60" fill="#f89f66"/><rect x="369.20" y="473.30" width="32.70" height="0.50" fill="#f8965f"/><rect x="369.20" y="473.50" width="32.70" height="1.60" fill="#f1f2c8"/><rect x="369.20" y="474.80" width="32.70" height="2.50" fill="#f4f0bf"/><rect x="369.20" y="477.00" width="32.70" height="1.20" fill="#f3f2c4"/><rect x="369.20" y="477.90" width="32.70" height="1.10" fill="#f5ecb7"/><rect x="369.20" y="478.70" width="32.70" height="1.60" fill="#f9c786"/><rect x="369.20" y="480.00" width="32.70" height="1.20" fill="#f9cf8c"/><rect x="369.20" y="480.90" width="32.70" height="2.10" fill="#f7e2a2"/><rect x="369.20" y="482.70" width="32.70" height="1.60" fill="#f7e3a4"/><rect x="369.20" y="484.00" width="32.70" height="1.70" fill="#f7e2a3"/><rect x="369.20" y="485.40" width="32.70" height="2.50" fill="#cbe6ee"/><rect x="369.20" y="487.60" width="32.70" height="1.10" fill="#d9eef1"/><rect x="369.20" y="488.40" width="32.70" height="2.10" fill="#a2cce0"/><rect x="369.20" y="490.20" width="32.70" height="0.70" fill="#add3e4"/><rect x="369.20" y="490.60" width="32.70" height="1.20" fill="#ebf1d1"/><rect x="369.20" y="491.50" width="32.70" height="2.10" fill="#edf1ce"/><rect x="369.20" y="493.30" width="32.70" height="1.30" fill="#e2f0e1"/><rect x="369.20" y="494.30" width="32.70" height="2.50" fill="#f7e2a3"/><rect x="369.20" y="496.50" width="32.70" height="0.40" fill="#f6e8ae"/><rect x="369.20" y="496.60" width="32.70" height="2.10" fill="#deefe7"/><rect x="369.20" y="498.40" width="32.70" height="1.20" fill="#d7eef2"/><rect x="369.20" y="499.30" width="32.70" height="1.60" fill="#d6edf1"/><rect x="369.20" y="500.60" width="32.70" height="1.20" fill="#d4ecf1"/><rect x="369.20" y="501.50" width="32.70" height="1.20" fill="#d9eef1"/><rect x="369.20" y="502.40" width="32.70" height="2.10" fill="#d1eaf0"/><rect x="369.20" y="504.20" width="32.70" height="0.90" fill="#d7edf2"/><rect x="369.20" y="504.80" width="32.70" height="1.70" fill="#f3f2c5"/><rect x="369.20" y="506.20" width="32.70" height="1.20" fill="#b6d8e7"/><rect x="369.20" y="507.10" width="32.70" height="2.50" fill="#c2e0eb"/><rect x="369.20" y="509.30" width="32.70" height="1.20" fill="#b7dae7"/><rect x="369.20" y="510.20" width="32.70" height="1.20" fill="#cae5ed"/><rect x="369.20" y="511.10" width="32.70" height="2.50" fill="#bcdce9"/><rect x="369.20" y="513.30" width="32.70" height="2.50" fill="#cce6ee"/><rect x="369.20" y="515.50" width="32.70" height="1.60" fill="#bddde9"/><rect x="369.20" y="516.80" width="32.70" height="1.20" fill="#b5d8e7"/><rect x="369.20" y="517.70" width="32.70" height="1.20" fill="#b9dbe8"/><rect x="369.20" y="518.60" width="32.70" height="2.10" fill="#b8dae7"/><rect x="369.20" y="520.40" width="32.70" height="1.00" fill="#c4e1eb"/><rect x="369.20" y="521.10" width="32.70" height="2.10" fill="#f4efbd"/><rect x="369.20" y="522.90" width="32.70" height="2.10" fill="#f5e9b1"/><rect x="369.20" y="524.70" width="32.70" height="0.50" fill="#f4edba"/><rect x="369.20" y="524.90" width="32.70" height="1.60" fill="#add3e4"/><rect x="369.20" y="526.20" width="32.70" height="1.60" fill="#b0d5e5"/><rect x="369.20" y="527.50" width="32.70" height="1.40" fill="#a3cde0"/><rect x="369.20" y="528.60" width="32.70" height="1.60" fill="#badbe8"/><rect x="369.20" y="529.90" width="32.70" height="2.10" fill="#b6d9e7"/><rect x="369.20" y="531.70" width="32.70" height="1.60" fill="#bddde9"/><rect x="369.20" y="533.00" width="32.70" height="1.60" fill="#cae5ed"/><rect x="369.20" y="534.30" width="32.70" height="2.50" fill="#b4d8e6"/><rect x="369.20" y="536.50" width="32.70" height="1.60" fill="#badbe8"/><rect x="369.20" y="537.80" width="32.70" height="2.10" fill="#cfe9ef"/><rect x="369.20" y="539.60" width="32.70" height="1.60" fill="#bedeea"/><rect x="369.20" y="540.90" width="32.70" height="1.60" fill="#c7e3ec"/><rect x="369.20" y="542.20" width="32.70" height="1.20" fill="#b2d6e6"/><rect x="369.20" y="543.10" width="32.70" height="2.50" fill="#c8e4ed"/><rect x="369.20" y="545.30" width="32.70" height="1.60" fill="#b7dae7"/><rect x="369.20" y="546.60" width="32.70" height="2.50" fill="#b3d7e6"/><rect x="369.20" y="548.80" width="32.70" height="1.60" fill="#c4e2ec"/><rect x="369.20" y="550.10" width="32.70" height="1.60" fill="#c7e3ec"/><rect x="369.20" y="551.40" width="32.70" height="2.10" fill="#c2e0eb"/><rect x="369.20" y="553.20" width="32.70" height="1.60" fill="#cbe6ee"/><rect x="369.20" y="554.50" width="32.70" height="2.50" fill="#bbdce8"/><rect x="369.20" y="556.70" width="32.70" height="1.60" fill="#d0e9ef"/><rect x="369.20" y="558.00" width="32.70" height="1.60" fill="#c5e2ec"/><rect x="369.20" y="559.30" width="32.70" height="2.50" fill="#cde7ee"/><rect x="369.20" y="561.50" width="32.70" height="1.20" fill="#cfe8ef"/><rect x="369.20" y="562.40" width="32.70" height="2.10" fill="#c4e2ec"/><rect x="369.20" y="564.20" width="32.70" height="0.60" fill="#b6d9e7"/><rect x="369.20" y="564.50" width="32.70" height="1.60" fill="#f4f0c0"/><rect x="369.20" y="565.80" width="32.70" height="1.60" fill="#cbe6ee"/><rect x="369.20" y="567.10" width="32.70" height="2.50" fill="#c3e1eb"/><rect x="369.20" y="569.30" width="32.70" height="2.10" fill="#cde7ee"/><rect x="369.20" y="571.10" width="32.70" height="1.20" fill="#bfdeea"/><rect x="369.20" y="572.00" width="32.70" height="1.20" fill="#c5e2ec"/><rect x="369.20" y="572.90" width="32.70" height="1.60" fill="#cee8ef"/><rect x="369.20" y="574.20" width="32.70" height="1.20" fill="#b8dae7"/><rect x="369.20" y="575.10" width="32.70" height="1.60" fill="#b9dbe8"/><rect x="369.20" y="576.40" width="32.70" height="2.10" fill="#c3e1eb"/><rect x="369.20" y="578.20" width="32.70" height="1.60" fill="#bedeea"/><rect x="369.20" y="579.50" width="32.70" height="1.60" fill="#c6e3ec"/><rect x="369.20" y="580.80" width="32.70" height="2.10" fill="#cce6ee"/><rect x="369.20" y="582.60" width="32.70" height="1.60" fill="#bddde9"/><rect x="369.20" y="583.90" width="32.70" height="2.50" fill="#b9dbe8"/><rect x="369.20" y="586.10" width="32.70" height="1.60" fill="#c3e1eb"/><rect x="369.20" y="587.40" width="32.70" height="1.90" fill="#b7d9e7"/><rect x="369.20" y="589.00" width="32.70" height="1.80" fill="#f5ebb6"/><rect x="369.20" y="590.50" width="32.70" height="1.30" fill="#bbdce8"/><rect x="401.60" y="357.00" width="32.70" height="1.60" fill="#f78c58"/><rect x="401.60" y="358.30" width="32.70" height="2.00" fill="#f8925b"/><rect x="401.60" y="360.00" width="32.70" height="2.50" fill="#f9bc7d"/><rect x="401.60" y="362.20" width="32.70" height="2.50" fill="#f8b477"/><rect x="401.60" y="364.40" width="32.70" height="1.60" fill="#f8b577"/><rect x="401.60" y="365.70" width="32.70" height="0.50" fill="#f8b678"/><rect x="401.60" y="365.90" width="32.70" height="1.60" fill="#f6e5aa"/><rect x="401.60" y="367.20" width="32.70" height="1.20" fill="#f7e4a8"/><rect x="401.60" y="368.10" width="32.70" height="1.60" fill="#f9bf7f"/><rect x="401.60" y="369.40" width="32.70" height="2.50" fill="#f9b97a"/><rect x="401.60" y="371.60" width="32.70" height="1.60" fill="#f8a56b"/><rect x="401.60" y="372.90" width="32.70" height="1.20" fill="#f8b376"/><rect x="401.60" y="373.80" width="32.70" height="1.20" fill="#f9b879"/><rect x="401.60" y="374.70" width="32.70" height="2.50" fill="#f9bd7d"/><rect x="401.60" y="376.90" width="32.70" height="1.60" fill="#f9bc7d"/><rect x="401.60" y="378.20" width="32.70" height="2.10" fill="#f8a96e"/><rect x="401.60" y="380.00" width="32.70" height="1.10" fill="#f8b275"/><rect x="401.60" y="380.80" width="32.70" height="1.60" fill="#f89a62"/><rect x="401.60" y="382.10" width="32.70" height="2.10" fill="#f8a067"/><rect x="401.60" y="383.90" width="32.70" height="1.60" fill="#f8ab6f"/><rect x="401.60" y="385.20" width="32.70" height="1.10" fill="#f8935d"/><rect x="401.60" y="386.00" width="32.70" height="1.60" fill="#f3f2c3"/><rect x="401.60" y="387.30" width="32.70" height="0.50" fill="#f4eebb"/><rect x="401.60" y="387.50" width="32.70" height="2.10" fill="#f8aa6e"/><rect x="401.60" y="389.30" width="32.70" height="1.60" fill="#f8a46a"/><rect x="401.60" y="390.60" width="32.70" height="2.50" fill="#f9bf7f"/><rect x="401.60" y="392.80" width="32.70" height="1.60" fill="#f9bb7c"/><rect x="401.60" y="394.10" width="32.70" height="2.50" fill="#f8a067"/><rect x="401.60" y="396.30" width="32.70" height="2.10" fill="#f9bc7d"/><rect x="401.60" y="398.10" width="32.70" height="2.10" fill="#f8b073"/><rect x="401.60" y="399.90" width="32.70" height="2.10" fill="#f8965e"/><rect x="401.60" y="401.70" width="32.70" height="1.60" fill="#f9b879"/><rect x="401.60" y="403.00" width="32.70" height="1.60" fill="#f9bf7f"/><rect x="401.60" y="404.30" width="32.70" height="2.50" fill="#f89c64"/><rect x="401.60" y="406.50" width="32.70" height="1.20" fill="#f8a66b"/><rect x="401.60" y="407.40" width="32.70" height="2.50" fill="#f8a369"/><rect x="401.60" y="409.60" width="32.70" height="1.20" fill="#f8b073"/><rect x="401.60" y="410.50" width="32.70" height="2.10" fill="#f8af73"/><rect x="401.60" y="412.30" width="32.70" height="2.50" fill="#f8b577"/><rect x="401.60" y="414.50" width="32.70" height="1.60" fill="#f8aa6f"/><rect x="401.60" y="415.80" width="32.70" height="2.50" fill="#f8965f"/><rect x="401.60" y="418.00" width="32.70" height="1.80" fill="#f8a76c"/><rect x="401.60" y="419.50" width="32.70" height="2.10" fill="#f9d08d"/><rect x="401.60" y="421.30" width="32.70" height="1.60" fill="#f9dd98"/><rect x="401.60" y="422.60" width="32.70" height="1.20" fill="#f9d994"/><rect x="401.60" y="423.50" width="32.70" height="1.60" fill="#f9d38f"/><rect x="401.60" y="424.80" width="32.70" height="1.60" fill="#f9dd97"/><rect x="401.60" y="426.10" width="32.70" height="2.50" fill="#f8df9d"/><rect x="401.60" y="428.30" width="32.70" height="1.60" fill="#f9d38f"/><rect x="401.60" y="429.60" width="32.70" height="1.20" fill="#f9d38f"/><rect x="401.60" y="430.50" width="32.70" height="2.50" fill="#f8df9c"/><rect x="401.60" y="432.70" width="32.70" height="1.60" fill="#f9da95"/><rect x="401.60" y="434.00" width="32.70" height="0.70" fill="#f8e09d"/><rect x="401.60" y="434.40" width="32.70" height="2.50" fill="#f8a56b"/><rect x="401.60" y="436.60" width="32.70" height="1.10" fill="#f9ba7b"/><rect x="401.60" y="437.40" width="32.70" height="2.50" fill="#f89961"/><rect x="401.60" y="439.60" width="32.70" height="1.60" fill="#f7e5a8"/><rect x="401.60" y="440.90" width="32.70" height="1.20" fill="#f6e5aa"/><rect x="401.60" y="441.80" width="32.70" height="1.20" fill="#f6e5aa"/><rect x="401.60" y="442.70" width="32.70" height="1.60" fill="#f6e8af"/><rect x="401.60" y="444.00" width="32.70" height="1.60" fill="#f7e3a6"/><rect x="401.60" y="445.30" width="32.70" height="0.60" fill="#f6e6ac"/><rect x="401.60" y="445.60" width="32.70" height="1.60" fill="#f7e5a8"/><rect x="401.60" y="446.90" width="32.70" height="1.60" fill="#f8e19f"/><rect x="401.60" y="448.20" width="32.70" height="1.20" fill="#f8e1a1"/><rect x="401.60" y="449.10" width="32.70" height="2.50" fill="#f9de9a"/><rect x="401.60" y="451.30" width="32.70" height="1.20" fill="#f8de9a"/><rect x="401.60" y="452.20" width="32.70" height="2.50" fill="#f8df9c"/><rect x="401.60" y="454.40" width="32.70" height="2.10" fill="#f8e1a0"/><rect x="401.60" y="456.20" width="32.70" height="0.80" fill="#f9dd98"/><rect x="401.60" y="456.70" width="32.70" height="1.60" fill="#f7e4a6"/><rect x="401.60" y="458.00" width="32.70" height="1.20" fill="#f7e4a6"/><rect x="401.60" y="458.90" width="32.70" height="1.60" fill="#f7e3a5"/><rect x="401.60" y="460.20" width="32.70" height="1.30" fill="#f5eab2"/><rect x="401.60" y="461.20" width="32.70" height="1.20" fill="#f9bd7d"/><rect x="401.60" y="462.10" width="32.70" height="2.40" fill="#f9c382"/><rect x="401.60" y="464.20" width="32.70" height="1.60" fill="#e6f0db"/><rect x="401.60" y="465.50" width="32.70" height="1.60" fill="#e2efe1"/><rect x="401.60" y="466.80" width="32.70" height="2.20" fill="#ecf1d0"/><rect x="401.60" y="468.70" width="32.70" height="1.60" fill="#f8e1a0"/><rect x="401.60" y="470.00" width="32.70" height="1.60" fill="#f7e2a3"/><rect x="401.60" y="471.30" width="32.70" height="1.00" fill="#f7e2a3"/><rect x="401.60" y="472.00" width="32.70" height="1.60" fill="#e4f0de"/><rect x="401.60" y="473.30" width="32.70" height="0.50" fill="#ddefe9"/><rect x="401.60" y="473.50" width="32.70" height="2.50" fill="#f4edba"/><rect x="401.60" y="475.70" width="32.70" height="1.10" fill="#f2f2c6"/><rect x="401.60" y="476.50" width="32.70" height="1.60" fill="#f78e59"/><rect x="401.60" y="477.80" width="32.70" height="1.20" fill="#f38152"/><rect x="401.60" y="478.70" width="32.70" height="1.60" fill="#f2f2c6"/><rect x="401.60" y="480.00" width="32.70" height="1.20" fill="#f3f2c4"/><rect x="401.60" y="480.90" width="32.70" height="2.10" fill="#f8e09f"/><rect x="401.60" y="482.70" width="32.70" height="1.50" fill="#f8e09f"/><rect x="401.60" y="483.90" width="32.70" height="2.10" fill="#bbdce9"/><rect x="401.60" y="485.70" width="32.70" height="2.50" fill="#d4ecf1"/><rect x="401.60" y="487.90" width="32.70" height="1.60" fill="#bbdce8"/><rect x="401.60" y="489.20" width="32.70" height="1.60" fill="#cce6ee"/><rect x="401.60" y="490.50" width="32.70" height="1.20" fill="#cae5ed"/><rect x="401.60" y="491.40" width="32.70" height="2.50" fill="#e8f0d6"/><rect x="401.60" y="493.60" width="32.70" height="2.10" fill="#e6f0d9"/><rect x="401.60" y="495.40" width="32.70" height="0.70" fill="#e6f0da"/><rect x="401.60" y="495.80" width="32.70" height="1.60" fill="#f7e4a6"/><rect x="401.60" y="497.10" width="32.70" height="1.30" fill="#f7e4a7"/><rect x="401.60" y="498.10" width="32.70" height="1.20" fill="#c5e2ec"/><rect x="401.60" y="499.00" width="32.70" height="2.50" fill="#c6e2ec"/><rect x="401.60" y="501.20" width="32.70" height="2.10" fill="#b6d8e7"/><rect x="401.60" y="503.00" width="32.70" height="1.20" fill="#cae5ed"/><rect x="401.60" y="503.90" width="32.70" height="1.90" fill="#bbdce8"/><rect x="401.60" y="505.50" width="32.70" height="1.60" fill="#f1f2c7"/><rect x="401.60" y="506.80" width="32.70" height="1.20" fill="#eff1cc"/><rect x="401.60" y="507.70" width="32.70" height="2.10" fill="#c2e0eb"/><rect x="401.60" y="509.50" width="32.70" height="2.50" fill="#c4e2ec"/><rect x="401.60" y="511.70" width="32.70" height="1.60" fill="#c7e4ed"/><rect x="401.60" y="513.00" width="32.70" height="2.50" fill="#bbdce9"/><rect x="401.60" y="515.20" width="32.70" height="1.60" fill="#d3ebf0"/><rect x="401.60" y="516.50" width="32.70" height="1.60" fill="#c3e1eb"/><rect x="401.60" y="517.80" width="32.70" height="2.50" fill="#cbe6ee"/><rect x="401.60" y="520.00" width="32.70" height="1.60" fill="#cde7ee"/><rect x="401.60" y="521.30" width="32.70" height="1.60" fill="#badbe8"/><rect x="401.60" y="522.60" width="32.70" height="2.50" fill="#a6cfe2"/><rect x="401.60" y="524.80" width="32.70" height="2.50" fill="#a6cfe2"/><rect x="401.60" y="527.00" width="32.70" height="0.40" fill="#a6cfe2"/><rect x="401.60" y="527.10" width="32.70" height="1.60" fill="#c8e4ed"/><rect x="401.60" y="528.40" width="32.70" height="2.50" fill="#b7d9e7"/><rect x="401.60" y="530.60" width="32.70" height="1.60" fill="#b3d7e6"/><rect x="401.60" y="531.90" width="32.70" height="1.60" fill="#b9dae8"/><rect x="401.60" y="533.20" width="32.70" height="2.10" fill="#c2e0eb"/><rect x="401.60" y="535.00" width="32.70" height="1.60" fill="#b9dae8"/><rect x="401.60" y="536.30" width="32.70" height="1.60" fill="#bedde9"/><rect x="401.60" y="537.60" width="32.70" height="2.10" fill="#b5d8e7"/><rect x="401.60" y="539.40" width="32.70" height="1.60" fill="#c1dfea"/><rect x="401.60" y="540.70" width="32.70" height="1.20" fill="#b9dae8"/><rect x="401.60" y="541.60" width="32.70" height="1.20" fill="#b3d7e6"/><rect x="401.60" y="542.50" width="32.70" height="1.20" fill="#b0d5e5"/><rect x="401.60" y="543.40" width="32.70" height="1.60" fill="#b6d9e7"/><rect x="401.60" y="544.70" width="32.70" height="1.60" fill="#c3e1eb"/><rect x="401.60" y="546.00" width="32.70" height="1.60" fill="#c3e1eb"/><rect x="401.60" y="547.30" width="32.70" height="1.60" fill="#c4e1eb"/><rect x="401.60" y="548.60" width="32.70" height="2.50" fill="#bfdeea"/><rect x="401.60" y="550.80" width="32.70" height="2.10" fill="#bfdeea"/><rect x="401.60" y="552.60" width="32.70" height="1.60" fill="#badbe8"/><rect x="401.60" y="553.90" width="32.70" height="1.20" fill="#bfdeea"/><rect x="401.60" y="554.80" width="32.70" height="1.60" fill="#add3e4"/><rect x="401.60" y="556.10" width="32.70" height="2.10" fill="#b1d5e5"/><rect x="401.60" y="557.90" width="32.70" height="1.20" fill="#add3e4"/><rect x="401.60" y="558.80" width="32.70" height="2.10" fill="#bbdce8"/><rect x="401.60" y="560.60" width="32.70" height="2.50" fill="#cae5ed"/><rect x="401.60" y="562.80" width="32.70" height="2.10" fill="#c0dfea"/><rect x="401.60" y="564.60" width="32.70" height="2.50" fill="#b3d7e6"/><rect x="401.60" y="566.80" width="32.70" height="2.50" fill="#b6d9e7"/><rect x="401.60" y="569.00" width="32.70" height="1.60" fill="#b6d8e7"/><rect x="401.60" y="570.30" width="32.70" height="2.10" fill="#bedde9"/><rect x="401.60" y="572.10" width="32.70" height="2.10" fill="#badbe8"/><rect x="401.60" y="573.90" width="32.70" height="1.60" fill="#afd4e5"/><rect x="401.60" y="575.20" width="32.70" height="1.60" fill="#bedee9"/><rect x="401.60" y="576.50" width="32.70" height="1.60" fill="#b7dae7"/><rect x="401.60" y="577.80" width="32.70" height="1.60" fill="#cae5ed"/><rect x="401.60" y="579.10" width="32.70" height="1.60" fill="#c7e4ed"/><rect x="401.60" y="580.40" width="32.70" height="2.50" fill="#c5e2ec"/><rect x="401.60" y="582.60" width="32.70" height="2.20" fill="#b3d7e6"/><rect x="401.60" y="584.50" width="32.70" height="1.80" fill="#f3f2c5"/><rect x="401.60" y="586.00" width="32.70" height="2.10" fill="#c6e3ec"/><rect x="401.60" y="587.80" width="32.70" height="2.50" fill="#b3d7e6"/><rect x="401.60" y="590.00" width="32.70" height="1.60" fill="#acd3e4"/><rect x="401.60" y="591.30" width="32.70" height="0.50" fill="#c3e1eb"/><rect x="434.00" y="357.00" width="32.70" height="1.60" fill="#f4edb9"/><rect x="434.00" y="358.30" width="32.70" height="1.20" fill="#f5eab4"/><rect x="434.00" y="359.20" width="32.70" height="2.10" fill="#79a8ce"/><rect x="434.00" y="361.00" width="32.70" height="1.50" fill="#84b3d4"/><rect x="434.00" y="362.20" width="32.70" height="1.60" fill="#a7d0e2"/><rect x="434.00" y="363.50" width="32.70" height="1.20" fill="#b5d8e7"/><rect x="434.00" y="364.40" width="32.70" height="1.60" fill="#e6f0db"/><rect x="434.00" y="365.70" width="32.70" height="1.30" fill="#e2efe2"/><rect x="434.00" y="366.70" width="32.70" height="1.20" fill="#81b1d2"/><rect x="434.00" y="367.60" width="32.70" height="1.20" fill="#8cbbd7"/><rect x="434.00" y="368.50" width="32.70" height="2.50" fill="#8ebdd9"/><rect x="434.00" y="370.70" width="32.70" height="2.10" fill="#85b5d4"/><rect x="434.00" y="372.50" width="32.70" height="1.20" fill="#87b7d5"/><rect x="434.00" y="373.40" width="32.70" height="2.10" fill="#96c4dc"/><rect x="434.00" y="375.20" width="32.70" height="1.20" fill="#7faed1"/><rect x="434.00" y="376.10" width="32.70" height="2.10" fill="#88b8d6"/><rect x="434.00" y="377.90" width="32.70" height="2.50" fill="#8ebed9"/><rect x="434.00" y="380.10" width="32.70" height="1.00" fill="#7fafd1"/><rect x="434.00" y="380.80" width="32.70" height="1.20" fill="#a4cde1"/><rect x="434.00" y="381.70" width="32.70" height="2.50" fill="#9ac7de"/><rect x="434.00" y="383.90" width="32.70" height="2.10" fill="#afd4e4"/><rect x="434.00" y="385.70" width="32.70" height="1.40" fill="#a5cee1"/><rect x="434.00" y="386.80" width="32.70" height="1.70" fill="#ecf1d0"/><rect x="434.00" y="388.20" width="32.70" height="1.20" fill="#bcdde9"/><rect x="434.00" y="389.10" width="32.70" height="2.10" fill="#bfdeea"/><rect x="434.00" y="390.90" width="32.70" height="1.60" fill="#c5e2ec"/><rect x="434.00" y="392.20" width="32.70" height="2.50" fill="#b2d6e6"/><rect x="434.00" y="394.40" width="32.70" height="1.60" fill="#c0dfea"/><rect x="434.00" y="395.70" width="32.70" height="1.20" fill="#c1e0ea"/><rect x="434.00" y="396.60" width="32.70" height="1.60" fill="#c0dfea"/><rect x="434.00" y="397.90" width="32.70" height="1.60" fill="#a8d0e2"/><rect x="434.00" y="399.20" width="32.70" height="1.20" fill="#b0d5e5"/><rect x="434.00" y="400.10" width="32.70" height="1.60" fill="#bfdeea"/><rect x="434.00" y="401.40" width="32.70" height="2.50" fill="#c0dfea"/><rect x="434.00" y="403.60" width="32.70" height="2.50" fill="#acd2e3"/><rect x="434.00" y="405.80" width="32.70" height="1.60" fill="#c4e2ec"/><rect x="434.00" y="407.10" width="32.70" height="1.60" fill="#b1d5e5"/><rect x="434.00" y="408.40" width="32.70" height="1.20" fill="#bedee9"/><rect x="434.00" y="409.30" width="32.70" height="1.60" fill="#bbdce8"/><rect x="434.00" y="410.60" width="32.70" height="1.20" fill="#c1e0eb"/><rect x="434.00" y="411.50" width="32.70" height="1.20" fill="#acd2e3"/><rect x="434.00" y="412.40" width="32.70" height="1.50" fill="#c5e2ec"/><rect x="434.00" y="413.60" width="32.70" height="1.60" fill="#acd2e4"/><rect x="434.00" y="414.90" width="32.70" height="1.60" fill="#a6cfe2"/><rect x="434.00" y="416.20" width="32.70" height="1.60" fill="#badbe8"/><rect x="434.00" y="417.50" width="32.70" height="1.20" fill="#9ec9df"/><rect x="434.00" y="418.40" width="32.70" height="1.20" fill="#b8dae8"/><rect x="434.00" y="419.30" width="32.70" height="1.60" fill="#b8dae8"/><rect x="434.00" y="420.60" width="32.70" height="0.70" fill="#badbe8"/><rect x="434.00" y="421.00" width="32.70" height="2.50" fill="#c1e0ea"/><rect x="434.00" y="423.20" width="32.70" height="2.50" fill="#b0d5e5"/><rect x="434.00" y="425.40" width="32.70" height="1.60" fill="#bedee9"/><rect x="434.00" y="426.70" width="32.70" height="1.60" fill="#c5e2ec"/><rect x="434.00" y="428.00" width="32.70" height="1.20" fill="#c7e3ec"/><rect x="434.00" y="428.90" width="32.70" height="2.10" fill="#b3d7e6"/><rect x="434.00" y="430.70" width="32.70" height="1.20" fill="#c6e2ec"/><rect x="434.00" y="431.60" width="32.70" height="1.60" fill="#b9dbe8"/><rect x="434.00" y="432.90" width="32.70" height="2.10" fill="#c0dfea"/><rect x="434.00" y="434.70" width="32.70" height="1.60" fill="#c8e4ed"/><rect x="434.00" y="436.00" width="32.70" height="0.90" fill="#c9e5ed"/><rect x="434.00" y="436.60" width="32.70" height="1.20" fill="#f2f2c5"/><rect x="434.00" y="437.50" width="32.70" height="2.10" fill="#f3f2c4"/><rect x="434.00" y="439.30" width="32.70" height="1.40" fill="#f4edba"/><rect x="434.00" y="440.40" width="32.70" height="2.50" fill="#cce6ee"/><rect x="434.00" y="442.60" width="32.70" height="1.20" fill="#bedeea"/><rect x="434.00" y="443.50" width="32.70" height="0.90" fill="#d1eaf0"/><rect x="434.00" y="444.10" width="32.70" height="1.60" fill="#f4f0c0"/><rect x="434.00" y="445.40" width="32.70" height="2.00" fill="#f5ebb6"/><rect x="434.00" y="447.10" width="32.70" height="1.20" fill="#c2e0eb"/><rect x="434.00" y="448.00" width="32.70" height="1.60" fill="#b5d8e7"/><rect x="434.00" y="449.30" width="32.70" height="1.60" fill="#b9dae8"/><rect x="434.00" y="450.60" width="32.70" height="2.10" fill="#c6e3ec"/><rect x="434.00" y="452.40" width="32.70" height="2.10" fill="#b5d8e6"/><rect x="434.00" y="454.20" width="32.70" height="1.60" fill="#b3d7e6"/><rect x="434.00" y="455.50" width="32.70" height="1.20" fill="#bddde9"/><rect x="434.00" y="456.40" width="32.70" height="0.60" fill="#b5d8e7"/><rect x="434.00" y="456.70" width="32.70" height="1.60" fill="#e5f0dc"/><rect x="434.00" y="458.00" width="32.70" height="0.50" fill="#e5f0dc"/><rect x="434.00" y="458.20" width="32.70" height="1.60" fill="#f5e9b2"/><rect x="434.00" y="459.50" width="32.70" height="1.30" fill="#f8e09f"/><rect x="434.00" y="460.50" width="32.70" height="1.60" fill="#e6f0db"/><rect x="434.00" y="461.80" width="32.70" height="1.20" fill="#e9f0d6"/><rect x="434.00" y="462.70" width="32.70" height="1.00" fill="#e6f0d9"/><rect x="434.00" y="463.40" width="32.70" height="1.20" fill="#7eadd1"/><rect x="434.00" y="464.30" width="32.70" height="1.20" fill="#8dbcd8"/><rect x="434.00" y="465.20" width="32.70" height="1.60" fill="#7faed1"/><rect x="434.00" y="466.50" width="32.70" height="1.60" fill="#8cbbd7"/><rect x="434.00" y="467.80" width="32.70" height="0.40" fill="#8cbcd8"/><rect x="434.00" y="467.90" width="32.70" height="1.60" fill="#f8b678"/><rect x="434.00" y="469.20" width="32.70" height="1.20" fill="#f8a067"/><rect x="434.00" y="470.10" width="32.70" height="2.20" fill="#f7e4a7"/><rect x="434.00" y="472.00" width="32.70" height="2.10" fill="#f9d490"/><rect x="434.00" y="473.80" width="32.70" height="1.60" fill="#e96342"/><rect x="434.00" y="475.10" width="32.70" height="2.00" fill="#e65b3e"/><rect x="434.00" y="476.80" width="32.70" height="2.10" fill="#f9c483"/><rect x="434.00" y="478.60" width="32.70" height="1.10" fill="#f9d893"/><rect x="434.00" y="479.40" width="32.70" height="2.10" fill="#d8eef2"/><rect x="434.00" y="481.20" width="32.70" height="2.50" fill="#daeeee"/><rect x="434.00" y="483.40" width="32.70" height="1.60" fill="#dcefec"/><rect x="434.00" y="484.70" width="32.70" height="1.60" fill="#f8b577"/><rect x="434.00" y="486.00" width="32.70" height="0.40" fill="#f9c785"/><rect x="434.00" y="486.10" width="32.70" height="2.10" fill="#f9d18d"/><rect x="434.00" y="487.90" width="32.70" height="2.10" fill="#f9d691"/><rect x="434.00" y="489.70" width="32.70" height="2.50" fill="#f9dc96"/><rect x="434.00" y="491.90" width="32.70" height="1.20" fill="#f9d994"/><rect x="434.00" y="492.80" width="32.70" height="1.60" fill="#f38152"/><rect x="434.00" y="494.10" width="32.70" height="1.30" fill="#f58755"/><rect x="434.00" y="495.10" width="32.70" height="1.60" fill="#f7e3a5"/><rect x="434.00" y="496.40" width="32.70" height="0.50" fill="#f5ecb7"/><rect x="434.00" y="496.60" width="32.70" height="2.50" fill="#ec6e48"/><rect x="434.00" y="498.80" width="32.70" height="2.50" fill="#f48454"/><rect x="434.00" y="501.00" width="32.70" height="1.60" fill="#ed6f49"/><rect x="434.00" y="502.30" width="32.70" height="1.60" fill="#ee724a"/><rect x="434.00" y="503.60" width="32.70" height="0.70" fill="#ee744b"/><rect x="434.00" y="504.00" width="32.70" height="1.20" fill="#e25139"/><rect x="434.00" y="504.90" width="32.70" height="1.60" fill="#ea6744"/><rect x="434.00" y="506.20" width="32.70" height="2.50" fill="#ed6f48"/><rect x="434.00" y="508.40" width="32.70" height="2.50" fill="#ed6f49"/><rect x="434.00" y="510.60" width="32.70" height="2.10" fill="#e5593d"/><rect x="434.00" y="512.40" width="32.70" height="1.60" fill="#ea6744"/><rect x="434.00" y="513.70" width="32.70" height="1.60" fill="#e25139"/><rect x="434.00" y="515.00" width="32.70" height="1.20" fill="#e04a35"/><rect x="434.00" y="515.90" width="32.70" height="1.60" fill="#f9ca88"/><rect x="434.00" y="517.20" width="32.70" height="1.30" fill="#f9cd8a"/><rect x="434.00" y="518.20" width="32.70" height="1.60" fill="#f9d692"/><rect x="434.00" y="519.50" width="32.70" height="2.50" fill="#f9dd99"/><rect x="434.00" y="521.70" width="32.70" height="1.20" fill="#f9d38f"/><rect x="434.00" y="522.60" width="32.70" height="2.10" fill="#f9d893"/><rect x="434.00" y="524.40" width="32.70" height="0.80" fill="#f8df9d"/><rect x="434.00" y="524.90" width="32.70" height="2.10" fill="#f8b375"/><rect x="434.00" y="526.70" width="32.70" height="1.60" fill="#f8915b"/><rect x="434.00" y="528.00" width="32.70" height="1.20" fill="#f8a66c"/><rect x="434.00" y="528.90" width="32.70" height="1.60" fill="#f8a76c"/><rect x="434.00" y="530.20" width="32.70" height="1.60" fill="#f8ab6f"/><rect x="434.00" y="531.50" width="32.70" height="2.10" fill="#f8b073"/><rect x="434.00" y="533.30" width="32.70" height="2.50" fill="#f8945d"/><rect x="434.00" y="535.50" width="32.70" height="1.20" fill="#f89b63"/><rect x="434.00" y="536.40" width="32.70" height="1.20" fill="#f8a96d"/><rect x="434.00" y="537.30" width="32.70" height="1.60" fill="#f8b376"/><rect x="434.00" y="538.60" width="32.70" height="2.10" fill="#f8b678"/><rect x="434.00" y="540.40" width="32.70" height="1.60" fill="#f9b87a"/><rect x="434.00" y="541.70" width="32.70" height="1.60" fill="#f89961"/><rect x="434.00" y="543.00" width="32.70" height="1.20" fill="#f8a96d"/><rect x="434.00" y="543.90" width="32.70" height="1.20" fill="#f88f5a"/><rect x="434.00" y="544.80" width="32.70" height="1.90" fill="#f8b577"/><rect x="434.00" y="546.40" width="32.70" height="1.20" fill="#f9dc96"/><rect x="434.00" y="547.30" width="32.70" height="2.50" fill="#f9cf8c"/><rect x="434.00" y="549.50" width="32.70" height="2.10" fill="#f9db95"/><rect x="434.00" y="551.30" width="32.70" height="2.50" fill="#f9d28e"/><rect x="434.00" y="553.50" width="32.70" height="1.60" fill="#f8df9c"/><rect x="434.00" y="554.80" width="32.70" height="0.90" fill="#f8df9c"/><rect x="434.00" y="555.40" width="32.70" height="1.20" fill="#f8ae72"/><rect x="434.00" y="556.30" width="32.70" height="2.50" fill="#f9c685"/><rect x="434.00" y="558.50" width="32.70" height="1.20" fill="#f9bd7e"/><rect x="434.00" y="559.40" width="32.70" height="1.20" fill="#f9c685"/><rect x="434.00" y="560.30" width="32.70" height="2.50" fill="#f9c685"/><rect x="434.00" y="562.50" width="32.70" height="1.60" fill="#f8a86d"/><rect x="434.00" y="563.80" width="32.70" height="0.80" fill="#f9ba7b"/><rect x="434.00" y="564.30" width="32.70" height="1.60" fill="#f7e2a3"/><rect x="434.00" y="565.60" width="32.70" height="1.60" fill="#f7e4a7"/><rect x="434.00" y="566.90" width="32.70" height="1.60" fill="#f9de99"/><rect x="434.00" y="568.20" width="32.70" height="2.10" fill="#f8e1a1"/><rect x="434.00" y="570.00" width="32.70" height="1.20" fill="#f8e1a0"/><rect x="434.00" y="570.90" width="32.70" height="1.20" fill="#f7e4a7"/><rect x="434.00" y="571.80" width="32.70" height="1.60" fill="#f6e6ab"/><rect x="434.00" y="573.10" width="32.70" height="1.60" fill="#f8e09e"/><rect x="434.00" y="574.40" width="32.70" height="1.60" fill="#f8e09f"/><rect x="434.00" y="575.70" width="32.70" height="0.80" fill="#f7e5a8"/><rect x="434.00" y="576.20" width="32.70" height="1.20" fill="#f4eebb"/><rect x="434.00" y="577.10" width="32.70" height="1.60" fill="#f3f1c2"/><rect x="434.00" y="578.40" width="32.70" height="1.10" fill="#f5ebb5"/><rect x="434.00" y="579.20" width="32.70" height="1.60" fill="#e8f0d6"/><rect x="434.00" y="580.50" width="32.70" height="2.00" fill="#eaf1d3"/><rect x="434.00" y="582.20" width="32.70" height="1.60" fill="#f8de9b"/><rect x="434.00" y="583.50" width="32.70" height="1.60" fill="#f7e3a5"/><rect x="434.00" y="584.80" width="32.70" height="1.60" fill="#f6e6ab"/><rect x="434.00" y="586.10" width="32.70" height="2.10" fill="#f6e5a9"/><rect x="434.00" y="587.90" width="32.70" height="1.20" fill="#f6e6ab"/><rect x="434.00" y="588.80" width="32.70" height="2.50" fill="#f7e5a9"/><rect x="434.00" y="591.00" width="32.70" height="0.80" fill="#f6e5a9"/><rect x="466.40" y="357.00" width="32.70" height="1.60" fill="#d9eef1"/><rect x="466.40" y="358.30" width="32.70" height="1.20" fill="#d3ebf0"/><rect x="466.40" y="359.20" width="32.70" height="1.20" fill="#edf1ce"/><rect x="466.40" y="360.10" width="32.70" height="1.60" fill="#e9f0d5"/><rect x="466.40" y="361.40" width="32.70" height="2.50" fill="#f9de99"/><rect x="466.40" y="363.60" width="32.70" height="0.40" fill="#f9d48f"/><rect x="466.40" y="363.70" width="32.70" height="2.50" fill="#f4efbf"/><rect x="466.40" y="365.90" width="32.70" height="2.50" fill="#f9be7f"/><rect x="466.40" y="368.10" width="32.70" height="1.20" fill="#f3f1c2"/><rect x="466.40" y="369.00" width="32.70" height="1.60" fill="#f1f2c8"/><rect x="466.40" y="370.30" width="32.70" height="1.60" fill="#f3f1c2"/><rect x="466.40" y="371.60" width="32.70" height="1.60" fill="#eaf1d4"/><rect x="466.40" y="372.90" width="32.70" height="0.80" fill="#f0f2c9"/><rect x="466.40" y="373.40" width="32.70" height="2.10" fill="#bcdde9"/><rect x="466.40" y="375.20" width="32.70" height="0.70" fill="#c1e0eb"/><rect x="466.40" y="375.60" width="32.70" height="1.60" fill="#e7f0d8"/><rect x="466.40" y="376.90" width="32.70" height="1.20" fill="#e6f0da"/><rect x="466.40" y="377.80" width="32.70" height="1.60" fill="#bfdeea"/><rect x="466.40" y="379.10" width="32.70" height="1.60" fill="#c5e2ec"/><rect x="466.40" y="380.40" width="32.70" height="1.60" fill="#c3e1eb"/><rect x="466.40" y="381.70" width="32.70" height="1.60" fill="#cae5ed"/><rect x="466.40" y="383.00" width="32.70" height="1.60" fill="#d7eef2"/><rect x="466.40" y="384.30" width="32.70" height="1.20" fill="#bcdce9"/><rect x="466.40" y="385.20" width="32.70" height="1.60" fill="#c4e2ec"/><rect x="466.40" y="386.50" width="32.70" height="0.60" fill="#d8eef2"/><rect x="466.40" y="386.80" width="32.70" height="1.60" fill="#e7f0d8"/><rect x="466.40" y="388.10" width="32.70" height="0.40" fill="#e5f0db"/><rect x="466.40" y="388.20" width="32.70" height="1.20" fill="#aed4e4"/><rect x="466.40" y="389.10" width="32.70" height="2.10" fill="#b3d7e6"/><rect x="466.40" y="390.90" width="32.70" height="2.50" fill="#afd4e5"/><rect x="466.40" y="393.10" width="32.70" height="2.50" fill="#bfdeea"/><rect x="466.40" y="395.30" width="32.70" height="1.20" fill="#a8d0e2"/><rect x="466.40" y="396.20" width="32.70" height="1.60" fill="#bbdce9"/><rect x="466.40" y="397.50" width="32.70" height="1.20" fill="#bddde9"/><rect x="466.40" y="398.40" width="32.70" height="1.60" fill="#b2d6e6"/><rect x="466.40" y="399.70" width="32.70" height="2.50" fill="#bedee9"/><rect x="466.40" y="401.90" width="32.70" height="1.20" fill="#badbe8"/><rect x="466.40" y="402.80" width="32.70" height="1.60" fill="#badbe8"/><rect x="466.40" y="404.10" width="32.70" height="1.60" fill="#a8d0e2"/><rect x="466.40" y="405.40" width="32.70" height="1.00" fill="#a5cee1"/><rect x="466.40" y="406.10" width="32.70" height="1.20" fill="#afd4e4"/><rect x="466.40" y="407.00" width="32.70" height="1.20" fill="#afd4e4"/><rect x="466.40" y="407.90" width="32.70" height="1.50" fill="#a1cce0"/><rect x="466.40" y="409.10" width="32.70" height="2.50" fill="#add3e4"/><rect x="466.40" y="411.30" width="32.70" height="1.60" fill="#c5e2ec"/><rect x="466.40" y="412.60" width="32.70" height="1.60" fill="#c1dfea"/><rect x="466.40" y="413.90" width="32.70" height="1.40" fill="#c7e4ed"/><rect x="466.40" y="415.00" width="32.70" height="1.60" fill="#daeeee"/><rect x="466.40" y="416.30" width="32.70" height="1.20" fill="#cbe6ee"/><rect x="466.40" y="417.20" width="32.70" height="1.60" fill="#c8e4ed"/><rect x="466.40" y="418.50" width="32.70" height="1.60" fill="#dbeeed"/><rect x="466.40" y="419.80" width="32.70" height="1.20" fill="#cee8ef"/><rect x="466.40" y="420.70" width="32.70" height="2.10" fill="#cae5ed"/><rect x="466.40" y="422.50" width="32.70" height="1.60" fill="#b8dae7"/><rect x="466.40" y="423.80" width="32.70" height="2.50" fill="#cae6ee"/><rect x="466.40" y="426.00" width="32.70" height="1.60" fill="#c6e3ec"/><rect x="466.40" y="427.30" width="32.70" height="2.10" fill="#b0d5e5"/><rect x="466.40" y="429.10" width="32.70" height="2.10" fill="#c0dfea"/><rect x="466.40" y="430.90" width="32.70" height="1.60" fill="#c2e0eb"/><rect x="466.40" y="432.20" width="32.70" height="1.20" fill="#badbe8"/><rect x="466.40" y="433.10" width="32.70" height="1.60" fill="#badbe8"/><rect x="466.40" y="434.40" width="32.70" height="1.60" fill="#98c6dd"/><rect x="466.40" y="435.70" width="32.70" height="2.10" fill="#8fbed9"/><rect x="466.40" y="437.50" width="32.70" height="1.20" fill="#97c5dd"/><rect x="466.40" y="438.40" width="32.70" height="2.50" fill="#9cc9de"/><rect x="466.40" y="440.60" width="32.70" height="1.60" fill="#7fafd1"/><rect x="466.40" y="441.90" width="32.70" height="1.60" fill="#f3f1c1"/><rect x="466.40" y="443.20" width="32.70" height="1.90" fill="#f5eab3"/><rect x="466.40" y="444.80" width="32.70" height="1.60" fill="#c7e3ec"/><rect x="466.40" y="446.10" width="32.70" height="1.60" fill="#c7e3ec"/><rect x="466.40" y="447.40" width="32.70" height="1.20" fill="#b5d8e6"/><rect x="466.40" y="448.30" width="32.70" height="1.60" fill="#b8dae8"/><rect x="466.40" y="449.60" width="32.70" height="2.10" fill="#bedee9"/><rect x="466.40" y="451.40" width="32.70" height="1.20" fill="#c1dfea"/><rect x="466.40" y="452.30" width="32.70" height="1.60" fill="#c2e0eb"/><rect x="466.40" y="453.60" width="32.70" height="1.20" fill="#aed4e4"/><rect x="466.40" y="454.50" width="32.70" height="1.60" fill="#aed3e4"/><rect x="466.40" y="455.80" width="32.70" height="1.20" fill="#bddde9"/><rect x="466.40" y="456.70" width="32.70" height="1.60" fill="#e7f0d9"/><rect x="466.40" y="458.00" width="32.70" height="1.30" fill="#edf1ce"/><rect x="466.40" y="459.00" width="32.70" height="2.10" fill="#93c2db"/><rect x="466.40" y="460.80" width="32.70" height="0.70" fill="#8ebdd8"/><rect x="466.40" y="461.20" width="32.70" height="1.20" fill="#eaf1d4"/><rect x="466.40" y="462.10" width="32.70" height="1.60" fill="#e5f0dc"/><rect x="466.40" y="463.40" width="32.70" height="1.10" fill="#eef1cc"/><rect x="466.40" y="464.20" width="32.70" height="1.20" fill="#f8ab6f"/><rect x="466.40" y="465.10" width="32.70" height="1.60" fill="#f8b073"/><rect x="466.40" y="466.40" width="32.70" height="1.10" fill="#f8ad71"/><rect x="466.40" y="467.20" width="32.70" height="2.10" fill="#a6cfe2"/><rect x="466.40" y="469.00" width="32.70" height="1.20" fill="#88b8d6"/><rect x="466.40" y="469.90" width="32.70" height="2.00" fill="#a3cde1"/><rect x="466.40" y="471.60" width="32.70" height="0.70" fill="#edf1cf"/><rect x="466.40" y="472.00" width="32.70" height="2.50" fill="#e7f0d8"/><rect x="466.40" y="474.20" width="32.70" height="2.10" fill="#b4d8e6"/><rect x="466.40" y="476.00" width="32.70" height="1.50" fill="#c1e0eb"/><rect x="466.40" y="477.20" width="32.70" height="1.60" fill="#f3f1c3"/><rect x="466.40" y="478.50" width="32.70" height="1.60" fill="#f3f1c2"/><rect x="466.40" y="479.80" width="32.70" height="0.70" fill="#f4f0c0"/><rect x="466.40" y="480.20" width="32.70" height="1.20" fill="#f27e51"/><rect x="466.40" y="481.10" width="32.70" height="1.20" fill="#f58655"/><rect x="466.40" y="482.00" width="32.70" height="1.20" fill="#f17a4f"/><rect x="466.40" y="482.90" width="32.70" height="2.50" fill="#f68956"/><rect x="466.40" y="485.10" width="32.70" height="0.60" fill="#f58755"/><rect x="466.40" y="485.40" width="32.70" height="2.50" fill="#f8e1a0"/><rect x="466.40" y="487.60" width="32.70" height="1.60" fill="#f6e6aa"/><rect x="466.40" y="488.90" width="32.70" height="1.60" fill="#f7e5a9"/><rect x="466.40" y="490.20" width="32.70" height="1.50" fill="#f8df9d"/><rect x="466.40" y="491.40" width="32.70" height="1.20" fill="#d6edf1"/><rect x="466.40" y="492.30" width="32.70" height="1.60" fill="#d6edf1"/><rect x="466.40" y="493.60" width="32.70" height="1.20" fill="#c1e0eb"/><rect x="466.40" y="494.50" width="32.70" height="0.90" fill="#bcdce9"/><rect x="466.40" y="495.10" width="32.70" height="2.10" fill="#f8df9d"/><rect x="466.40" y="496.90" width="32.70" height="1.60" fill="#f9dc96"/><rect x="466.40" y="498.20" width="32.70" height="2.40" fill="#f9dd98"/><rect x="466.40" y="500.30" width="32.70" height="1.20" fill="#f9c281"/><rect x="466.40" y="501.20" width="32.70" height="2.50" fill="#f9bb7c"/><rect x="466.40" y="503.40" width="32.70" height="1.20" fill="#f9c483"/><rect x="466.40" y="504.30" width="32.70" height="0.80" fill="#f9c181"/><rect x="466.40" y="504.80" width="32.70" height="1.60" fill="#f5ecb7"/><rect x="466.40" y="506.10" width="32.70" height="1.60" fill="#f4edba"/><rect x="466.40" y="507.40" width="32.70" height="1.20" fill="#f5eab4"/><rect x="466.40" y="508.30" width="32.70" height="1.20" fill="#f5e9b1"/><rect x="466.40" y="509.20" width="32.70" height="2.50" fill="#f6e7ae"/><rect x="466.40" y="511.40" width="32.70" height="2.10" fill="#f6e7ad"/><rect x="466.40" y="513.20" width="32.70" height="2.10" fill="#f5eab4"/><rect x="466.40" y="515.00" width="32.70" height="2.00" fill="#f4eebb"/><rect x="466.40" y="516.70" width="32.70" height="1.20" fill="#f68a57"/><rect x="466.40" y="517.60" width="32.70" height="1.20" fill="#eb6a46"/><rect x="466.40" y="518.50" width="32.70" height="2.50" fill="#f0794e"/><rect x="466.40" y="520.70" width="32.70" height="1.60" fill="#f68b58"/><rect x="466.40" y="522.00" width="32.70" height="1.20" fill="#ec6e48"/><rect x="466.40" y="522.90" width="32.70" height="2.30" fill="#f48654"/><rect x="466.40" y="524.90" width="32.70" height="1.60" fill="#f6e6aa"/><rect x="466.40" y="526.20" width="32.70" height="1.60" fill="#f9da94"/><rect x="466.40" y="527.50" width="32.70" height="1.60" fill="#f7e3a6"/><rect x="466.40" y="528.80" width="32.70" height="1.60" fill="#f7e2a3"/><rect x="466.40" y="530.10" width="32.70" height="2.10" fill="#f8de9a"/><rect x="466.40" y="531.90" width="32.70" height="2.50" fill="#f7e2a3"/><rect x="466.40" y="534.10" width="32.70" height="2.50" fill="#f8e1a1"/><rect x="466.40" y="536.30" width="32.70" height="2.50" fill="#f9cc89"/><rect x="466.40" y="538.50" width="32.70" height="2.10" fill="#f8df9d"/><rect x="466.40" y="540.30" width="32.70" height="2.10" fill="#f7e5a9"/><rect x="466.40" y="542.10" width="32.70" height="1.20" fill="#f9c786"/><rect x="466.40" y="543.00" width="32.70" height="2.50" fill="#f7e4a7"/><rect x="466.40" y="545.20" width="32.70" height="1.50" fill="#f8e09e"/><rect x="466.40" y="546.40" width="32.70" height="2.50" fill="#f89c64"/><rect x="466.40" y="548.60" width="32.70" height="2.10" fill="#f8915b"/><rect x="466.40" y="550.40" width="32.70" height="2.50" fill="#f27f51"/><rect x="466.40" y="552.60" width="32.70" height="1.60" fill="#f17c4f"/><rect x="466.40" y="553.90" width="32.70" height="2.10" fill="#f9c180"/><rect x="466.40" y="555.70" width="32.70" height="2.10" fill="#f8a56b"/><rect x="466.40" y="557.50" width="32.70" height="1.60" fill="#f8ac70"/><rect x="466.40" y="558.80" width="32.70" height="1.60" fill="#f8ad71"/><rect x="466.40" y="560.10" width="32.70" height="1.20" fill="#f9c181"/><rect x="466.40" y="561.00" width="32.70" height="1.60" fill="#f8a96e"/><rect x="466.40" y="562.30" width="32.70" height="1.60" fill="#f8a66b"/><rect x="466.40" y="563.60" width="32.70" height="1.00" fill="#f8ab6f"/><rect x="466.40" y="564.30" width="32.70" height="1.60" fill="#f8a86d"/><rect x="466.40" y="565.60" width="32.70" height="1.60" fill="#f89a62"/><rect x="466.40" y="566.90" width="32.70" height="2.10" fill="#f89a62"/><rect x="466.40" y="568.70" width="32.70" height="1.60" fill="#f8a168"/><rect x="466.40" y="570.00" width="32.70" height="2.10" fill="#f8ad71"/><rect x="466.40" y="571.80" width="32.70" height="1.60" fill="#f8b073"/><rect x="466.40" y="573.10" width="32.70" height="1.60" fill="#f8b678"/><rect x="466.40" y="574.40" width="32.70" height="1.20" fill="#f8af73"/><rect x="466.40" y="575.30" width="32.70" height="1.20" fill="#f89b63"/><rect x="466.40" y="576.20" width="32.70" height="2.50" fill="#f7e5a8"/><rect x="466.40" y="578.40" width="32.70" height="1.10" fill="#f9de99"/><rect x="466.40" y="579.20" width="32.70" height="2.50" fill="#f8ac70"/><rect x="466.40" y="581.40" width="32.70" height="1.20" fill="#f8ad71"/><rect x="466.40" y="582.30" width="32.70" height="0.90" fill="#f89a62"/><rect x="466.40" y="582.90" width="32.70" height="2.10" fill="#f0794e"/><rect x="466.40" y="584.70" width="32.70" height="1.60" fill="#f27e50"/><rect x="466.40" y="586.00" width="32.70" height="2.10" fill="#e65d3f"/><rect x="466.40" y="587.80" width="32.70" height="2.10" fill="#e86342"/><rect x="466.40" y="589.60" width="32.70" height="1.60" fill="#f48353"/><rect x="466.40" y="590.90" width="32.70" height="0.90" fill="#e75d3f"/><rect x="498.80" y="357.00" width="32.70" height="2.50" fill="#bbdce8"/><rect x="498.80" y="359.20" width="32.70" height="1.10" fill="#b4d7e6"/><rect x="498.80" y="360.00" width="32.70" height="1.60" fill="#ebf1d2"/><rect x="498.80" y="361.30" width="32.70" height="0.40" fill="#e6f0da"/><rect x="498.80" y="361.40" width="32.70" height="1.60" fill="#badbe8"/><rect x="498.80" y="362.70" width="32.70" height="1.30" fill="#bbdce8"/><rect x="498.80" y="363.70" width="32.70" height="1.60" fill="#e9f1d5"/><rect x="498.80" y="365.00" width="32.70" height="0.50" fill="#e1efe2"/><rect x="498.80" y="365.20" width="32.70" height="1.80" fill="#78a7ce"/><rect x="498.80" y="366.70" width="32.70" height="1.60" fill="#e5f0dd"/><rect x="498.80" y="368.00" width="32.70" height="0.40" fill="#ecf1d0"/><rect x="498.80" y="368.10" width="32.70" height="2.10" fill="#aad1e3"/><rect x="498.80" y="369.90" width="32.70" height="1.20" fill="#d2eaf0"/><rect x="498.80" y="370.80" width="32.70" height="1.60" fill="#b9dae8"/><rect x="498.80" y="372.10" width="32.70" height="2.50" fill="#b3d7e6"/><rect x="498.80" y="374.30" width="32.70" height="1.60" fill="#cee8ef"/><rect x="498.80" y="375.60" width="32.70" height="1.20" fill="#add3e4"/><rect x="498.80" y="376.50" width="32.70" height="1.60" fill="#c2e0eb"/><rect x="498.80" y="377.80" width="32.70" height="1.60" fill="#c1dfea"/><rect x="498.80" y="379.10" width="32.70" height="1.60" fill="#d2eaf0"/><rect x="498.80" y="380.40" width="32.70" height="1.60" fill="#add3e4"/><rect x="498.80" y="381.70" width="32.70" height="2.50" fill="#c0dfea"/><rect x="498.80" y="383.90" width="32.70" height="1.70" fill="#bedeea"/><rect x="498.80" y="385.30" width="32.70" height="2.50" fill="#f4edba"/><rect x="498.80" y="387.50" width="32.70" height="1.60" fill="#e6f0da"/><rect x="498.80" y="388.80" width="32.70" height="1.20" fill="#ecf1d1"/><rect x="498.80" y="389.70" width="32.70" height="1.80" fill="#e6f0db"/><rect x="498.80" y="391.20" width="32.70" height="1.60" fill="#c3e1eb"/><rect x="498.80" y="392.50" width="32.70" height="2.50" fill="#bedee9"/><rect x="498.80" y="394.70" width="32.70" height="2.10" fill="#b5d8e7"/><rect x="498.80" y="396.50" width="32.70" height="1.60" fill="#bcdde9"/><rect x="498.80" y="397.80" width="32.70" height="2.10" fill="#c6e3ec"/><rect x="498.80" y="399.60" width="32.70" height="1.20" fill="#b6d9e7"/><rect x="498.80" y="400.50" width="32.70" height="1.60" fill="#c6e3ec"/><rect x="498.80" y="401.80" width="32.70" height="2.50" fill="#cde7ee"/><rect x="498.80" y="404.00" width="32.70" height="2.50" fill="#cee8ef"/><rect x="498.80" y="406.20" width="32.70" height="2.50" fill="#c3e1eb"/><rect x="498.80" y="408.40" width="32.70" height="1.60" fill="#c2e0eb"/><rect x="498.80" y="409.70" width="32.70" height="1.60" fill="#c6e3ec"/><rect x="498.80" y="411.00" width="32.70" height="1.60" fill="#c3e1eb"/><rect x="498.80" y="412.30" width="32.70" height="1.60" fill="#c5e2ec"/><rect x="498.80" y="413.60" width="32.70" height="1.20" fill="#b2d6e5"/><rect x="498.80" y="414.50" width="32.70" height="2.50" fill="#c6e3ec"/><rect x="498.80" y="416.70" width="32.70" height="2.10" fill="#b2d6e5"/><rect x="498.80" y="418.50" width="32.70" height="2.50" fill="#b8dae7"/><rect x="498.80" y="420.70" width="32.70" height="1.20" fill="#b4d7e6"/><rect x="498.80" y="421.60" width="32.70" height="1.60" fill="#b7d9e7"/><rect x="498.80" y="422.90" width="32.70" height="1.60" fill="#c4e1eb"/><rect x="498.80" y="424.20" width="32.70" height="1.60" fill="#cbe6ee"/><rect x="498.80" y="425.50" width="32.70" height="1.60" fill="#b6d9e7"/><rect x="498.80" y="426.80" width="32.70" height="1.20" fill="#c6e3ec"/><rect x="498.80" y="427.70" width="32.70" height="2.50" fill="#c9e4ed"/><rect x="498.80" y="429.90" width="32.70" height="1.20" fill="#bddde9"/><rect x="498.80" y="430.80" width="32.70" height="1.60" fill="#cde7ee"/><rect x="498.80" y="432.10" width="32.70" height="1.60" fill="#c6e3ec"/><rect x="498.80" y="433.40" width="32.70" height="1.30" fill="#b8dae7"/><rect x="498.80" y="434.40" width="32.70" height="1.60" fill="#f0f2c9"/><rect x="498.80" y="435.70" width="32.70" height="1.20" fill="#f0f2c9"/><rect x="498.80" y="436.60" width="32.70" height="1.80" fill="#f0f2c9"/><rect x="498.80" y="438.10" width="32.70" height="1.20" fill="#b8dae7"/><rect x="498.80" y="439.00" width="32.70" height="2.10" fill="#b7dae7"/><rect x="498.80" y="440.80" width="32.70" height="2.10" fill="#c7e3ec"/><rect x="498.80" y="442.60" width="32.70" height="2.10" fill="#a6cfe2"/><rect x="498.80" y="444.40" width="32.70" height="1.60" fill="#96c4dc"/><rect x="498.80" y="445.70" width="32.70" height="2.40" fill="#96c4dc"/><rect x="498.80" y="447.80" width="32.70" height="1.60" fill="#b8dae7"/><rect x="498.80" y="449.10" width="32.70" height="2.10" fill="#bcdde9"/><rect x="498.80" y="450.90" width="32.70" height="1.60" fill="#cde7ee"/><rect x="498.80" y="452.20" width="32.70" height="2.10" fill="#c8e4ed"/><rect x="498.80" y="454.00" width="32.70" height="1.50" fill="#badbe8"/><rect x="498.80" y="455.20" width="32.70" height="2.50" fill="#acd3e4"/><rect x="498.80" y="457.40" width="32.70" height="1.10" fill="#a3cde1"/><rect x="498.80" y="458.20" width="32.70" height="1.60" fill="#f8e09e"/><rect x="498.80" y="459.50" width="32.70" height="1.60" fill="#f8e1a0"/><rect x="498.80" y="460.80" width="32.70" height="1.50" fill="#f8e1a0"/><rect x="498.80" y="462.00" width="32.70" height="2.10" fill="#ef764c"/><rect x="498.80" y="463.80" width="32.70" height="1.60" fill="#f88f59"/><rect x="498.80" y="465.10" width="32.70" height="1.60" fill="#f0784d"/><rect x="498.80" y="466.40" width="32.70" height="1.10" fill="#f27f51"/><rect x="498.80" y="467.20" width="32.70" height="1.80" fill="#edf1ce"/><rect x="498.80" y="468.70" width="32.70" height="1.60" fill="#c6e2ec"/><rect x="498.80" y="470.00" width="32.70" height="1.90" fill="#bfdeea"/><rect x="498.80" y="471.60" width="32.70" height="0.70" fill="#ecf1d0"/><rect x="498.80" y="472.00" width="32.70" height="2.10" fill="#dcefeb"/><rect x="498.80" y="473.80" width="32.70" height="1.20" fill="#ddefe9"/><rect x="498.80" y="474.70" width="32.70" height="0.60" fill="#e0efe4"/><rect x="498.80" y="475.00" width="32.70" height="1.20" fill="#e2efe1"/><rect x="498.80" y="475.90" width="32.70" height="1.60" fill="#e7f0d9"/><rect x="498.80" y="477.20" width="32.70" height="1.20" fill="#7fafd1"/><rect x="498.80" y="478.10" width="32.70" height="1.60" fill="#86b5d5"/><rect x="498.80" y="479.40" width="32.70" height="1.10" fill="#71a1ca"/><rect x="498.80" y="480.20" width="32.70" height="1.80" fill="#f1f2c8"/><rect x="498.80" y="481.70" width="32.70" height="1.60" fill="#9bc8de"/><rect x="498.80" y="483.00" width="32.70" height="2.00" fill="#97c5dd"/><rect x="498.80" y="484.70" width="32.70" height="2.10" fill="#f38353"/><rect x="498.80" y="486.50" width="32.70" height="1.60" fill="#ec6d48"/><rect x="498.80" y="487.80" width="32.70" height="2.50" fill="#f07a4e"/><rect x="498.80" y="490.00" width="32.70" height="1.60" fill="#ec6e48"/><rect x="498.80" y="491.30" width="32.70" height="1.10" fill="#f0794e"/><rect x="498.80" y="492.10" width="32.70" height="1.20" fill="#f9de9a"/><rect x="498.80" y="493.00" width="32.70" height="2.10" fill="#f9dd99"/><rect x="498.80" y="494.80" width="32.70" height="2.50" fill="#f9c886"/><rect x="498.80" y="497.00" width="32.70" height="1.60" fill="#f9d994"/><rect x="498.80" y="498.30" width="32.70" height="1.60" fill="#f9c987"/><rect x="498.80" y="499.60" width="32.70" height="1.00" fill="#f9d691"/><rect x="498.80" y="500.30" width="32.70" height="2.50" fill="#f5eab3"/><rect x="498.80" y="502.50" width="32.70" height="2.50" fill="#f6e8b0"/><rect x="498.80" y="504.70" width="32.70" height="1.60" fill="#f5eab4"/><rect x="498.80" y="506.00" width="32.70" height="1.60" fill="#f5e9b2"/><rect x="498.80" y="507.30" width="32.70" height="1.60" fill="#f5eab4"/><rect x="498.80" y="508.60" width="32.70" height="1.20" fill="#f7e4a6"/><rect x="498.80" y="509.50" width="32.70" height="1.60" fill="#f5ebb5"/><rect x="498.80" y="510.80" width="32.70" height="2.50" fill="#f5eab3"/><rect x="498.80" y="513.00" width="32.70" height="1.00" fill="#f6e6ab"/><rect x="498.80" y="513.70" width="32.70" height="1.60" fill="#f9bf7f"/><rect x="498.80" y="515.00" width="32.70" height="2.00" fill="#f9bf7f"/><rect x="498.80" y="516.70" width="32.70" height="1.60" fill="#d5ecf1"/><rect x="498.80" y="518.00" width="32.70" height="1.20" fill="#bddde9"/><rect x="498.80" y="518.90" width="32.70" height="2.50" fill="#f5ecb8"/><rect x="498.80" y="521.10" width="32.70" height="2.10" fill="#f5ebb6"/><rect x="498.80" y="522.90" width="32.70" height="1.20" fill="#f4efbd"/><rect x="498.80" y="523.80" width="32.70" height="2.50" fill="#f4eebc"/><rect x="498.80" y="526.00" width="32.70" height="0.60" fill="#f4f0c0"/><rect x="498.80" y="526.30" width="32.70" height="2.50" fill="#f9c180"/><rect x="498.80" y="528.50" width="32.70" height="2.10" fill="#f9bd7e"/><rect x="498.80" y="530.30" width="32.70" height="2.10" fill="#f9b678"/><rect x="498.80" y="532.10" width="32.70" height="2.10" fill="#f9be7e"/><rect x="498.80" y="533.90" width="32.70" height="2.10" fill="#f8a66c"/><rect x="498.80" y="535.70" width="32.70" height="2.50" fill="#f8ab70"/><rect x="498.80" y="537.90" width="32.70" height="1.40" fill="#f9ba7b"/><rect x="498.80" y="539.00" width="32.70" height="1.20" fill="#f9dd98"/><rect x="498.80" y="539.90" width="32.70" height="1.60" fill="#f9d993"/><rect x="498.80" y="541.20" width="32.70" height="2.10" fill="#f9dd99"/><rect x="498.80" y="543.00" width="32.70" height="1.60" fill="#f8e1a1"/><rect x="498.80" y="544.30" width="32.70" height="2.50" fill="#f8df9d"/><rect x="498.80" y="546.50" width="32.70" height="2.10" fill="#f8df9c"/><rect x="498.80" y="548.30" width="32.70" height="1.20" fill="#f7e2a2"/><rect x="498.80" y="549.20" width="32.70" height="2.10" fill="#f9d38f"/><rect x="498.80" y="551.00" width="32.70" height="1.60" fill="#f7e3a4"/><rect x="498.80" y="552.30" width="32.70" height="1.20" fill="#f8e09f"/><rect x="498.80" y="553.20" width="32.70" height="1.60" fill="#f8de9b"/><rect x="498.80" y="554.50" width="32.70" height="1.60" fill="#f9c886"/><rect x="498.80" y="555.80" width="32.70" height="1.60" fill="#f7e2a2"/><rect x="498.80" y="557.10" width="32.70" height="2.50" fill="#f7e2a2"/><rect x="498.80" y="559.30" width="32.70" height="1.20" fill="#f8e1a1"/><rect x="498.80" y="560.20" width="32.70" height="1.60" fill="#f7e3a5"/><rect x="498.80" y="561.50" width="32.70" height="1.60" fill="#f9da94"/><rect x="498.80" y="562.80" width="32.70" height="1.20" fill="#f8de9a"/><rect x="498.80" y="563.70" width="32.70" height="1.20" fill="#f8df9c"/><rect x="498.80" y="564.60" width="32.70" height="2.10" fill="#f9d18d"/><rect x="498.80" y="566.40" width="32.70" height="1.20" fill="#f7e2a3"/><rect x="498.80" y="567.30" width="32.70" height="1.60" fill="#f8a86d"/><rect x="498.80" y="568.60" width="32.70" height="1.60" fill="#f89e65"/><rect x="498.80" y="569.90" width="32.70" height="1.60" fill="#f8b073"/><rect x="498.80" y="571.20" width="32.70" height="2.50" fill="#f8a66c"/><rect x="498.80" y="573.40" width="32.70" height="1.20" fill="#f8ac70"/><rect x="498.80" y="574.30" width="32.70" height="1.60" fill="#f8975f"/><rect x="498.80" y="575.60" width="32.70" height="0.90" fill="#f8b376"/><rect x="498.80" y="576.20" width="32.70" height="1.60" fill="#f27f51"/><rect x="498.80" y="577.50" width="32.70" height="2.50" fill="#f8935d"/><rect x="498.80" y="579.70" width="32.70" height="1.60" fill="#f0794e"/><rect x="498.80" y="581.00" width="32.70" height="1.60" fill="#f58856"/><rect x="498.80" y="582.30" width="32.70" height="1.70" fill="#f27f51"/><rect x="498.80" y="583.70" width="32.70" height="1.60" fill="#f8e09e"/><rect x="498.80" y="585.00" width="32.70" height="1.60" fill="#f8df9d"/><rect x="498.80" y="586.30" width="32.70" height="2.50" fill="#f7e5a9"/><rect x="498.80" y="588.50" width="32.70" height="1.60" fill="#f9dd99"/><rect x="498.80" y="589.80" width="32.70" height="1.60" fill="#f8e09e"/><rect x="498.80" y="591.10" width="32.70" height="0.70" fill="#f8de9b"/><defs><linearGradient id="cb255" x1="0" y1="0" x2="0" y2="1"><stop offset="0.000" stop-color="#d73027"/><stop offset="0.167" stop-color="#fc8d59"/><stop offset="0.333" stop-color="#fee090"/><stop offset="0.500" stop-color="#f6f5c0"/><stop offset="0.667" stop-color="#dceff2"/><stop offset="0.833" stop-color="#91bfdb"/><stop offset="1.000" stop-color="#4575b4"/></linearGradient></defs><rect x="255.90" y="357.90" width="7.30" height="86.80" fill="url(#cb255)"/><text x="267.00" y="362.36" font-size="6.6" font-weight="bold" text-anchor="start" fill="#2a2e48">2</text><text x="267.00" y="382.96" font-size="6.6" font-weight="bold" text-anchor="start" fill="#2a2e48">1</text><text x="267.00" y="404.16" font-size="6.6" font-weight="bold" text-anchor="start" fill="#2a2e48">0</text><text x="267.00" y="425.56" font-size="6.6" font-weight="bold" text-anchor="start" fill="#2a2e48">-1</text><text x="267.00" y="447.06" font-size="6.6" font-weight="bold" text-anchor="start" fill="#2a2e48">-2</text><defs><linearGradient id="cb534" x1="0" y1="0" x2="0" y2="1"><stop offset="0.000" stop-color="#d73027"/><stop offset="0.167" stop-color="#fc8d59"/><stop offset="0.333" stop-color="#fee090"/><stop offset="0.500" stop-color="#f6f5c0"/><stop offset="0.667" stop-color="#dceff2"/><stop offset="0.833" stop-color="#91bfdb"/><stop offset="1.000" stop-color="#4575b4"/></linearGradient></defs><rect x="534.90" y="356.80" width="7.70" height="86.80" fill="url(#cb534)"/><text x="545.30" y="360.96" font-size="6.6" font-weight="bold" text-anchor="start" fill="#2a2e48">2</text><text x="545.30" y="381.86" font-size="6.6" font-weight="bold" text-anchor="start" fill="#2a2e48">1</text><text x="545.30" y="403.46" font-size="6.6" font-weight="bold" text-anchor="start" fill="#2a2e48">0</text><text x="545.30" y="424.96" font-size="6.6" font-weight="bold" text-anchor="start" fill="#2a2e48">-1</text><text x="545.30" y="446.26" font-size="6.6" font-weight="bold" text-anchor="start" fill="#2a2e48">-2</text><polyline points="73.60,358.00 73.60,345.20 122.20,345.20 122.20,347.90" fill="none" stroke="#3c3c3c" stroke-width="1" stroke-linecap="square"/><polyline points="106.00,358.00 106.00,347.90 138.30,347.90 138.30,358.00" fill="none" stroke="#3c3c3c" stroke-width="1" stroke-linecap="square"/><polyline points="98.70,345.20 98.70,327.40 196.00,327.40 196.00,335.10" fill="none" stroke="#3c3c3c" stroke-width="1" stroke-linecap="square"/><polyline points="170.90,358.00 170.90,335.10 219.50,335.10 219.50,339.50" fill="none" stroke="#3c3c3c" stroke-width="1" stroke-linecap="square"/><polyline points="203.30,358.00 203.30,339.50 235.60,339.50 235.60,358.00" fill="none" stroke="#3c3c3c" stroke-width="1" stroke-linecap="square"/><polyline points="353.90,356.90 353.90,346.70 402.00,346.70 402.00,348.50" fill="none" stroke="#3c3c3c" stroke-width="1" stroke-linecap="square"/><polyline points="386.10,356.90 386.10,348.50 418.30,348.50 418.30,356.90" fill="none" stroke="#3c3c3c" stroke-width="1" stroke-linecap="square"/><polyline points="378.10,346.70 378.10,326.10 475.00,326.10 475.00,339.30" fill="none" stroke="#3c3c3c" stroke-width="1" stroke-linecap="square"/><polyline points="450.50,356.90 450.50,339.30 499.50,339.30 499.50,342.10" fill="none" stroke="#3c3c3c" stroke-width="1" stroke-linecap="square"/><polyline points="483.30,356.90 483.30,342.10 515.50,342.10 515.50,356.90" fill="none" stroke="#3c3c3c" stroke-width="1" stroke-linecap="square"/><text x="105.80" y="603.30" font-size="9.5" font-weight="bold" text-anchor="middle" fill="#231f20" font-style="italic">AfuA</text><text x="199.80" y="604.40" font-size="9.5" font-weight="bold" text-anchor="middle" fill="#231f20" font-style="italic">BFI</text><text x="385.10" y="601.80" font-size="9.5" font-weight="bold" text-anchor="middle" fill="#231f20" font-style="italic">Kp</text><text x="479.80" y="603.00" font-size="9.5" font-weight="bold" text-anchor="middle" fill="#231f20" font-style="italic">BFI</text><text x="5.60" y="629.70" font-size="15.8" font-weight="bold" text-anchor="start" fill="#231f20">c</text><rect x="136.90" y="636.60" width="111.36" height="6.20" fill="#ee3131" stroke="#1e1e1e" stroke-width="1.15"/><line x1="133.10" y1="640.40" x2="136.90" y2="640.40" stroke="#1e1e1e" stroke-width="1.25"/><text x="131.80" y="640.90" font-size="8.4" font-weight="bold" text-anchor="end" fill="#111" transform="translate(131.80 0) scale(0.875 1) translate(-131.80 0)">Ethanol metabolism</text><text x="250.56" y="642.90" font-size="8.4" font-weight="bold" fill="#111" transform="translate(250.56 0) scale(0.875 1) translate(-250.56 0)"><tspan fill="#2456b0">6</tspan>/10</text><rect x="136.90" y="647.77" width="85.07" height="6.20" fill="#ee3131" stroke="#1e1e1e" stroke-width="1.15"/><line x1="133.10" y1="651.52" x2="136.90" y2="651.52" stroke="#1e1e1e" stroke-width="1.25"/><text x="131.80" y="652.07" font-size="8.4" font-weight="bold" text-anchor="end" fill="#111" transform="translate(131.80 0) scale(0.875 1) translate(-131.80 0)">Carbon utilization</text><text x="224.27" y="654.07" font-size="8.4" font-weight="bold" fill="#111" transform="translate(224.27 0) scale(0.875 1) translate(-224.27 0)"><tspan fill="#2456b0">11</tspan>/24</text><rect x="136.90" y="658.94" width="59.34" height="6.20" fill="#ee3131" stroke="#1e1e1e" stroke-width="1.15"/><line x1="133.10" y1="662.65" x2="136.90" y2="662.65" stroke="#1e1e1e" stroke-width="1.25"/><text x="131.80" y="663.24" font-size="8.4" font-weight="bold" text-anchor="end" fill="#111" transform="translate(131.80 0) scale(0.875 1) translate(-131.80 0)">Carboxylic acid catabolism</text><text x="198.54" y="665.24" font-size="8.4" font-weight="bold" fill="#111" transform="translate(198.54 0) scale(0.875 1) translate(-198.54 0)"><tspan fill="#2456b0">47</tspan>/147</text><rect x="136.90" y="670.11" width="53.48" height="6.20" fill="#ee3131" stroke="#1e1e1e" stroke-width="1.15"/><line x1="133.10" y1="673.77" x2="136.90" y2="673.77" stroke="#1e1e1e" stroke-width="1.25"/><text x="131.80" y="674.41" font-size="8.4" font-weight="bold" text-anchor="end" fill="#111" transform="translate(131.80 0) scale(0.875 1) translate(-131.80 0)">Carbohydrate transporter</text><text x="192.68" y="676.41" font-size="8.4" font-weight="bold" fill="#111" transform="translate(192.68 0) scale(0.875 1) translate(-192.68 0)"><tspan fill="#2456b0">17</tspan>/59</text><rect x="136.90" y="681.28" width="53.03" height="6.20" fill="#ee3131" stroke="#1e1e1e" stroke-width="1.15"/><line x1="133.10" y1="684.90" x2="136.90" y2="684.90" stroke="#1e1e1e" stroke-width="1.25"/><text x="131.80" y="685.58" font-size="8.4" font-weight="bold" text-anchor="end" fill="#111" transform="translate(131.80 0) scale(0.875 1) translate(-131.80 0)">Cellular lipid catabolism</text><text x="192.23" y="687.58" font-size="8.4" font-weight="bold" fill="#111" transform="translate(192.23 0) scale(0.875 1) translate(-192.23 0)"><tspan fill="#2456b0">22</tspan>/77</text><rect x="136.90" y="692.45" width="49.97" height="6.20" fill="#ee3131" stroke="#1e1e1e" stroke-width="1.15"/><line x1="133.10" y1="696.02" x2="136.90" y2="696.02" stroke="#1e1e1e" stroke-width="1.25"/><text x="131.80" y="696.75" font-size="8.4" font-weight="bold" text-anchor="end" fill="#111" transform="translate(131.80 0) scale(0.875 1) translate(-131.80 0)">Polysaccharide catabolism</text><text x="189.17" y="698.75" font-size="8.4" font-weight="bold" fill="#111" transform="translate(189.17 0) scale(0.875 1) translate(-189.17 0)"><tspan fill="#2456b0">42</tspan>/156</text><rect x="136.90" y="703.62" width="49.15" height="6.20" fill="#ee3131" stroke="#1e1e1e" stroke-width="1.15"/><line x1="133.10" y1="707.14" x2="136.90" y2="707.14" stroke="#1e1e1e" stroke-width="1.25"/><text x="131.80" y="707.92" font-size="8.4" font-weight="bold" text-anchor="end" fill="#111" transform="translate(131.80 0) scale(0.875 1) translate(-131.80 0)">Monocarboxylic acid metabolism</text><text x="188.35" y="709.92" font-size="8.4" font-weight="bold" fill="#111" transform="translate(188.35 0) scale(0.875 1) translate(-188.35 0)"><tspan fill="#2456b0">58</tspan>/219</text><rect x="136.90" y="714.79" width="43.39" height="6.20" fill="#ee3131" stroke="#1e1e1e" stroke-width="1.15"/><line x1="133.10" y1="718.27" x2="136.90" y2="718.27" stroke="#1e1e1e" stroke-width="1.25"/><text x="131.80" y="719.09" font-size="8.4" font-weight="bold" text-anchor="end" fill="#111" transform="translate(131.80 0) scale(0.875 1) translate(-131.80 0)">Small molecule catabolism</text><text x="182.59" y="721.09" font-size="8.4" font-weight="bold" fill="#111" transform="translate(182.59 0) scale(0.875 1) translate(-182.59 0)"><tspan fill="#2456b0">54</tspan>/231</text><rect x="136.90" y="725.96" width="29.96" height="6.20" fill="#ee3131" stroke="#1e1e1e" stroke-width="1.15"/><line x1="133.10" y1="729.39" x2="136.90" y2="729.39" stroke="#1e1e1e" stroke-width="1.25"/><text x="131.80" y="730.26" font-size="8.4" font-weight="bold" text-anchor="end" fill="#111" transform="translate(131.80 0) scale(0.875 1) translate(-131.80 0)">Secondary metabolism</text><text x="169.16" y="732.26" font-size="8.4" font-weight="bold" fill="#111" transform="translate(169.16 0) scale(0.875 1) translate(-169.16 0)"><tspan fill="#2456b0">72</tspan>/446</text><rect x="136.90" y="737.13" width="148.48" height="6.20" fill="#1d4b9f" stroke="#1e1e1e" stroke-width="1.15"/><line x1="133.10" y1="740.52" x2="136.90" y2="740.52" stroke="#1e1e1e" stroke-width="1.25"/><text x="131.80" y="741.43" font-size="8.4" font-weight="bold" text-anchor="end" fill="#111" transform="translate(131.80 0) scale(0.875 1) translate(-131.80 0)">Fumitremorgin B biosynthesis</text><text x="287.68" y="743.43" font-size="8.4" font-weight="bold" fill="#111" transform="translate(287.68 0) scale(0.875 1) translate(-287.68 0)"><tspan fill="#2456b0">8</tspan>/10</text><rect x="136.90" y="748.30" width="135.44" height="6.20" fill="#1d4b9f" stroke="#1e1e1e" stroke-width="1.15"/><line x1="133.10" y1="751.64" x2="136.90" y2="751.64" stroke="#1e1e1e" stroke-width="1.25"/><text x="131.80" y="752.60" font-size="8.4" font-weight="bold" text-anchor="end" fill="#111" transform="translate(131.80 0) scale(0.875 1) translate(-131.80 0)">Alkaloid metabolism</text><text x="274.64" y="754.60" font-size="8.4" font-weight="bold" fill="#111" transform="translate(274.64 0) scale(0.875 1) translate(-274.64 0)"><tspan fill="#2456b0">27</tspan>/37</text><rect x="136.90" y="759.47" width="128.00" height="6.20" fill="#1d4b9f" stroke="#1e1e1e" stroke-width="1.15"/><line x1="133.10" y1="762.76" x2="136.90" y2="762.76" stroke="#1e1e1e" stroke-width="1.25"/><text x="131.80" y="763.77" font-size="8.4" font-weight="bold" text-anchor="end" fill="#111" transform="translate(131.80 0) scale(0.875 1) translate(-131.80 0)">Acetate ester metabolism</text><text x="267.20" y="765.77" font-size="8.4" font-weight="bold" fill="#111" transform="translate(267.20 0) scale(0.875 1) translate(-267.20 0)"><tspan fill="#2456b0">20</tspan>/29</text><rect x="136.90" y="770.64" width="92.80" height="6.20" fill="#1d4b9f" stroke="#1e1e1e" stroke-width="1.15"/><line x1="133.10" y1="773.89" x2="136.90" y2="773.89" stroke="#1e1e1e" stroke-width="1.25"/><text x="131.80" y="774.94" font-size="8.4" font-weight="bold" text-anchor="end" fill="#111" transform="translate(131.80 0) scale(0.875 1) translate(-131.80 0)">Depsipeptide metabolism</text><text x="232.00" y="776.94" font-size="8.4" font-weight="bold" fill="#111" transform="translate(232.00 0) scale(0.875 1) translate(-232.00 0)"><tspan fill="#2456b0">6</tspan>/12</text><rect x="136.90" y="781.81" width="92.80" height="6.20" fill="#1d4b9f" stroke="#1e1e1e" stroke-width="1.15"/><line x1="133.10" y1="785.01" x2="136.90" y2="785.01" stroke="#1e1e1e" stroke-width="1.25"/><text x="131.80" y="786.11" font-size="8.4" font-weight="bold" text-anchor="end" fill="#111" transform="translate(131.80 0) scale(0.875 1) translate(-131.80 0)">Olefinic compound biosynthesis</text><text x="232.00" y="788.11" font-size="8.4" font-weight="bold" fill="#111" transform="translate(232.00 0) scale(0.875 1) translate(-232.00 0)"><tspan fill="#2456b0">8</tspan>/16</text><rect x="136.90" y="792.98" width="61.87" height="6.20" fill="#1d4b9f" stroke="#1e1e1e" stroke-width="1.15"/><line x1="133.10" y1="796.14" x2="136.90" y2="796.14" stroke="#1e1e1e" stroke-width="1.25"/><text x="131.80" y="797.28" font-size="8.4" font-weight="bold" text-anchor="end" fill="#111" transform="translate(131.80 0) scale(0.875 1) translate(-131.80 0)">Epoxide metabolism</text><text x="201.07" y="799.28" font-size="8.4" font-weight="bold" fill="#111" transform="translate(201.07 0) scale(0.875 1) translate(-201.07 0)"><tspan fill="#2456b0">6</tspan>/18</text><rect x="136.90" y="804.15" width="54.99" height="6.20" fill="#1d4b9f" stroke="#1e1e1e" stroke-width="1.15"/><line x1="133.10" y1="807.26" x2="136.90" y2="807.26" stroke="#1e1e1e" stroke-width="1.25"/><text x="131.80" y="808.45" font-size="8.4" font-weight="bold" text-anchor="end" fill="#111" transform="translate(131.80 0) scale(0.875 1) translate(-131.80 0)">Ether metabolism</text><text x="194.19" y="810.45" font-size="8.4" font-weight="bold" fill="#111" transform="translate(194.19 0) scale(0.875 1) translate(-194.19 0)"><tspan fill="#2456b0">8</tspan>/27</text><rect x="136.90" y="815.32" width="54.59" height="6.20" fill="#1d4b9f" stroke="#1e1e1e" stroke-width="1.15"/><line x1="133.10" y1="818.38" x2="136.90" y2="818.38" stroke="#1e1e1e" stroke-width="1.25"/><text x="131.80" y="819.62" font-size="8.4" font-weight="bold" text-anchor="end" fill="#111" transform="translate(131.80 0) scale(0.875 1) translate(-131.80 0)">Fumagillin biosynthesis</text><text x="193.79" y="821.62" font-size="8.4" font-weight="bold" fill="#111" transform="translate(193.79 0) scale(0.875 1) translate(-193.79 0)"><tspan fill="#2456b0">5</tspan>/17</text><rect x="136.90" y="826.49" width="47.24" height="6.20" fill="#1d4b9f" stroke="#1e1e1e" stroke-width="1.15"/><line x1="133.10" y1="829.51" x2="136.90" y2="829.51" stroke="#1e1e1e" stroke-width="1.25"/><text x="131.80" y="830.79" font-size="8.4" font-weight="bold" text-anchor="end" fill="#111" transform="translate(131.80 0) scale(0.875 1) translate(-131.80 0)">Phenol-containing metabolism</text><text x="186.44" y="832.79" font-size="8.4" font-weight="bold" fill="#111" transform="translate(186.44 0) scale(0.875 1) translate(-186.44 0)"><tspan fill="#2456b0">14</tspan>/55</text><rect x="136.90" y="837.66" width="38.78" height="6.20" fill="#1d4b9f" stroke="#1e1e1e" stroke-width="1.15"/><line x1="133.10" y1="840.63" x2="136.90" y2="840.63" stroke="#1e1e1e" stroke-width="1.25"/><text x="131.80" y="841.96" font-size="8.4" font-weight="bold" text-anchor="end" fill="#111" transform="translate(131.80 0) scale(0.875 1) translate(-131.80 0)">Heteropentacyclic metabolism</text><text x="177.98" y="843.96" font-size="8.4" font-weight="bold" fill="#111" transform="translate(177.98 0) scale(0.875 1) translate(-177.98 0)"><tspan fill="#2456b0">14</tspan>/67</text><rect x="136.90" y="848.83" width="38.75" height="6.20" fill="#1d4b9f" stroke="#1e1e1e" stroke-width="1.15"/><line x1="133.10" y1="851.76" x2="136.90" y2="851.76" stroke="#1e1e1e" stroke-width="1.25"/><text x="131.80" y="853.13" font-size="8.4" font-weight="bold" text-anchor="end" fill="#111" transform="translate(131.80 0) scale(0.875 1) translate(-131.80 0)">Ketone biosynthesis</text><text x="177.95" y="855.13" font-size="8.4" font-weight="bold" fill="#111" transform="translate(177.95 0) scale(0.875 1) translate(-177.95 0)"><tspan fill="#2456b0">19</tspan>/91</text><rect x="136.90" y="860.00" width="33.31" height="6.20" fill="#1d4b9f" stroke="#1e1e1e" stroke-width="1.15"/><line x1="133.10" y1="862.88" x2="136.90" y2="862.88" stroke="#1e1e1e" stroke-width="1.25"/><text x="131.80" y="864.30" font-size="8.4" font-weight="bold" text-anchor="end" fill="#111" transform="translate(131.80 0) scale(0.875 1) translate(-131.80 0)">Positive regulation of sporulation</text><text x="172.51" y="866.30" font-size="8.4" font-weight="bold" fill="#111" transform="translate(172.51 0) scale(0.875 1) translate(-172.51 0)"><tspan fill="#2456b0">7</tspan>/39</text><rect x="136.90" y="871.17" width="29.83" height="6.20" fill="#1d4b9f" stroke="#1e1e1e" stroke-width="1.15"/><line x1="133.10" y1="874.00" x2="136.90" y2="874.00" stroke="#1e1e1e" stroke-width="1.25"/><text x="131.80" y="875.47" font-size="8.4" font-weight="bold" text-anchor="end" fill="#111" transform="translate(131.80 0) scale(0.875 1) translate(-131.80 0)">Import into cell</text><text x="169.03" y="877.47" font-size="8.4" font-weight="bold" fill="#111" transform="translate(169.03 0) scale(0.875 1) translate(-169.03 0)"><tspan fill="#2456b0">9</tspan>/56</text><rect x="136.90" y="882.34" width="29.13" height="6.20" fill="#1d4b9f" stroke="#1e1e1e" stroke-width="1.15"/><line x1="133.10" y1="885.13" x2="136.90" y2="885.13" stroke="#1e1e1e" stroke-width="1.25"/><text x="131.80" y="886.64" font-size="8.4" font-weight="bold" text-anchor="end" fill="#111" transform="translate(131.80 0) scale(0.875 1) translate(-131.80 0)">Secondary metabolism</text><text x="168.33" y="888.64" font-size="8.4" font-weight="bold" fill="#111" transform="translate(168.33 0) scale(0.875 1) translate(-168.33 0)"><tspan fill="#2456b0">70</tspan>/446</text><rect x="136.90" y="893.51" width="23.69" height="6.20" fill="#1d4b9f" stroke="#1e1e1e" stroke-width="1.15"/><line x1="133.10" y1="896.25" x2="136.90" y2="896.25" stroke="#1e1e1e" stroke-width="1.25"/><text x="131.80" y="897.81" font-size="8.4" font-weight="bold" text-anchor="end" fill="#111" transform="translate(131.80 0) scale(0.875 1) translate(-131.80 0)">Steroid metabolism</text><text x="162.89" y="899.81" font-size="8.4" font-weight="bold" fill="#111" transform="translate(162.89 0) scale(0.875 1) translate(-162.89 0)"><tspan fill="#2456b0">12</tspan>/94</text><rect x="136.90" y="904.68" width="18.94" height="6.20" fill="#1d4b9f" stroke="#1e1e1e" stroke-width="1.15"/><line x1="133.10" y1="907.38" x2="136.90" y2="907.38" stroke="#1e1e1e" stroke-width="1.25"/><text x="131.80" y="908.98" font-size="8.4" font-weight="bold" text-anchor="end" fill="#111" transform="translate(131.80 0) scale(0.875 1) translate(-131.80 0)">Organic hydroxy metabolism</text><text x="158.14" y="910.98" font-size="8.4" font-weight="bold" fill="#111" transform="translate(158.14 0) scale(0.875 1) translate(-158.14 0)"><tspan fill="#2456b0">25</tspan>/245</text><rect x="136.90" y="915.85" width="15.40" height="6.20" fill="#1d4b9f" stroke="#1e1e1e" stroke-width="1.15"/><line x1="133.10" y1="918.50" x2="136.90" y2="918.50" stroke="#1e1e1e" stroke-width="1.25"/><text x="131.80" y="920.15" font-size="8.4" font-weight="bold" text-anchor="end" fill="#111" transform="translate(131.80 0) scale(0.875 1) translate(-131.80 0)">Small molecule biosynthesis</text><text x="154.60" y="922.15" font-size="8.4" font-weight="bold" fill="#111" transform="translate(154.60 0) scale(0.875 1) translate(-154.60 0)"><tspan fill="#2456b0">38</tspan>/458</text><line x1="136.90" y1="631.40" x2="136.90" y2="925.90" stroke="#1e1e1e" stroke-width="1.4"/><line x1="136.30" y1="925.30" x2="323.10" y2="925.30" stroke="#1e1e1e" stroke-width="1.4"/><rect x="439.60" y="638.10" width="113.41" height="7.60" fill="#ee3131" stroke="#1e1e1e" stroke-width="1.15"/><line x1="434.30" y1="641.60" x2="439.60" y2="641.60" stroke="#1e1e1e" stroke-width="1.25"/><text x="433.20" y="644.30" font-size="7.9" font-weight="bold" text-anchor="end" fill="#111" transform="translate(433.20 0) scale(0.93 1) translate(-433.20 0)">Citrate cycle (TCA cycle)</text><text x="556.01" y="646.30" font-size="8.4" font-weight="bold" fill="#111" transform="translate(556.01 0) scale(0.875 1) translate(-556.01 0)"><tspan fill="#5cb846">13</tspan>/34</text><rect x="439.60" y="651.09" width="84.74" height="7.60" fill="#ee3131" stroke="#1e1e1e" stroke-width="1.15"/><line x1="434.30" y1="654.59" x2="439.60" y2="654.59" stroke="#1e1e1e" stroke-width="1.25"/><text x="433.20" y="657.29" font-size="7.9" font-weight="bold" text-anchor="end" fill="#111" transform="translate(433.20 0) scale(0.93 1) translate(-433.20 0)">Ascorbate and aldarate metabolism</text><text x="527.34" y="659.29" font-size="8.4" font-weight="bold" fill="#111" transform="translate(527.34 0) scale(0.875 1) translate(-527.34 0)"><tspan fill="#5cb846">6</tspan>/21</text><rect x="439.60" y="664.08" width="69.79" height="7.60" fill="#ee3131" stroke="#1e1e1e" stroke-width="1.15"/><line x1="434.30" y1="667.58" x2="439.60" y2="667.58" stroke="#1e1e1e" stroke-width="1.25"/><text x="433.20" y="670.28" font-size="7.9" font-weight="bold" text-anchor="end" fill="#111" transform="translate(433.20 0) scale(0.93 1) translate(-433.20 0)">RNA degradation</text><text x="512.39" y="672.28" font-size="8.4" font-weight="bold" fill="#111" transform="translate(512.39 0) scale(0.875 1) translate(-512.39 0)"><tspan fill="#5cb846">4</tspan>/17</text><rect x="439.60" y="677.07" width="68.45" height="7.60" fill="#ee3131" stroke="#1e1e1e" stroke-width="1.15"/><line x1="434.30" y1="680.57" x2="439.60" y2="680.57" stroke="#1e1e1e" stroke-width="1.25"/><text x="433.20" y="683.27" font-size="7.9" font-weight="bold" text-anchor="end" fill="#111" transform="translate(433.20 0) scale(0.93 1) translate(-433.20 0)">Methane metabolism</text><text x="511.05" y="685.27" font-size="8.4" font-weight="bold" fill="#111" transform="translate(511.05 0) scale(0.875 1) translate(-511.05 0)"><tspan fill="#5cb846">9</tspan>/39</text><rect x="439.60" y="690.06" width="69.42" height="7.60" fill="#ee3131" stroke="#1e1e1e" stroke-width="1.15"/><line x1="434.30" y1="693.56" x2="439.60" y2="693.56" stroke="#1e1e1e" stroke-width="1.25"/><text x="433.20" y="696.26" font-size="7.9" font-weight="bold" text-anchor="end" fill="#111" transform="translate(433.20 0) scale(0.93 1) translate(-433.20 0)">Oxidative phosphorylation</text><text x="512.02" y="698.26" font-size="8.4" font-weight="bold" fill="#111" transform="translate(512.02 0) scale(0.875 1) translate(-512.02 0)"><tspan fill="#5cb846">11</tspan>/47</text><rect x="439.60" y="703.05" width="66.40" height="7.60" fill="#ee3131" stroke="#1e1e1e" stroke-width="1.15"/><line x1="434.30" y1="706.55" x2="439.60" y2="706.55" stroke="#1e1e1e" stroke-width="1.25"/><text x="433.20" y="709.25" font-size="7.9" font-weight="bold" text-anchor="end" fill="#111" transform="translate(433.20 0) scale(0.93 1) translate(-433.20 0)">Phosphotransferase system (PTS)</text><text x="509.00" y="711.25" font-size="8.4" font-weight="bold" fill="#111" transform="translate(509.00 0) scale(0.875 1) translate(-509.00 0)"><tspan fill="#5cb846">15</tspan>/67</text><rect x="439.60" y="716.04" width="63.71" height="7.60" fill="#ee3131" stroke="#1e1e1e" stroke-width="1.15"/><line x1="434.30" y1="719.54" x2="439.60" y2="719.54" stroke="#1e1e1e" stroke-width="1.25"/><text x="433.20" y="722.24" font-size="7.9" font-weight="bold" text-anchor="end" fill="#111" transform="translate(433.20 0) scale(0.93 1) translate(-433.20 0)">Carbon metabolism</text><text x="506.31" y="724.24" font-size="8.4" font-weight="bold" fill="#111" transform="translate(506.31 0) scale(0.875 1) translate(-506.31 0)"><tspan fill="#5cb846">29</tspan>/135</text><rect x="439.60" y="729.03" width="59.32" height="7.60" fill="#ee3131" stroke="#1e1e1e" stroke-width="1.15"/><line x1="434.30" y1="732.53" x2="439.60" y2="732.53" stroke="#1e1e1e" stroke-width="1.25"/><text x="433.20" y="735.23" font-size="7.9" font-weight="bold" text-anchor="end" fill="#111" transform="translate(433.20 0) scale(0.93 1) translate(-433.20 0)">Fructose and mannose metabolism</text><text x="501.92" y="737.23" font-size="8.4" font-weight="bold" fill="#111" transform="translate(501.92 0) scale(0.875 1) translate(-501.92 0)"><tspan fill="#5cb846">10</tspan>/50</text><rect x="439.60" y="742.02" width="49.43" height="7.60" fill="#ee3131" stroke="#1e1e1e" stroke-width="1.15"/><line x1="434.30" y1="745.52" x2="439.60" y2="745.52" stroke="#1e1e1e" stroke-width="1.25"/><text x="433.20" y="748.22" font-size="7.9" font-weight="bold" text-anchor="end" fill="#111" transform="translate(433.20 0) scale(0.93 1) translate(-433.20 0)">Starch and sucrose metabolism</text><text x="492.03" y="750.22" font-size="8.4" font-weight="bold" fill="#111" transform="translate(492.03 0) scale(0.875 1) translate(-492.03 0)"><tspan fill="#5cb846">11</tspan>/66</text><rect x="439.60" y="755.01" width="47.84" height="7.60" fill="#ee3131" stroke="#1e1e1e" stroke-width="1.15"/><line x1="434.30" y1="758.51" x2="439.60" y2="758.51" stroke="#1e1e1e" stroke-width="1.25"/><text x="433.20" y="761.21" font-size="7.9" font-weight="bold" text-anchor="end" fill="#111" transform="translate(433.20 0) scale(0.93 1) translate(-433.20 0)">Glycolysis / Gluconeogenesis</text><text x="490.44" y="763.21" font-size="8.4" font-weight="bold" fill="#111" transform="translate(490.44 0) scale(0.875 1) translate(-490.44 0)"><tspan fill="#5cb846">10</tspan>/62</text><rect x="439.60" y="768.00" width="35.87" height="7.60" fill="#ee3131" stroke="#1e1e1e" stroke-width="1.15"/><line x1="434.30" y1="771.50" x2="439.60" y2="771.50" stroke="#1e1e1e" stroke-width="1.25"/><text x="433.20" y="774.20" font-size="7.9" font-weight="bold" text-anchor="end" fill="#111" transform="translate(433.20 0) scale(0.93 1) translate(-433.20 0)">Microbial metabolism</text><text x="478.47" y="776.20" font-size="8.4" font-weight="bold" fill="#111" transform="translate(478.47 0) scale(0.875 1) translate(-478.47 0)"><tspan fill="#5cb846">41</tspan>/339</text><rect x="439.60" y="780.99" width="174.92" height="7.60" fill="#1d4b9f" stroke="#1e1e1e" stroke-width="1.15"/><line x1="434.30" y1="784.49" x2="439.60" y2="784.49" stroke="#1e1e1e" stroke-width="1.25"/><text x="433.20" y="787.19" font-size="7.9" font-weight="bold" text-anchor="end" fill="#111" transform="translate(433.20 0) scale(0.93 1) translate(-433.20 0)">Sulfur metabolism</text><text x="617.52" y="789.19" font-size="8.4" font-weight="bold" fill="#111" transform="translate(617.52 0) scale(0.875 1) translate(-617.52 0)"><tspan fill="#5cb846">23</tspan>/39</text><rect x="439.60" y="793.98" width="140.49" height="7.60" fill="#1d4b9f" stroke="#1e1e1e" stroke-width="1.15"/><line x1="434.30" y1="797.48" x2="439.60" y2="797.48" stroke="#1e1e1e" stroke-width="1.25"/><text x="433.20" y="800.18" font-size="7.9" font-weight="bold" text-anchor="end" fill="#111" transform="translate(433.20 0) scale(0.93 1) translate(-433.20 0)">Porphyrin metabolism</text><text x="583.09" y="802.18" font-size="8.4" font-weight="bold" fill="#111" transform="translate(583.09 0) scale(0.875 1) translate(-583.09 0)"><tspan fill="#5cb846">18</tspan>/38</text><rect x="439.60" y="806.97" width="136.89" height="7.60" fill="#1d4b9f" stroke="#1e1e1e" stroke-width="1.15"/><line x1="434.30" y1="810.47" x2="439.60" y2="810.47" stroke="#1e1e1e" stroke-width="1.25"/><text x="433.20" y="813.17" font-size="7.9" font-weight="bold" text-anchor="end" fill="#111" transform="translate(433.20 0) scale(0.93 1) translate(-433.20 0)">Histidine metabolism</text><text x="579.49" y="815.17" font-size="8.4" font-weight="bold" fill="#111" transform="translate(579.49 0) scale(0.875 1) translate(-579.49 0)"><tspan fill="#5cb846">6</tspan>/13</text><rect x="439.60" y="819.96" width="128.96" height="7.60" fill="#1d4b9f" stroke="#1e1e1e" stroke-width="1.15"/><line x1="434.30" y1="823.46" x2="439.60" y2="823.46" stroke="#1e1e1e" stroke-width="1.25"/><text x="433.20" y="826.16" font-size="7.9" font-weight="bold" text-anchor="end" fill="#111" transform="translate(433.20 0) scale(0.93 1) translate(-433.20 0)">Ubiquinone/terpenoid-quinone biosynthesis</text><text x="571.56" y="828.16" font-size="8.4" font-weight="bold" fill="#111" transform="translate(571.56 0) scale(0.875 1) translate(-571.56 0)"><tspan fill="#5cb846">10</tspan>/23</text><rect x="439.60" y="832.95" width="122.13" height="7.60" fill="#1d4b9f" stroke="#1e1e1e" stroke-width="1.15"/><line x1="434.30" y1="836.45" x2="439.60" y2="836.45" stroke="#1e1e1e" stroke-width="1.25"/><text x="433.20" y="839.15" font-size="7.9" font-weight="bold" text-anchor="end" fill="#111" transform="translate(433.20 0) scale(0.93 1) translate(-433.20 0)">Thiamine metabolism</text><text x="564.73" y="841.15" font-size="8.4" font-weight="bold" fill="#111" transform="translate(564.73 0) scale(0.875 1) translate(-564.73 0)"><tspan fill="#5cb846">7</tspan>/17</text><rect x="439.60" y="845.94" width="114.81" height="7.60" fill="#1d4b9f" stroke="#1e1e1e" stroke-width="1.15"/><line x1="434.30" y1="849.44" x2="439.60" y2="849.44" stroke="#1e1e1e" stroke-width="1.25"/><text x="433.20" y="852.14" font-size="7.9" font-weight="bold" text-anchor="end" fill="#111" transform="translate(433.20 0) scale(0.93 1) translate(-433.20 0)">Homologous recombination</text><text x="557.41" y="854.14" font-size="8.4" font-weight="bold" fill="#111" transform="translate(557.41 0) scale(0.875 1) translate(-557.41 0)"><tspan fill="#5cb846">12</tspan>/31</text><rect x="439.60" y="858.93" width="102.67" height="7.60" fill="#1d4b9f" stroke="#1e1e1e" stroke-width="1.15"/><line x1="434.30" y1="862.43" x2="439.60" y2="862.43" stroke="#1e1e1e" stroke-width="1.25"/><text x="433.20" y="865.13" font-size="7.9" font-weight="bold" text-anchor="end" fill="#111" transform="translate(433.20 0) scale(0.93 1) translate(-433.20 0)">Peptidoglycan biosynthesis</text><text x="545.27" y="867.13" font-size="8.4" font-weight="bold" fill="#111" transform="translate(545.27 0) scale(0.875 1) translate(-545.27 0)"><tspan fill="#5cb846">9</tspan>/26</text><rect x="439.60" y="871.92" width="98.87" height="7.60" fill="#1d4b9f" stroke="#1e1e1e" stroke-width="1.15"/><line x1="434.30" y1="875.42" x2="439.60" y2="875.42" stroke="#1e1e1e" stroke-width="1.25"/><text x="433.20" y="878.12" font-size="7.9" font-weight="bold" text-anchor="end" fill="#111" transform="translate(433.20 0) scale(0.93 1) translate(-433.20 0)">Benzoate degradation</text><text x="541.47" y="880.12" font-size="8.4" font-weight="bold" fill="#111" transform="translate(541.47 0) scale(0.875 1) translate(-541.47 0)"><tspan fill="#5cb846">13</tspan>/39</text><rect x="439.60" y="884.91" width="91.80" height="7.60" fill="#1d4b9f" stroke="#1e1e1e" stroke-width="1.15"/><line x1="434.30" y1="888.41" x2="439.60" y2="888.41" stroke="#1e1e1e" stroke-width="1.25"/><text x="433.20" y="891.11" font-size="7.9" font-weight="bold" text-anchor="end" fill="#111" transform="translate(433.20 0) scale(0.93 1) translate(-433.20 0)">Biosynthesis of cofactors</text><text x="534.40" y="893.11" font-size="8.4" font-weight="bold" fill="#111" transform="translate(534.40 0) scale(0.875 1) translate(-534.40 0)"><tspan fill="#5cb846">52</tspan>/168</text><rect x="439.60" y="897.90" width="89.88" height="7.60" fill="#1d4b9f" stroke="#1e1e1e" stroke-width="1.15"/><line x1="434.30" y1="901.40" x2="439.60" y2="901.40" stroke="#1e1e1e" stroke-width="1.25"/><text x="433.20" y="904.10" font-size="7.9" font-weight="bold" text-anchor="end" fill="#111" transform="translate(433.20 0) scale(0.93 1) translate(-433.20 0)">Phenylalanine metabolism</text><text x="532.48" y="906.10" font-size="8.4" font-weight="bold" fill="#111" transform="translate(532.48 0) scale(0.875 1) translate(-532.48 0)"><tspan fill="#5cb846">10</tspan>/33</text><rect x="439.60" y="910.89" width="78.60" height="7.60" fill="#1d4b9f" stroke="#1e1e1e" stroke-width="1.15"/><line x1="434.30" y1="914.39" x2="439.60" y2="914.39" stroke="#1e1e1e" stroke-width="1.25"/><text x="433.20" y="917.09" font-size="7.9" font-weight="bold" text-anchor="end" fill="#111" transform="translate(433.20 0) scale(0.93 1) translate(-433.20 0)">ABC transporters</text><text x="521.20" y="919.09" font-size="8.4" font-weight="bold" fill="#111" transform="translate(521.20 0) scale(0.875 1) translate(-521.20 0)"><tspan fill="#5cb846">75</tspan>/283</text><line x1="439.60" y1="632.30" x2="439.60" y2="924.30" stroke="#1e1e1e" stroke-width="1.4"/><line x1="439.00" y1="923.70" x2="677.48" y2="923.70" stroke="#1e1e1e" stroke-width="1.4"/><line x1="136.90" y1="925.30" x2="136.90" y2="931.50" stroke="#1e1e1e" stroke-width="1.3"/><text x="136.90" y="941.79" font-size="9.2" font-weight="bold" text-anchor="middle" fill="#111" transform="translate(136.90 0) scale(0.64 1) translate(-136.90 0)">0</text><line x1="174.15" y1="925.30" x2="174.15" y2="931.50" stroke="#1e1e1e" stroke-width="1.3"/><text x="174.15" y="941.79" font-size="9.2" font-weight="bold" text-anchor="middle" fill="#111" transform="translate(174.15 0) scale(0.64 1) translate(-174.15 0)">20</text><line x1="211.40" y1="925.30" x2="211.40" y2="931.50" stroke="#1e1e1e" stroke-width="1.3"/><text x="211.40" y="941.79" font-size="9.2" font-weight="bold" text-anchor="middle" fill="#111" transform="translate(211.40 0) scale(0.64 1) translate(-211.40 0)">40</text><line x1="248.65" y1="925.30" x2="248.65" y2="931.50" stroke="#1e1e1e" stroke-width="1.3"/><text x="248.65" y="941.79" font-size="9.2" font-weight="bold" text-anchor="middle" fill="#111" transform="translate(248.65 0) scale(0.64 1) translate(-248.65 0)">60</text><line x1="285.90" y1="925.30" x2="285.90" y2="931.50" stroke="#1e1e1e" stroke-width="1.3"/><text x="285.90" y="941.79" font-size="9.2" font-weight="bold" text-anchor="middle" fill="#111" transform="translate(285.90 0) scale(0.64 1) translate(-285.90 0)">80</text><line x1="323.15" y1="925.30" x2="323.15" y2="931.50" stroke="#1e1e1e" stroke-width="1.3"/><text x="323.15" y="941.79" font-size="9.2" font-weight="bold" text-anchor="middle" fill="#111" transform="translate(323.15 0) scale(0.64 1) translate(-323.15 0)">100</text><line x1="439.60" y1="923.70" x2="439.60" y2="928.00" stroke="#1e1e1e" stroke-width="1.3"/><text x="439.60" y="938.46" font-size="8.0" font-weight="bold" text-anchor="middle" fill="#111" transform="translate(439.60 0) scale(0.94 1) translate(-439.60 0)">0</text><line x1="499.10" y1="923.70" x2="499.10" y2="928.00" stroke="#1e1e1e" stroke-width="1.3"/><text x="499.10" y="938.46" font-size="8.0" font-weight="bold" text-anchor="middle" fill="#111" transform="translate(499.10 0) scale(0.94 1) translate(-499.10 0)">20</text><line x1="558.60" y1="923.70" x2="558.60" y2="928.00" stroke="#1e1e1e" stroke-width="1.3"/><text x="558.60" y="938.46" font-size="8.0" font-weight="bold" text-anchor="middle" fill="#111" transform="translate(558.60 0) scale(0.94 1) translate(-558.60 0)">40</text><line x1="618.10" y1="923.70" x2="618.10" y2="928.00" stroke="#1e1e1e" stroke-width="1.3"/><text x="618.10" y="938.46" font-size="8.0" font-weight="bold" text-anchor="middle" fill="#111" transform="translate(618.10 0) scale(0.94 1) translate(-618.10 0)">60</text><line x1="677.60" y1="923.70" x2="677.60" y2="928.00" stroke="#1e1e1e" stroke-width="1.3"/><text x="677.60" y="938.46" font-size="8.0" font-weight="bold" text-anchor="middle" fill="#111" transform="translate(677.60 0) scale(0.94 1) translate(-677.60 0)">80</text><text x="89.8" y="953.5" font-size="8.8" font-weight="bold" fill="#1a1a1a" textLength="282.5" lengthAdjust="spacingAndGlyphs">% of genes modulated within Biological Process classification from <tspan font-style="italic">A. fumigatus</tspan></text><text x="428.5" y="952.2" font-size="8.8" font-weight="bold" fill="#1a1a1a" textLength="257" lengthAdjust="spacingAndGlyphs" xml:space="preserve">% of genes modulated/pathway from <tspan font-style="italic">K. pneumoniae</tspan>  according to KEGG</text><rect x="614.60" y="639.90" width="9.00" height="9.30" fill="#ee3131" stroke="#1e1e1e" stroke-width="1.2"/><rect x="614.60" y="653.30" width="9.00" height="9.30" fill="#1d4b9f" stroke="#1e1e1e" stroke-width="1.2"/><text x="625.70" y="645.23" font-size="7.35" font-weight="bold" text-anchor="start" fill="#231f20">upregulated</text><text x="625.70" y="660.43" font-size="7.35" font-weight="bold" text-anchor="start" fill="#231f20">downregulated</text></svg></body></html>
